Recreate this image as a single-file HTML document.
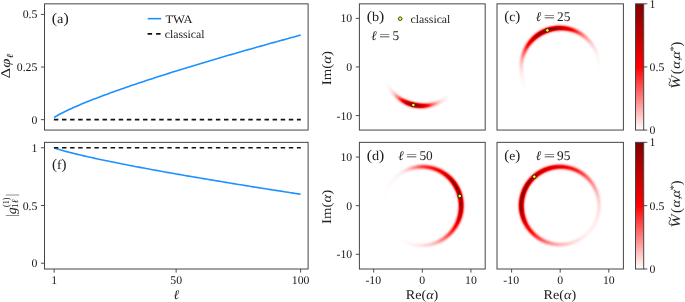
<!DOCTYPE html>
<html lang="en"><head><meta charset="utf-8"><title>TWA phase diffusion figure</title>
<style>html,body{margin:0;padding:0;background:#fff}body{width:685px;height:302px;overflow:hidden}svg{display:block}text{font-family:"Liberation Serif", serif;fill:#202020;text-rendering:geometricPrecision}svg{will-change:transform;transform:translateZ(0)}</style></head><body>
<svg width="685" height="302" viewBox="0 0 685 302">
<rect width="685" height="302" fill="#fff"/>
<defs><linearGradient id="cb" x1="0" y1="1" x2="0" y2="0"><stop offset="0" stop-color="#ffffff"/><stop offset="0.5" stop-color="#ff0000"/><stop offset="1" stop-color="#800000"/></linearGradient>
<clipPath id="cb_"><rect x="359.4" y="3.85" width="125.8" height="126.2"/></clipPath>
<clipPath id="cc_"><rect x="497" y="3.85" width="126.4" height="126.2"/></clipPath>
<clipPath id="cd_"><rect x="359.4" y="142.35" width="125.8" height="126.65"/></clipPath>
<clipPath id="ce_"><rect x="497" y="142.35" width="126.4" height="126.65"/></clipPath>
</defs>
<g id="panel-a">
<path d="M54.15 117.54L56.64 115.95L59.13 114.53L61.62 113.19L64.11 111.93L66.6 110.72L69.09 109.54L71.58 108.4L74.07 107.29L76.56 106.2L79.05 105.14L81.53 104.09L84.02 103.07L86.51 102.05L89 101.06L91.49 100.07L93.98 99.1L96.47 98.14L98.96 97.19L101.45 96.25L103.94 95.32L106.43 94.4L108.92 93.49L111.41 92.59L113.9 91.69L116.39 90.8L118.88 89.92L121.37 89.04L123.86 88.17L126.35 87.31L128.84 86.45L131.32 85.6L133.81 84.75L136.3 83.91L138.79 83.08L141.28 82.24L143.77 81.42L146.26 80.6L148.75 79.78L151.24 78.96L153.73 78.15L156.22 77.35L158.71 76.55L161.2 75.75L163.69 74.95L166.18 74.16L168.67 73.38L171.16 72.59L173.65 71.81L176.14 71.03L178.62 70.26L181.11 69.49L183.6 68.72L186.09 67.95L188.58 67.19L191.07 66.43L193.56 65.68L196.05 64.92L198.54 64.17L201.03 63.42L203.52 62.67L206.01 61.93L208.5 61.19L210.99 60.45L213.48 59.71L215.97 58.98L218.46 58.25L220.95 57.52L223.44 56.79L225.93 56.06L228.42 55.34L230.9 54.62L233.39 53.9L235.88 53.18L238.37 52.46L240.86 51.75L243.35 51.04L245.84 50.33L248.33 49.62L250.82 48.92L253.31 48.21L255.8 47.51L258.29 46.81L260.78 46.11L263.27 45.41L265.76 44.71L268.25 44.02L270.74 43.33L273.23 42.64L275.72 41.95L278.2 41.26L280.69 40.57L283.18 39.89L285.67 39.2L288.16 38.52L290.65 37.84L293.14 37.16L295.63 36.49L298.12 35.81L300.61 35.13" fill="none" stroke="#1e90ff" stroke-width="1.6" stroke-linecap="butt" stroke-linejoin="round"/>
<line x1="53.9" y1="119.65" x2="300.8" y2="119.65" stroke="#111" stroke-width="1.7" stroke-dasharray="4.45 3.65"/>
<rect x="44.5" y="3.85" width="263.6" height="126.2" fill="none" stroke="#454545" stroke-width="1"/>
<line x1="40.9" y1="14.45" x2="44.5" y2="14.45" stroke="#454545" stroke-width="0.95" />
<text x="37.4" y="18.45" font-size="11.8" text-anchor="end">0.5</text>
<line x1="40.9" y1="67.05" x2="44.5" y2="67.05" stroke="#454545" stroke-width="0.95" />
<text x="37.4" y="71.05" font-size="11.8" text-anchor="end">0.25</text>
<line x1="40.9" y1="119.65" x2="44.5" y2="119.65" stroke="#454545" stroke-width="0.95" />
<text x="37.4" y="123.65" font-size="11.8" text-anchor="end">0</text>
<text x="51.8" y="22.8" font-size="13.3" textLength="17" lengthAdjust="spacingAndGlyphs"><tspan font-size="14.7" dy="0.3">(</tspan><tspan dy="-0.3">a</tspan><tspan font-size="14.7" dy="0.3">)</tspan></text>
<line x1="147.7" y1="18.65" x2="161.1" y2="18.65" stroke="#1e90ff" stroke-width="1.6" />
<text x="165.4" y="22.5" font-size="11.3" textLength="27.2" lengthAdjust="spacingAndGlyphs">TWA</text>
<line x1="147.6" y1="33.85" x2="160.8" y2="33.85" stroke="#111" stroke-width="1.7" stroke-dasharray="4.5 4.0"/>
<text x="164.8" y="37.8" font-size="11.5" textLength="39.7" lengthAdjust="spacingAndGlyphs">classical</text>
<text transform="translate(10.3 78.4) rotate(-90)" font-size="13.3" textLength="24.8" lengthAdjust="spacingAndGlyphs"><tspan>&#916;</tspan><tspan font-style="italic">&#966;</tspan><tspan font-style="italic" font-size="9.3" dy="2.2">&#8467;</tspan></text>
</g>
<g id="panel-f">
<path d="M54.15 147.81L56.64 148.69L59.13 149.48L61.62 150.22L64.11 150.93L66.6 151.61L69.09 152.27L71.58 152.9L74.07 153.53L76.56 154.14L79.05 154.73L81.53 155.32L84.02 155.89L86.51 156.46L89 157.02L91.49 157.57L93.98 158.12L96.47 158.66L98.96 159.19L101.45 159.72L103.94 160.24L106.43 160.76L108.92 161.27L111.41 161.78L113.9 162.29L116.39 162.79L118.88 163.29L121.37 163.78L123.86 164.27L126.35 164.75L128.84 165.24L131.32 165.72L133.81 166.19L136.3 166.67L138.79 167.14L141.28 167.61L143.77 168.08L146.26 168.54L148.75 169L151.24 169.46L153.73 169.92L156.22 170.37L158.71 170.82L161.2 171.27L163.69 171.72L166.18 172.17L168.67 172.61L171.16 173.06L173.65 173.5L176.14 173.93L178.62 174.37L181.11 174.81L183.6 175.24L186.09 175.67L188.58 176.1L191.07 176.53L193.56 176.96L196.05 177.39L198.54 177.81L201.03 178.23L203.52 178.66L206.01 179.08L208.5 179.5L210.99 179.91L213.48 180.33L215.97 180.75L218.46 181.16L220.95 181.57L223.44 181.98L225.93 182.39L228.42 182.8L230.9 183.21L233.39 183.62L235.88 184.02L238.37 184.43L240.86 184.83L243.35 185.23L245.84 185.64L248.33 186.04L250.82 186.44L253.31 186.84L255.8 187.23L258.29 187.63L260.78 188.03L263.27 188.42L265.76 188.81L268.25 189.21L270.74 189.6L273.23 189.99L275.72 190.38L278.2 190.77L280.69 191.16L283.18 191.55L285.67 191.93L288.16 192.32L290.65 192.7L293.14 193.09L295.63 193.47L298.12 193.86L300.61 194.24" fill="none" stroke="#1e90ff" stroke-width="1.6" stroke-linecap="butt" stroke-linejoin="round"/>
<line x1="53.9" y1="147.75" x2="300.8" y2="147.75" stroke="#111" stroke-width="1.7" stroke-dasharray="4.45 3.65"/>
<rect x="44.5" y="142.35" width="263.6" height="126.65" fill="none" stroke="#454545" stroke-width="1"/>
<line x1="40.9" y1="147.75" x2="44.5" y2="147.75" stroke="#454545" stroke-width="0.95" />
<text x="37.4" y="151.75" font-size="11.8" text-anchor="end">1</text>
<line x1="40.9" y1="205.5" x2="44.5" y2="205.5" stroke="#454545" stroke-width="0.95" />
<text x="37.4" y="209.5" font-size="11.8" text-anchor="end">0.5</text>
<line x1="40.9" y1="263.2" x2="44.5" y2="263.2" stroke="#454545" stroke-width="0.95" />
<text x="37.4" y="267.2" font-size="11.8" text-anchor="end">0</text>
<line x1="54.15" y1="269" x2="54.15" y2="272.6" stroke="#454545" stroke-width="0.95" />
<text x="54.15" y="284" font-size="11.8" text-anchor="middle">1</text>
<line x1="176.14" y1="269" x2="176.14" y2="272.6" stroke="#454545" stroke-width="0.95" />
<text x="176.14" y="284" font-size="11.8" text-anchor="middle">50</text>
<line x1="300.61" y1="269" x2="300.61" y2="272.6" stroke="#454545" stroke-width="0.95" />
<text x="300.61" y="284" font-size="11.8" text-anchor="middle">100</text>
<text x="176.2" y="298.8" font-size="13.3" text-anchor="middle" font-style="italic">&#8467;</text>
<text x="52" y="169" font-size="13.3" textLength="14.5" lengthAdjust="spacingAndGlyphs"><tspan font-size="14.7" dy="0.3">(</tspan><tspan dy="-0.3">f</tspan><tspan font-size="14.7" dy="0.3">)</tspan></text>
<g transform="translate(0 216.5) rotate(-90)" font-size="13.3"><text x="-0.35" y="15.5" font-size="14.6" textLength="2" lengthAdjust="spacingAndGlyphs">|</text><text x="2.2" y="15.5" font-style="italic" textLength="7" lengthAdjust="spacingAndGlyphs">g</text><text x="9.6" y="9.4" font-size="9.3" textLength="9.4" lengthAdjust="spacingAndGlyphs">(1)</text><text x="8.6" y="18.0" font-size="9.3">1<tspan font-style="italic">&#8467;</tspan></text><text x="20.45" y="15.5" font-size="14.6" textLength="2" lengthAdjust="spacingAndGlyphs">|</text></g>
</g>
<g id="panel-b">
<g clip-path="url(#cb_)"><path d="M386.4 81.9L385.9 82.8L385.8 84.3L386.1 85.8L386.4 87.2L386.9 88.6L387.5 90.0L388.1 91.3L388.8 92.6L389.6 93.9L390.4 95.2L391.3 96.4L392.3 97.5L393.2 98.7L394.3 99.7L395.4 100.8L396.5 101.8L397.7 102.8L398.9 103.7L400.2 104.6L401.4 105.4L402.8 106.1L404.1 106.9L405.5 107.5L406.9 108.1L408.3 108.7L409.8 109.1L411.3 109.6L412.8 109.9L414.3 110.2L415.8 110.5L417.3 110.7L418.9 110.8L420.4 110.8L421.9 110.8L423.4 110.8L425.0 110.6L426.5 110.4L428.0 110.2L429.5 109.9L431.0 109.5L432.4 109.1L433.9 108.6L435.3 108.1L436.7 107.5L438.0 106.9L439.4 106.2L440.7 105.4L441.9 104.7L443.2 103.8L444.3 102.9L445.5 102.0L446.6 101.0L447.6 99.9L448.6 98.8L449.4 97.6L450.2 96.4L450.9 95.0L450.9 93.3L449.2 93.4L447.9 93.9L446.7 94.5L445.5 95.1L444.4 95.7L443.2 96.2L442.0 96.8L440.9 97.3L439.7 97.8L438.6 98.2L437.4 98.6L436.2 99.0L435.1 99.4L433.9 99.7L432.7 100.0L431.5 100.2L430.3 100.4L429.1 100.6L427.9 100.7L426.8 100.8L425.6 100.9L424.4 100.9L423.2 100.9L422.0 100.8L420.8 100.8L419.6 100.6L418.5 100.5L417.3 100.3L416.2 100.1L415.0 99.9L413.9 99.6L412.7 99.3L411.6 99.0L410.5 98.6L409.3 98.2L408.2 97.8L407.1 97.4L406.1 96.9L405.0 96.4L403.9 95.8L402.9 95.2L401.8 94.6L400.8 94.0L399.8 93.3L398.8 92.6L397.8 91.8L396.9 91.1L395.9 90.3L395.0 89.4L394.1 88.6L393.2 87.7L392.3 86.8L391.4 85.9L390.5 84.9L389.6 84.0L388.6 83.0L387.4 82.1Z" fill="#fffcfc"/><path d="M387.5 84.3L387.0 85.3L387.1 86.8L387.5 88.3L388.0 89.7L388.6 91.0L389.2 92.3L390.0 93.6L390.8 94.8L391.6 96.0L392.6 97.2L393.5 98.3L394.6 99.4L395.6 100.5L396.7 101.5L397.9 102.4L399.1 103.4L400.3 104.2L401.6 105.0L402.9 105.8L404.3 106.5L405.6 107.2L407.0 107.8L408.5 108.3L409.9 108.8L411.4 109.2L412.8 109.6L414.3 109.9L415.8 110.1L417.4 110.3L418.9 110.4L420.4 110.5L421.9 110.5L423.4 110.4L424.9 110.3L426.5 110.1L427.9 109.8L429.4 109.5L430.9 109.2L432.3 108.7L433.8 108.3L435.2 107.7L436.5 107.1L437.9 106.5L439.2 105.8L440.5 105.0L441.7 104.2L442.9 103.4L444.1 102.5L445.2 101.5L446.2 100.5L447.2 99.4L448.0 98.2L448.8 96.9L448.9 95.3L447.4 95.3L446.0 95.7L444.8 96.2L443.6 96.8L442.4 97.3L441.2 97.7L440.0 98.2L438.8 98.6L437.6 99.0L436.4 99.4L435.2 99.8L434.0 100.1L432.8 100.3L431.6 100.6L430.4 100.8L429.2 100.9L428.0 101.1L426.8 101.2L425.6 101.2L424.4 101.3L423.2 101.2L422.0 101.2L420.8 101.1L419.6 101.0L418.4 100.9L417.3 100.7L416.1 100.5L414.9 100.2L413.8 100.0L412.6 99.7L411.5 99.3L410.3 99.0L409.2 98.6L408.1 98.1L407.0 97.7L405.9 97.2L404.8 96.7L403.7 96.1L402.7 95.5L401.6 94.9L400.6 94.3L399.5 93.6L398.5 92.9L397.5 92.1L396.6 91.4L395.6 90.6L394.6 89.8L393.7 88.9L392.7 88.0L391.8 87.2L390.8 86.3L389.8 85.4L388.6 84.5Z" fill="#fff8f8"/><path d="M388.8 86.7L388.5 87.7L388.7 89.2L389.1 90.6L389.7 91.9L390.4 93.2L391.2 94.5L392.0 95.7L392.9 96.9L393.8 98.0L394.8 99.1L395.9 100.1L397.0 101.1L398.1 102.1L399.3 103.0L400.5 103.9L401.8 104.7L403.1 105.5L404.4 106.2L405.8 106.8L407.2 107.4L408.6 108.0L410.0 108.4L411.5 108.9L412.9 109.2L414.4 109.5L415.9 109.7L417.4 109.9L418.9 110.0L420.4 110.1L421.9 110.1L423.4 110.0L424.9 109.9L426.4 109.7L427.9 109.4L429.4 109.1L430.8 108.7L432.2 108.3L433.6 107.8L435.0 107.3L436.4 106.7L437.7 106.0L439.0 105.3L440.2 104.6L441.5 103.7L442.6 102.9L443.7 101.9L444.8 100.9L445.7 99.8L446.5 98.5L446.6 97.3L445.4 97.1L444.0 97.4L442.8 97.9L441.5 98.3L440.3 98.7L439.1 99.1L437.8 99.5L436.6 99.9L435.4 100.2L434.2 100.5L433.0 100.8L431.7 101.0L430.5 101.2L429.3 101.4L428.1 101.5L426.9 101.6L425.6 101.6L424.4 101.6L423.2 101.6L422.0 101.6L420.8 101.5L419.6 101.4L418.4 101.2L417.2 101.1L416.0 100.9L414.8 100.6L413.7 100.3L412.5 100.0L411.3 99.7L410.2 99.3L409.1 98.9L407.9 98.5L406.8 98.0L405.7 97.5L404.6 97.0L403.5 96.5L402.4 95.9L401.3 95.3L400.3 94.6L399.3 93.9L398.2 93.2L397.2 92.5L396.2 91.7L395.2 90.9L394.2 90.1L393.2 89.3L392.2 88.5L391.1 87.6L389.8 86.8Z" fill="#fff3f3"/><path d="M390.0 88.6L389.8 90.1L390.2 91.6L390.8 92.9L391.5 94.2L392.3 95.4L393.2 96.6L394.1 97.7L395.1 98.8L396.1 99.9L397.2 100.9L398.3 101.8L399.5 102.7L400.7 103.6L402.0 104.4L403.2 105.2L404.6 105.9L405.9 106.5L407.3 107.1L408.7 107.7L410.1 108.1L411.5 108.6L413.0 108.9L414.5 109.2L415.9 109.4L417.4 109.6L418.9 109.7L420.4 109.8L421.9 109.8L423.4 109.7L424.9 109.6L426.4 109.4L427.9 109.1L429.3 108.8L430.7 108.4L432.2 108.0L433.5 107.5L434.9 107.0L436.2 106.3L437.6 105.7L438.8 105.0L440.1 104.2L441.2 103.3L442.3 102.4L443.4 101.4L444.3 100.2L444.7 98.7L443.2 98.5L441.8 98.8L440.5 99.2L439.3 99.6L438.0 99.9L436.8 100.3L435.5 100.6L434.3 100.9L433.1 101.1L431.8 101.3L430.6 101.5L429.4 101.7L428.1 101.8L426.9 101.9L425.7 101.9L424.4 102.0L423.2 101.9L422.0 101.9L420.8 101.8L419.6 101.7L418.4 101.5L417.2 101.4L416.0 101.1L414.8 100.9L413.6 100.6L412.4 100.3L411.2 100.0L410.1 99.6L408.9 99.2L407.8 98.8L406.7 98.3L405.5 97.8L404.4 97.3L403.3 96.7L402.2 96.2L401.1 95.5L400.1 94.9L399.0 94.2L398.0 93.5L396.9 92.8L395.9 92.0L394.8 91.3L393.8 90.5L392.7 89.7L391.5 88.9Z" fill="#ffecec"/><path d="M391.0 90.0L390.8 91.1L391.2 92.6L391.9 93.9L392.6 95.1L393.4 96.3L394.3 97.5L395.3 98.6L396.3 99.6L397.4 100.6L398.5 101.6L399.6 102.5L400.8 103.4L402.1 104.2L403.4 104.9L404.7 105.6L406.0 106.3L407.4 106.9L408.8 107.4L410.2 107.9L411.6 108.3L413.1 108.7L414.5 109.0L416.0 109.2L417.5 109.4L419.0 109.5L420.4 109.5L421.9 109.5L423.4 109.4L424.9 109.3L426.4 109.1L427.8 108.8L429.3 108.5L430.7 108.1L432.1 107.7L433.5 107.2L434.8 106.7L436.1 106.0L437.4 105.4L438.7 104.6L439.9 103.8L441.0 102.9L442.1 101.9L443.0 100.7L443.1 99.8L442.3 99.5L440.8 99.7L439.5 100.0L438.2 100.3L436.9 100.6L435.7 100.9L434.4 101.2L433.2 101.4L431.9 101.6L430.7 101.8L429.4 102.0L428.2 102.1L426.9 102.2L425.7 102.2L424.5 102.2L423.2 102.2L422.0 102.1L420.8 102.1L419.5 101.9L418.3 101.8L417.1 101.6L415.9 101.4L414.7 101.1L413.5 100.9L412.3 100.6L411.2 100.2L410.0 99.8L408.8 99.4L407.7 99.0L406.5 98.5L405.4 98.1L404.3 97.5L403.2 97.0L402.1 96.4L401.0 95.8L399.9 95.1L398.8 94.5L397.7 93.8L396.7 93.0L395.6 92.3L394.5 91.5L393.4 90.8L392.1 90.1Z" fill="#ffe3e3"/><path d="M391.9 91.2L391.8 92.1L392.2 93.6L392.9 94.9L393.7 96.1L394.5 97.2L395.5 98.4L396.5 99.4L397.5 100.4L398.6 101.4L399.8 102.3L401.0 103.2L402.2 104.0L403.5 104.7L404.8 105.4L406.1 106.1L407.4 106.7L408.8 107.2L410.2 107.7L411.7 108.1L413.1 108.5L414.6 108.8L416.0 109.0L417.5 109.2L419.0 109.3L420.5 109.3L421.9 109.3L423.4 109.2L424.9 109.1L426.3 108.9L427.8 108.6L429.2 108.3L430.6 107.9L432.0 107.5L433.4 107.0L434.7 106.4L436.0 105.8L437.3 105.1L438.5 104.3L439.7 103.4L440.8 102.4L441.7 101.2L441.7 100.7L441.2 100.4L439.7 100.4L438.4 100.7L437.1 100.9L435.8 101.2L434.5 101.4L433.2 101.7L432.0 101.9L430.7 102.1L429.5 102.2L428.2 102.3L427.0 102.4L425.7 102.4L424.5 102.4L423.2 102.4L422.0 102.4L420.8 102.3L419.5 102.2L418.3 102.0L417.1 101.8L415.9 101.6L414.7 101.3L413.5 101.1L412.3 100.8L411.1 100.4L409.9 100.0L408.8 99.6L407.6 99.2L406.4 98.7L405.3 98.3L404.2 97.7L403.0 97.2L401.9 96.6L400.8 96.0L399.7 95.3L398.6 94.7L397.5 94.0L396.4 93.3L395.3 92.6L394.1 91.9L392.8 91.2Z" fill="#ffdada"/><path d="M392.8 92.3L392.7 93.2L393.2 94.6L393.9 95.8L394.7 97.0L395.6 98.2L396.6 99.2L397.7 100.2L398.8 101.2L399.9 102.1L401.1 103.0L402.3 103.8L403.5 104.6L404.8 105.3L406.2 105.9L407.5 106.5L408.9 107.0L410.3 107.5L411.7 107.9L413.1 108.3L414.6 108.6L416.0 108.8L417.5 109.0L419.0 109.1L420.5 109.1L421.9 109.1L423.4 109.0L424.9 108.9L426.3 108.7L427.8 108.4L429.2 108.1L430.6 107.7L432.0 107.2L433.3 106.7L434.7 106.1L435.9 105.5L437.2 104.8L438.4 103.9L439.5 103.0L440.4 101.7L440.4 101.4L440.1 101.2L438.6 101.1L437.2 101.3L435.9 101.5L434.6 101.7L433.3 101.9L432.1 102.1L430.8 102.3L429.5 102.4L428.3 102.5L427.0 102.6L425.7 102.6L424.5 102.6L423.2 102.6L422.0 102.6L420.7 102.5L419.5 102.3L418.3 102.2L417.1 102.0L415.8 101.8L414.6 101.5L413.4 101.2L412.2 100.9L411.0 100.6L409.9 100.2L408.7 99.8L407.5 99.4L406.4 98.9L405.2 98.4L404.1 97.9L402.9 97.4L401.8 96.8L400.7 96.2L399.6 95.5L398.4 94.9L397.3 94.2L396.2 93.5L395.0 92.8L393.7 92.3Z" fill="#ffcfcf"/><path d="M393.6 93.2L393.5 94.2L394.2 95.6L394.9 96.8L395.8 98.0L396.8 99.0L397.8 100.1L398.9 101.0L400.0 102.0L401.2 102.8L402.4 103.6L403.6 104.4L404.9 105.1L406.2 105.8L407.6 106.4L408.9 106.9L410.3 107.4L411.7 107.8L413.2 108.1L414.6 108.4L416.1 108.6L417.5 108.8L419.0 108.9L420.5 108.9L421.9 108.9L423.4 108.8L424.9 108.7L426.3 108.5L427.7 108.2L429.1 107.9L430.5 107.5L431.9 107.0L433.3 106.5L434.6 105.9L435.9 105.2L437.1 104.5L438.2 103.6L439.2 102.3L439.2 102.0L438.9 101.7L437.4 101.6L436.0 101.8L434.7 102.0L433.4 102.2L432.1 102.3L430.8 102.5L429.6 102.6L428.3 102.7L427.0 102.8L425.8 102.8L424.5 102.8L423.2 102.8L422.0 102.7L420.7 102.6L419.5 102.5L418.3 102.4L417.0 102.2L415.8 101.9L414.6 101.7L413.4 101.4L412.2 101.1L411.0 100.8L409.8 100.4L408.6 100.0L407.4 99.5L406.3 99.1L405.1 98.6L404.0 98.1L402.8 97.5L401.7 96.9L400.6 96.3L399.4 95.7L398.3 95.1L397.1 94.4L395.9 93.8L394.6 93.2Z" fill="#ffc3c3"/><path d="M394.4 94.0L394.4 95.3L395.1 96.6L396.0 97.8L396.9 98.9L397.9 99.9L399.0 100.9L400.1 101.8L401.3 102.7L402.5 103.5L403.7 104.3L405.0 105.0L406.3 105.6L407.6 106.2L409.0 106.7L410.4 107.2L411.8 107.6L413.2 108.0L414.6 108.3L416.1 108.5L417.5 108.6L419.0 108.7L420.5 108.8L421.9 108.8L423.4 108.7L424.8 108.5L426.3 108.3L427.7 108.0L429.1 107.7L430.5 107.3L431.9 106.8L433.2 106.3L434.5 105.7L435.8 105.0L436.9 104.1L438.0 103.0L438.1 102.5L437.6 102.2L436.2 102.1L434.8 102.2L433.5 102.4L432.2 102.6L430.9 102.7L429.6 102.8L428.3 102.9L427.0 103.0L425.8 103.0L424.5 103.0L423.2 103.0L422.0 102.9L420.7 102.8L419.5 102.7L418.2 102.5L417.0 102.3L415.8 102.1L414.6 101.8L413.3 101.6L412.1 101.2L410.9 100.9L409.7 100.5L408.6 100.1L407.4 99.7L406.2 99.2L405.0 98.7L403.9 98.2L402.7 97.7L401.6 97.1L400.4 96.5L399.3 95.9L398.1 95.3L396.9 94.6L395.6 94.1Z" fill="#ffb7b7"/><path d="M395.1 94.7L395.4 96.3L396.2 97.6L397.1 98.7L398.0 99.7L399.1 100.7L400.2 101.7L401.3 102.5L402.5 103.4L403.8 104.1L405.0 104.8L406.3 105.5L407.7 106.1L409.0 106.6L410.4 107.1L411.8 107.5L413.2 107.8L414.7 108.1L416.1 108.3L417.6 108.5L419.0 108.6L420.5 108.6L421.9 108.6L423.4 108.5L424.8 108.4L426.3 108.2L427.7 107.9L429.1 107.5L430.5 107.1L431.8 106.6L433.1 106.1L434.4 105.4L435.7 104.7L436.8 103.7L437.1 102.9L436.3 102.6L434.9 102.5L433.6 102.6L432.2 102.8L430.9 102.9L429.6 103.0L428.3 103.1L427.1 103.1L425.8 103.2L424.5 103.1L423.2 103.1L422.0 103.0L420.7 102.9L419.5 102.8L418.2 102.7L417.0 102.5L415.8 102.2L414.5 102.0L413.3 101.7L412.1 101.4L410.9 101.0L409.7 100.7L408.5 100.3L407.3 99.8L406.1 99.4L405.0 98.9L403.8 98.4L402.6 97.8L401.5 97.3L400.3 96.7L399.1 96.1L397.9 95.5L396.7 94.9Z" fill="#ffa9a9"/><path d="M395.8 95.4L395.7 96.0L396.4 97.3L397.2 98.5L398.2 99.6L399.2 100.6L400.3 101.5L401.4 102.4L402.6 103.2L403.8 104.0L405.1 104.7L406.4 105.3L407.7 105.9L409.1 106.5L410.5 106.9L411.9 107.4L413.3 107.7L414.7 108.0L416.1 108.2L417.6 108.4L419.0 108.5L420.5 108.5L421.9 108.5L423.4 108.4L424.8 108.2L426.3 108.0L427.7 107.7L429.1 107.4L430.4 106.9L431.8 106.4L433.1 105.8L434.3 105.2L435.5 104.3L436.1 103.3L435.0 102.9L433.6 102.9L432.3 103.0L431.0 103.1L429.7 103.2L428.4 103.2L427.1 103.3L425.8 103.3L424.5 103.3L423.3 103.3L422.0 103.2L420.7 103.1L419.5 103.0L418.2 102.8L417.0 102.6L415.7 102.4L414.5 102.1L413.3 101.8L412.1 101.5L410.8 101.2L409.6 100.8L408.4 100.4L407.3 100.0L406.1 99.5L404.9 99.0L403.7 98.5L402.5 98.0L401.4 97.4L400.2 96.8L399.0 96.3L397.7 95.7L396.3 95.3Z" fill="#ff9a9a"/><path d="M396.5 96.0L396.6 97.0L397.4 98.3L398.3 99.4L399.3 100.4L400.4 101.4L401.5 102.3L402.7 103.1L403.9 103.9L405.2 104.6L406.4 105.2L407.8 105.8L409.1 106.3L410.5 106.8L411.9 107.2L413.3 107.6L414.7 107.9L416.2 108.1L417.6 108.2L419.0 108.3L420.5 108.4L421.9 108.3L423.4 108.2L424.8 108.1L426.2 107.8L427.6 107.6L429.0 107.2L430.4 106.7L431.7 106.2L433.0 105.6L434.2 104.8L435.1 103.7L433.7 103.2L432.4 103.2L431.0 103.3L429.7 103.4L428.4 103.4L427.1 103.4L425.8 103.5L424.5 103.4L423.3 103.4L422.0 103.3L420.7 103.2L419.5 103.1L418.2 102.9L417.0 102.7L415.7 102.5L414.5 102.2L413.2 102.0L412.0 101.6L410.8 101.3L409.6 100.9L408.4 100.5L407.2 100.1L406.0 99.6L404.8 99.2L403.6 98.6L402.4 98.1L401.3 97.6L400.1 97.0L398.8 96.5L397.5 96.0Z" fill="#ff8b8b"/><path d="M397.2 96.6L397.6 98.1L398.4 99.2L399.4 100.3L400.5 101.2L401.6 102.1L402.8 103.0L404.0 103.7L405.2 104.4L406.5 105.1L407.8 105.7L409.2 106.2L410.5 106.7L411.9 107.1L413.3 107.5L414.7 107.7L416.2 108.0L417.6 108.1L419.1 108.2L420.5 108.2L421.9 108.2L423.4 108.1L424.8 107.9L426.2 107.7L427.6 107.4L429.0 107.0L430.4 106.6L431.7 106.0L432.9 105.3L434.1 104.4L434.2 104.0L433.9 103.7L432.4 103.5L431.1 103.5L429.7 103.5L428.4 103.6L427.1 103.6L425.8 103.6L424.5 103.6L423.3 103.5L422.0 103.5L420.7 103.4L419.4 103.2L418.2 103.0L416.9 102.9L415.7 102.6L414.4 102.4L413.2 102.1L412.0 101.8L410.8 101.4L409.6 101.0L408.3 100.6L407.1 100.2L405.9 99.8L404.7 99.3L403.6 98.8L402.4 98.3L401.2 97.7L399.9 97.2L398.6 96.7Z" fill="#ff7b7b"/><path d="M397.8 97.2L397.8 97.7L398.6 99.0L399.5 100.1L400.6 101.1L401.7 102.0L402.8 102.8L404.0 103.6L405.3 104.3L406.5 105.0L407.9 105.6L409.2 106.1L410.6 106.6L411.9 107.0L413.3 107.3L414.8 107.6L416.2 107.8L417.6 108.0L419.1 108.1L420.5 108.1L421.9 108.1L423.4 108.0L424.8 107.8L426.2 107.6L427.6 107.2L429.0 106.8L430.3 106.4L431.6 105.8L432.8 105.0L433.3 104.2L432.5 103.8L431.1 103.7L429.8 103.7L428.5 103.7L427.1 103.8L425.8 103.8L424.5 103.7L423.3 103.7L422.0 103.6L420.7 103.5L419.4 103.3L418.2 103.2L416.9 103.0L415.7 102.7L414.4 102.5L413.2 102.2L412.0 101.9L410.7 101.5L409.5 101.2L408.3 100.8L407.1 100.3L405.9 99.9L404.7 99.4L403.5 98.9L402.3 98.4L401.0 97.9L399.8 97.4L398.4 97.0Z" fill="#ff6a6a"/><path d="M398.5 97.7L398.7 98.8L399.6 99.9L400.7 100.9L401.7 101.9L402.9 102.7L404.1 103.5L405.3 104.2L406.6 104.9L407.9 105.5L409.2 106.0L410.6 106.5L412.0 106.9L413.4 107.2L414.8 107.5L416.2 107.7L417.6 107.9L419.1 108.0L420.5 108.0L421.9 107.9L423.4 107.8L424.8 107.7L426.2 107.4L427.6 107.1L428.9 106.7L430.3 106.2L431.6 105.5L432.4 104.5L431.2 104.0L429.8 103.9L428.5 103.9L427.2 103.9L425.9 103.9L424.6 103.9L423.3 103.8L422.0 103.7L420.7 103.6L419.4 103.5L418.2 103.3L416.9 103.1L415.6 102.9L414.4 102.6L413.2 102.3L411.9 102.0L410.7 101.6L409.5 101.3L408.2 100.9L407.0 100.5L405.8 100.0L404.6 99.5L403.4 99.0L402.2 98.6L400.9 98.1L399.6 97.6Z" fill="#ff5858"/><path d="M399.1 98.2L399.1 98.3L399.8 99.7L400.8 100.8L401.8 101.7L403.0 102.6L404.1 103.4L405.4 104.1L406.6 104.8L407.9 105.4L409.3 105.9L410.6 106.4L412.0 106.8L413.4 107.1L414.8 107.4L416.2 107.6L417.7 107.8L419.1 107.8L420.5 107.9L421.9 107.8L423.4 107.7L424.8 107.5L426.2 107.3L427.6 106.9L428.9 106.5L430.2 105.9L431.4 105.0L431.5 104.7L431.3 104.5L429.9 104.2L428.5 104.1L427.2 104.1L425.9 104.0L424.6 104.0L423.3 103.9L422.0 103.8L420.7 103.7L419.4 103.6L418.1 103.4L416.9 103.2L415.6 103.0L414.4 102.7L413.1 102.4L411.9 102.1L410.7 101.8L409.4 101.4L408.2 101.0L407.0 100.6L405.8 100.1L404.5 99.7L403.3 99.2L402.1 98.7L400.8 98.3L399.3 98.1Z" fill="#ff4545"/><path d="M399.8 98.6L400.0 99.5L400.9 100.6L401.9 101.6L403.0 102.4L404.2 103.2L405.4 104.0L406.7 104.6L408.0 105.2L409.3 105.8L410.7 106.3L412.0 106.7L413.4 107.0L414.8 107.3L416.2 107.5L417.7 107.6L419.1 107.7L420.5 107.7L421.9 107.7L423.4 107.6L424.8 107.4L426.2 107.1L427.5 106.7L428.9 106.3L430.2 105.6L430.7 104.9L429.9 104.5L428.6 104.3L427.2 104.3L425.9 104.2L424.6 104.1L423.3 104.1L422.0 104.0L420.7 103.8L419.4 103.7L418.1 103.5L416.9 103.3L415.6 103.1L414.3 102.8L413.1 102.5L411.9 102.2L410.6 101.9L409.4 101.5L408.2 101.1L406.9 100.7L405.7 100.2L404.5 99.8L403.2 99.3L402.0 98.9L400.6 98.5Z" fill="#ff3232"/><path d="M400.4 99.1L401.0 100.4L402.0 101.4L403.1 102.3L404.3 103.1L405.5 103.9L406.7 104.5L408.0 105.1L409.3 105.7L410.7 106.1L412.1 106.6L413.4 106.9L414.8 107.2L416.3 107.4L417.7 107.5L419.1 107.6L420.5 107.6L421.9 107.6L423.4 107.4L424.8 107.2L426.2 106.9L427.5 106.6L428.8 106.0L429.8 105.1L428.6 104.6L427.2 104.4L425.9 104.4L424.6 104.3L423.3 104.2L422.0 104.1L420.7 104.0L419.4 103.8L418.1 103.6L416.8 103.4L415.6 103.2L414.3 102.9L413.1 102.6L411.8 102.3L410.6 102.0L409.3 101.6L408.1 101.2L406.9 100.8L405.6 100.4L404.4 99.9L403.1 99.5L401.8 99.1Z" fill="#ff1e1e"/><path d="M401.1 99.5L401.2 100.1L402.1 101.2L403.2 102.2L404.3 103.0L405.5 103.7L406.8 104.4L408.1 105.0L409.4 105.6L410.7 106.0L412.1 106.4L413.5 106.8L414.9 107.1L416.3 107.3L417.7 107.4L419.1 107.5L420.5 107.5L421.9 107.4L423.4 107.3L424.8 107.1L426.1 106.8L427.5 106.3L428.8 105.6L429.0 105.3L428.7 105.0L427.3 104.7L425.9 104.5L424.6 104.4L423.3 104.3L422.0 104.2L420.7 104.1L419.4 103.9L418.1 103.7L416.8 103.5L415.6 103.3L414.3 103.0L413.0 102.7L411.8 102.4L410.5 102.1L409.3 101.7L408.1 101.3L406.8 100.9L405.6 100.5L404.3 100.1L403.0 99.7L401.6 99.4Z" fill="#ff0909"/><path d="M401.8 100.0L402.2 101.0L403.3 102.0L404.4 102.9L405.6 103.6L406.8 104.3L408.1 104.9L409.4 105.5L410.8 105.9L412.1 106.3L413.5 106.7L414.9 107.0L416.3 107.2L417.7 107.3L419.1 107.4L420.5 107.4L421.9 107.3L423.4 107.2L424.7 106.9L426.1 106.6L427.4 106.1L428.1 105.4L427.3 104.9L425.9 104.7L424.6 104.6L423.3 104.5L422.0 104.3L420.7 104.2L419.4 104.0L418.1 103.9L416.8 103.6L415.5 103.4L414.3 103.1L413.0 102.8L411.8 102.5L410.5 102.2L409.3 101.8L408.0 101.4L406.8 101.0L405.5 100.6L404.2 100.2L402.9 99.9Z" fill="#f90000"/><path d="M402.5 100.4L402.5 100.6L403.4 101.8L404.5 102.7L405.7 103.5L406.9 104.2L408.1 104.8L409.5 105.3L410.8 105.8L412.1 106.2L413.5 106.6L414.9 106.8L416.3 107.1L417.7 107.2L419.1 107.3L420.5 107.3L421.9 107.2L423.3 107.0L424.7 106.7L426.1 106.3L427.3 105.5L426.0 105.0L424.6 104.8L423.3 104.6L422.0 104.5L420.7 104.3L419.4 104.2L418.1 104.0L416.8 103.8L415.5 103.5L414.3 103.2L413.0 102.9L411.7 102.6L410.5 102.3L409.2 101.9L408.0 101.6L406.7 101.2L405.4 100.8L404.1 100.4L402.7 100.3Z" fill="#ee0000"/><path d="M403.2 100.8L403.5 101.6L404.6 102.5L405.7 103.3L406.9 104.1L408.2 104.7L409.5 105.2L410.8 105.7L412.2 106.1L413.5 106.5L414.9 106.7L416.3 106.9L417.7 107.1L419.1 107.1L420.5 107.1L422.0 107.0L423.3 106.8L424.7 106.5L426.1 106.0L426.4 105.6L426.0 105.3L424.6 105.0L423.3 104.8L422.0 104.6L420.7 104.5L419.4 104.3L418.1 104.1L416.8 103.9L415.5 103.6L414.2 103.4L413.0 103.1L411.7 102.7L410.4 102.4L409.2 102.1L407.9 101.7L406.6 101.3L405.3 101.0L404.0 100.7Z" fill="#e20000"/><path d="M403.9 101.2L404.7 102.3L405.8 103.2L407.0 103.9L408.2 104.6L409.5 105.1L410.9 105.6L412.2 106.0L413.6 106.4L414.9 106.6L416.3 106.8L417.7 107.0L419.1 107.0L420.6 107.0L422.0 106.9L423.3 106.7L424.7 106.3L425.5 105.7L424.6 105.2L423.3 105.0L422.0 104.8L420.7 104.6L419.4 104.4L418.1 104.2L416.8 104.0L415.5 103.7L414.2 103.5L412.9 103.2L411.7 102.9L410.4 102.5L409.1 102.2L407.9 101.8L406.6 101.5L405.2 101.1Z" fill="#d70000"/><path d="M404.7 101.6L404.8 102.0L405.9 103.0L407.0 103.8L408.3 104.4L409.6 105.0L410.9 105.5L412.2 105.9L413.6 106.2L415.0 106.5L416.4 106.7L417.8 106.8L419.2 106.9L420.6 106.8L422.0 106.7L423.3 106.4L424.5 105.8L423.3 105.2L422.0 105.0L420.6 104.8L419.3 104.5L418.0 104.3L416.7 104.1L415.5 103.9L414.2 103.6L412.9 103.3L411.6 103.0L410.4 102.7L409.1 102.3L407.8 102.0L406.5 101.6L405.1 101.4Z" fill="#cb0000"/><path d="M405.5 102.0L406.0 102.8L407.1 103.6L408.3 104.3L409.6 104.9L410.9 105.4L412.3 105.8L413.6 106.1L415.0 106.4L416.4 106.6L417.8 106.7L419.2 106.7L420.6 106.7L422.0 106.5L423.3 106.1L423.5 105.8L423.3 105.6L422.0 105.2L420.6 104.9L419.3 104.7L418.0 104.5L416.7 104.2L415.4 104.0L414.2 103.7L412.9 103.4L411.6 103.1L410.3 102.8L409.0 102.5L407.7 102.1L406.4 101.9Z" fill="#be0000"/><path d="M406.4 102.4L407.2 103.4L408.4 104.1L409.7 104.7L411.0 105.2L412.3 105.6L413.6 106.0L415.0 106.2L416.4 106.4L417.8 106.5L419.2 106.6L420.6 106.5L422.0 106.2L422.5 105.8L422.0 105.5L420.6 105.1L419.3 104.9L418.0 104.6L416.7 104.4L415.4 104.1L414.1 103.8L412.8 103.5L411.6 103.2L410.3 102.9L409.0 102.6L407.6 102.3Z" fill="#b20000"/><path d="M407.3 102.8L407.4 103.0L408.5 103.9L409.7 104.5L411.0 105.1L412.3 105.5L413.7 105.8L415.0 106.1L416.4 106.3L417.8 106.4L419.2 106.4L420.6 106.2L421.3 105.8L420.6 105.4L419.3 105.1L418.0 104.8L416.7 104.5L415.4 104.3L414.1 104.0L412.8 103.7L411.5 103.4L410.2 103.1L408.9 102.8L407.5 102.7Z" fill="#a50000"/><path d="M408.5 103.3L408.6 103.6L409.8 104.3L411.1 104.9L412.4 105.3L413.7 105.7L415.1 105.9L416.4 106.1L417.8 106.2L419.2 106.1L420.0 105.8L419.3 105.3L418.0 105.0L416.7 104.7L415.4 104.4L414.1 104.1L412.8 103.9L411.5 103.6L410.1 103.3L408.8 103.1Z" fill="#980000"/><path d="M409.8 103.8L409.9 104.0L411.1 104.7L412.4 105.1L413.8 105.5L415.1 105.7L416.5 105.9L417.9 105.9L418.4 105.6L417.9 105.3L416.6 104.9L415.3 104.6L414.0 104.3L412.7 104.1L411.4 103.8L410.0 103.7Z" fill="#8a0000"/><path d="M412.1 104.5L412.5 104.8L413.8 105.2L415.2 105.4L415.9 105.3L415.3 105.0L413.9 104.6L412.6 104.4Z" fill="#810000"/></g>
<circle cx="413.4" cy="104.98" r="1.8" fill="#ffff00" stroke="#111" stroke-width="0.8"/>
<rect x="359.4" y="3.85" width="125.8" height="126.2" fill="none" stroke="#454545" stroke-width="1"/>
<line x1="355.8" y1="18.35" x2="359.4" y2="18.35" stroke="#454545" stroke-width="0.95" />
<text x="352.2" y="22.35" font-size="11.8" text-anchor="end">10</text>
<line x1="355.8" y1="66.95" x2="359.4" y2="66.95" stroke="#454545" stroke-width="0.95" />
<text x="352.2" y="70.95" font-size="11.8" text-anchor="end">0</text>
<line x1="355.8" y1="115.55" x2="359.4" y2="115.55" stroke="#454545" stroke-width="0.95" />
<text x="352.2" y="119.55" font-size="11.8" text-anchor="end">-10</text>
<text transform="translate(330.5 68.15) rotate(-90)" font-size="13.3" text-anchor="middle" textLength="34" lengthAdjust="spacingAndGlyphs">Im(<tspan font-style="italic">&#945;</tspan>)</text>
<text x="366.7" y="21.15" font-size="13.3" textLength="17.6" lengthAdjust="spacingAndGlyphs"><tspan font-size="14.7" dy="0.3">(</tspan><tspan dy="-0.3">b</tspan><tspan font-size="14.7" dy="0.3">)</tspan></text>
<text x="371.2" y="40.2" font-size="13.3" font-style="italic" textLength="5.4" lengthAdjust="spacingAndGlyphs">&#8467;</text>
<text x="379.1" y="40.2" font-size="13.3" textLength="11.3" lengthAdjust="spacingAndGlyphs">=</text>
<text x="392.4" y="40.2" font-size="13.3" textLength="6.65" lengthAdjust="spacingAndGlyphs">5</text>
<circle cx="400.2" cy="18.7" r="1.8" fill="#ffff00" stroke="#111" stroke-width="0.8"/>
<text x="410.6" y="22.5" font-size="11.5" textLength="39.7" lengthAdjust="spacingAndGlyphs">classical</text>
</g>
<g id="panel-c">
<g clip-path="url(#cc_)"><path d="M599.0 69.8L599.5 69.4L600.1 68.0L600.4 66.6L600.7 65.2L600.8 63.8L600.9 62.3L600.8 60.9L600.8 59.4L600.6 58.0L600.4 56.6L600.1 55.1L599.8 53.7L599.4 52.3L599.0 50.9L598.5 49.5L598.0 48.1L597.4 46.8L596.7 45.4L596.0 44.1L595.3 42.9L594.5 41.6L593.6 40.4L592.7 39.2L591.8 38.0L590.8 36.9L589.8 35.8L588.7 34.7L587.6 33.7L586.5 32.7L585.3 31.8L584.1 30.9L582.8 30.0L581.6 29.2L580.2 28.4L578.9 27.7L577.5 27.1L576.2 26.4L574.8 25.9L573.3 25.3L571.9 24.9L570.4 24.5L568.9 24.1L567.4 23.8L565.9 23.5L564.4 23.3L562.9 23.2L561.3 23.1L559.8 23.0L558.3 23.1L556.8 23.1L555.2 23.3L553.7 23.4L552.2 23.7L550.7 24.0L549.2 24.3L547.7 24.7L546.2 25.2L544.8 25.7L543.4 26.3L541.9 26.9L540.6 27.6L539.2 28.3L537.9 29.0L536.6 29.9L535.3 30.7L534.1 31.6L532.9 32.6L531.7 33.6L530.6 34.6L529.5 35.7L528.4 36.8L527.4 37.9L526.5 39.1L525.5 40.4L524.7 41.6L523.8 42.9L523.1 44.2L522.3 45.5L521.7 46.9L521.0 48.3L520.4 49.7L519.9 51.1L519.4 52.5L519.0 54.0L518.7 55.4L518.3 56.9L518.1 58.4L517.9 59.9L517.7 61.4L517.6 62.9L517.6 64.3L517.6 65.8L517.7 67.3L517.8 68.8L518.0 70.3L518.2 71.7L518.3 73.2L518.6 74.7L518.9 76.1L519.2 77.6L519.6 79.0L520.1 80.4L520.6 81.8L521.2 83.1L521.8 84.4L522.5 85.7L523.3 87.0L524.2 88.2L525.1 89.3L526.2 90.3L527.0 90.4L527.2 89.7L526.9 88.1L526.6 86.7L526.3 85.4L526.0 84.0L525.7 82.7L525.4 81.3L525.2 80.0L525.0 78.7L524.9 77.4L524.8 76.1L524.7 74.8L524.7 73.5L524.7 72.2L524.8 71.0L524.9 69.7L524.9 68.5L524.9 67.3L525.0 66.0L525.2 64.8L525.4 63.6L525.6 62.4L525.8 61.2L526.1 60.0L526.4 58.8L526.8 57.7L527.2 56.5L527.7 55.4L528.1 54.3L528.6 53.2L529.2 52.2L529.8 51.1L530.4 50.1L531.0 49.1L531.7 48.1L532.4 47.1L533.2 46.2L533.9 45.3L534.7 44.4L535.6 43.6L536.4 42.8L537.3 42.0L538.2 41.2L539.1 40.5L540.1 39.8L541.1 39.1L542.1 38.5L543.1 37.9L544.1 37.3L545.1 36.8L546.2 36.3L547.3 35.8L548.4 35.4L549.5 35.0L550.6 34.6L551.8 34.3L552.9 34.0L554.0 33.8L555.2 33.5L556.4 33.4L557.5 33.3L558.7 33.2L559.9 33.1L561.1 33.1L562.3 33.1L563.5 33.2L564.6 33.3L565.8 33.4L567.0 33.6L568.1 33.8L569.3 34.1L570.5 34.4L571.6 34.7L572.7 35.1L573.9 35.5L575.0 36.0L576.1 36.5L577.1 37.0L578.2 37.6L579.2 38.2L580.3 38.8L581.3 39.5L582.3 40.2L583.2 40.9L584.2 41.7L585.1 42.5L586.0 43.4L586.8 44.2L587.6 45.1L588.5 46.0L589.2 47.0L590.0 48.0L590.7 49.0L591.4 50.0L592.0 51.1L592.7 52.2L593.2 53.3L593.8 54.4L594.3 55.5L594.8 56.7L595.3 57.9L595.7 59.1L596.1 60.3L596.5 61.5L596.8 62.8L597.1 64.0L597.4 65.3L597.7 66.6L598.0 67.9L598.5 69.3Z" fill="#fffcfc"/><path d="M599.0 64.3L599.4 63.9L599.8 62.4L599.9 61.0L600.0 59.6L599.9 58.2L599.7 56.7L599.5 55.3L599.2 53.9L598.9 52.5L598.5 51.1L598.0 49.7L597.5 48.4L596.9 47.0L596.3 45.7L595.6 44.4L594.9 43.1L594.1 41.9L593.3 40.7L592.4 39.5L591.5 38.3L590.5 37.2L589.5 36.1L588.4 35.0L587.3 34.0L586.2 33.0L585.1 32.1L583.9 31.2L582.6 30.4L581.4 29.6L580.1 28.8L578.7 28.1L577.4 27.4L576.0 26.8L574.6 26.2L573.2 25.7L571.8 25.2L570.3 24.8L568.8 24.5L567.4 24.1L565.9 23.9L564.4 23.7L562.9 23.5L561.3 23.4L559.8 23.4L558.3 23.4L556.8 23.5L555.3 23.6L553.8 23.8L552.2 24.0L550.8 24.3L549.3 24.7L547.8 25.1L546.3 25.5L544.9 26.0L543.5 26.6L542.1 27.2L540.7 27.9L539.4 28.6L538.1 29.4L536.8 30.2L535.5 31.0L534.3 31.9L533.1 32.9L531.9 33.9L530.8 34.9L529.7 35.9L528.7 37.1L527.7 38.2L526.7 39.4L525.8 40.6L525.0 41.8L524.2 43.1L523.4 44.4L522.7 45.7L522.0 47.1L521.4 48.4L520.8 49.8L520.3 51.2L519.8 52.7L519.4 54.1L519.1 55.5L518.8 57.0L518.5 58.5L518.3 59.9L518.2 61.4L518.1 62.9L518.1 64.4L518.1 65.8L518.2 67.3L518.3 68.8L518.5 70.2L518.7 71.7L518.9 73.1L519.1 74.6L519.4 76.0L519.8 77.4L520.2 78.8L520.7 80.2L521.3 81.5L522.0 82.8L522.7 84.0L523.6 85.2L524.7 85.7L524.9 84.5L524.8 83.1L524.7 81.7L524.5 80.3L524.4 78.9L524.3 77.6L524.2 76.3L524.2 74.9L524.2 73.6L524.2 72.3L524.3 71.0L524.4 69.8L524.4 68.5L524.5 67.3L524.6 66.0L524.7 64.8L524.9 63.6L525.1 62.3L525.4 61.1L525.7 59.9L526.0 58.7L526.4 57.6L526.8 56.4L527.3 55.3L527.8 54.2L528.3 53.1L528.8 52.0L529.4 50.9L530.1 49.9L530.7 48.9L531.4 47.9L532.1 46.9L532.9 46.0L533.7 45.1L534.5 44.2L535.3 43.3L536.2 42.5L537.1 41.7L538.0 40.9L538.9 40.2L539.9 39.5L540.8 38.8L541.9 38.2L542.9 37.5L543.9 37.0L545.0 36.4L546.1 35.9L547.2 35.5L548.3 35.0L549.4 34.6L550.5 34.3L551.7 33.9L552.8 33.6L554.0 33.4L555.2 33.2L556.3 33.0L557.5 32.9L558.7 32.8L559.9 32.7L561.1 32.7L562.3 32.8L563.5 32.8L564.7 32.9L565.9 33.1L567.1 33.2L568.2 33.5L569.4 33.7L570.6 34.0L571.7 34.4L572.9 34.8L574.0 35.2L575.1 35.6L576.2 36.1L577.3 36.7L578.4 37.2L579.5 37.8L580.5 38.5L581.5 39.2L582.5 39.9L583.5 40.6L584.4 41.4L585.4 42.2L586.3 43.1L587.2 43.9L588.0 44.8L588.8 45.8L589.6 46.7L590.4 47.7L591.1 48.7L591.8 49.8L592.5 50.8L593.2 51.9L593.8 53.0L594.4 54.2L594.9 55.3L595.4 56.5L596.0 57.7L596.4 58.9L596.9 60.1L597.4 61.4L597.9 62.7L598.5 63.9Z" fill="#fff8f8"/><path d="M598.2 58.6L598.3 58.5L598.7 57.0L598.6 55.6L598.4 54.2L598.2 52.8L597.8 51.4L597.4 50.0L596.9 48.6L596.4 47.3L595.8 46.0L595.1 44.7L594.4 43.4L593.7 42.2L592.9 41.0L592.0 39.8L591.1 38.6L590.1 37.5L589.2 36.4L588.1 35.4L587.1 34.4L585.9 33.4L584.8 32.5L583.6 31.6L582.4 30.7L581.1 29.9L579.9 29.2L578.6 28.5L577.2 27.8L575.9 27.2L574.5 26.6L573.1 26.1L571.7 25.6L570.2 25.2L568.8 24.8L567.3 24.5L565.8 24.3L564.3 24.1L562.8 23.9L561.3 23.8L559.8 23.8L558.3 23.8L556.8 23.9L555.3 24.0L553.8 24.2L552.3 24.4L550.8 24.7L549.4 25.1L547.9 25.5L546.5 25.9L545.0 26.4L543.6 27.0L542.3 27.6L540.9 28.2L539.6 28.9L538.2 29.7L537.0 30.5L535.7 31.3L534.5 32.2L533.3 33.2L532.2 34.1L531.1 35.2L530.0 36.2L529.0 37.3L528.0 38.5L527.1 39.6L526.2 40.8L525.3 42.1L524.5 43.3L523.7 44.6L523.0 45.9L522.4 47.3L521.8 48.6L521.2 50.0L520.7 51.4L520.2 52.8L519.8 54.2L519.5 55.7L519.2 57.1L519.0 58.6L518.8 60.0L518.7 61.5L518.6 62.9L518.6 64.4L518.6 65.9L518.7 67.3L518.9 68.8L519.1 70.2L519.3 71.6L519.5 73.0L519.8 74.4L520.2 75.8L520.6 77.2L521.2 78.5L521.8 79.8L522.9 80.6L523.3 79.3L523.4 77.9L523.4 76.5L523.4 75.1L523.5 73.8L523.6 72.4L523.7 71.1L523.8 69.8L523.8 68.5L523.9 67.3L524.1 66.0L524.2 64.7L524.4 63.5L524.7 62.3L524.9 61.0L525.2 59.8L525.6 58.6L526.0 57.5L526.4 56.3L526.9 55.1L527.4 54.0L527.9 52.9L528.5 51.8L529.1 50.7L529.7 49.7L530.4 48.7L531.1 47.7L531.8 46.7L532.6 45.7L533.3 44.8L534.2 43.9L535.0 43.0L535.9 42.2L536.8 41.4L537.7 40.6L538.7 39.9L539.6 39.2L540.6 38.5L541.6 37.8L542.7 37.2L543.7 36.6L544.8 36.1L545.9 35.6L547.0 35.1L548.1 34.7L549.3 34.3L550.4 33.9L551.6 33.6L552.7 33.3L553.9 33.0L555.1 32.8L556.3 32.6L557.5 32.5L558.7 32.4L559.9 32.4L561.1 32.3L562.3 32.4L563.5 32.4L564.7 32.5L565.9 32.7L567.1 32.9L568.3 33.1L569.5 33.4L570.7 33.7L571.9 34.0L573.0 34.4L574.2 34.8L575.3 35.3L576.4 35.8L577.5 36.3L578.6 36.9L579.7 37.5L580.8 38.1L581.8 38.8L582.8 39.5L583.8 40.3L584.8 41.1L585.7 41.9L586.6 42.7L587.5 43.6L588.4 44.5L589.2 45.5L590.1 46.4L590.9 47.4L591.6 48.4L592.4 49.5L593.1 50.6L593.8 51.7L594.4 52.8L595.1 53.9L595.7 55.1L596.3 56.2L597.0 57.4L598.0 58.6Z" fill="#fff3f3"/><path d="M596.9 54.2L597.2 53.1L597.1 51.7L596.8 50.3L596.4 48.9L595.9 47.6L595.3 46.3L594.7 45.0L594.0 43.7L593.3 42.5L592.5 41.3L591.7 40.1L590.8 38.9L589.9 37.8L588.9 36.7L587.9 35.7L586.8 34.7L585.7 33.7L584.6 32.8L583.4 31.9L582.2 31.0L581.0 30.2L579.7 29.5L578.4 28.8L577.1 28.1L575.8 27.5L574.4 26.9L573.0 26.4L571.6 25.9L570.1 25.5L568.7 25.1L567.2 24.8L565.8 24.6L564.3 24.4L562.8 24.2L561.3 24.1L559.8 24.1L558.3 24.1L556.8 24.2L555.3 24.3L553.9 24.5L552.4 24.7L550.9 25.0L549.4 25.3L548.0 25.7L546.6 26.2L545.1 26.7L543.8 27.2L542.4 27.8L541.0 28.5L539.7 29.2L538.4 29.9L537.1 30.7L535.9 31.6L534.7 32.5L533.5 33.4L532.4 34.4L531.3 35.4L530.2 36.4L529.2 37.5L528.2 38.7L527.3 39.8L526.4 41.0L525.6 42.2L524.8 43.5L524.0 44.8L523.3 46.1L522.7 47.4L522.1 48.8L521.5 50.1L521.0 51.5L520.6 52.9L520.2 54.3L519.8 55.8L519.6 57.2L519.3 58.6L519.2 60.1L519.1 61.5L519.0 63.0L519.0 64.4L519.1 65.9L519.2 67.3L519.4 68.7L519.7 70.1L519.9 71.5L520.2 72.9L520.6 74.3L521.1 75.6L522.0 76.4L522.5 75.3L522.7 73.9L522.9 72.5L523.1 71.2L523.2 69.9L523.3 68.6L523.4 67.3L523.6 66.0L523.8 64.7L524.0 63.5L524.2 62.2L524.5 61.0L524.9 59.8L525.2 58.6L525.6 57.4L526.1 56.2L526.5 55.0L527.0 53.9L527.6 52.8L528.2 51.7L528.8 50.6L529.4 49.5L530.1 48.5L530.8 47.5L531.5 46.5L532.3 45.5L533.1 44.6L533.9 43.7L534.8 42.8L535.7 42.0L536.6 41.2L537.5 40.4L538.5 39.6L539.5 38.9L540.5 38.2L541.5 37.6L542.5 37.0L543.6 36.4L544.7 35.8L545.8 35.3L546.9 34.8L548.0 34.4L549.2 34.0L550.3 33.6L551.5 33.3L552.7 33.0L553.9 32.7L555.1 32.5L556.3 32.3L557.5 32.2L558.7 32.1L559.9 32.0L561.1 32.0L562.3 32.1L563.6 32.1L564.8 32.2L566.0 32.4L567.2 32.6L568.4 32.8L569.6 33.0L570.8 33.3L572.0 33.7L573.1 34.1L574.3 34.5L575.5 35.0L576.6 35.5L577.7 36.0L578.8 36.6L579.9 37.2L581.0 37.8L582.0 38.5L583.0 39.2L584.1 40.0L585.0 40.8L586.0 41.6L586.9 42.4L587.9 43.3L588.8 44.2L589.6 45.2L590.5 46.2L591.3 47.1L592.1 48.2L592.9 49.2L593.6 50.3L594.4 51.4L595.2 52.5L596.0 53.6Z" fill="#ffecec"/><path d="M595.5 50.7L595.7 49.3L595.3 47.9L594.8 46.5L594.3 45.2L593.6 44.0L592.9 42.7L592.2 41.5L591.4 40.3L590.5 39.2L589.6 38.1L588.7 37.0L587.7 35.9L586.6 34.9L585.5 33.9L584.4 33.0L583.3 32.1L582.1 31.3L580.8 30.5L579.6 29.7L578.3 29.0L577.0 28.3L575.7 27.7L574.3 27.2L572.9 26.6L571.5 26.2L570.1 25.8L568.7 25.4L567.2 25.1L565.7 24.8L564.3 24.6L562.8 24.5L561.3 24.4L559.8 24.3L558.3 24.4L556.9 24.4L555.4 24.6L553.9 24.7L552.4 25.0L551.0 25.2L549.5 25.6L548.1 26.0L546.6 26.4L545.2 26.9L543.8 27.5L542.5 28.1L541.1 28.7L539.8 29.4L538.5 30.2L537.3 31.0L536.0 31.8L534.8 32.7L533.7 33.6L532.5 34.6L531.5 35.6L530.4 36.6L529.4 37.7L528.4 38.8L527.5 40.0L526.6 41.2L525.8 42.4L525.0 43.6L524.2 44.9L523.6 46.2L522.9 47.5L522.3 48.9L521.8 50.2L521.3 51.6L520.9 53.0L520.5 54.4L520.2 55.8L519.9 57.3L519.7 58.7L519.5 60.1L519.4 61.6L519.4 63.0L519.4 64.5L519.5 65.9L519.7 67.3L519.9 68.7L520.2 70.1L520.6 71.5L521.2 72.8L521.6 73.0L521.9 72.7L522.4 71.3L522.6 69.9L522.8 68.6L523.0 67.3L523.2 66.0L523.4 64.7L523.6 63.4L523.9 62.2L524.2 60.9L524.5 59.7L524.9 58.5L525.3 57.3L525.8 56.1L526.2 54.9L526.8 53.8L527.3 52.6L527.9 51.5L528.5 50.5L529.2 49.4L529.9 48.4L530.6 47.3L531.3 46.3L532.1 45.4L532.9 44.4L533.7 43.5L534.6 42.7L535.5 41.8L536.4 41.0L537.4 40.2L538.3 39.4L539.3 38.7L540.3 38.0L541.4 37.4L542.4 36.7L543.5 36.1L544.6 35.6L545.7 35.1L546.8 34.6L547.9 34.1L549.1 33.7L550.3 33.4L551.4 33.0L552.6 32.7L553.8 32.5L555.0 32.3L556.2 32.1L557.4 32.0L558.7 31.9L559.9 31.8L561.1 31.8L562.3 31.8L563.6 31.9L564.8 32.0L566.0 32.1L567.2 32.3L568.5 32.5L569.7 32.8L570.9 33.1L572.1 33.4L573.2 33.8L574.4 34.2L575.6 34.7L576.7 35.2L577.9 35.7L579.0 36.3L580.1 36.9L581.1 37.6L582.2 38.3L583.2 39.0L584.3 39.7L585.3 40.5L586.3 41.3L587.2 42.2L588.2 43.1L589.1 44.0L590.0 44.9L590.8 45.9L591.7 46.9L592.6 47.9L593.4 48.9L594.3 49.9Z" fill="#ffe3e3"/><path d="M594.1 47.9L594.2 46.9L593.8 45.5L593.2 44.2L592.6 43.0L591.9 41.8L591.1 40.6L590.3 39.4L589.4 38.3L588.4 37.2L587.5 36.1L586.4 35.1L585.4 34.2L584.3 33.2L583.1 32.3L581.9 31.5L580.7 30.7L579.5 29.9L578.2 29.2L576.9 28.6L575.6 27.9L574.2 27.4L572.8 26.9L571.4 26.4L570.0 26.0L568.6 25.6L567.2 25.3L565.7 25.1L564.3 24.9L562.8 24.7L561.3 24.6L559.8 24.6L558.3 24.6L556.9 24.6L555.4 24.8L553.9 24.9L552.5 25.2L551.0 25.5L549.6 25.8L548.1 26.2L546.7 26.6L545.3 27.1L543.9 27.7L542.6 28.3L541.2 28.9L539.9 29.6L538.6 30.3L537.4 31.1L536.2 32.0L535.0 32.9L533.8 33.8L532.7 34.7L531.6 35.7L530.6 36.8L529.6 37.9L528.6 39.0L527.7 40.1L526.8 41.3L526.0 42.5L525.2 43.8L524.4 45.0L523.8 46.3L523.1 47.7L522.5 49.0L522.0 50.3L521.5 51.7L521.1 53.1L520.7 54.5L520.4 55.9L520.2 57.3L520.0 58.8L519.8 60.2L519.8 61.6L519.8 63.1L519.8 64.5L520.0 65.9L520.2 67.3L520.5 68.7L521.3 70.0L521.4 70.1L521.6 70.0L522.2 68.6L522.5 67.3L522.7 66.0L523.0 64.7L523.2 63.4L523.5 62.1L523.9 60.9L524.2 59.6L524.6 58.4L525.0 57.2L525.5 56.0L526.0 54.8L526.5 53.7L527.1 52.5L527.7 51.4L528.3 50.3L529.0 49.3L529.6 48.2L530.4 47.2L531.1 46.2L531.9 45.2L532.7 44.3L533.6 43.4L534.4 42.5L535.3 41.6L536.3 40.8L537.2 40.0L538.2 39.3L539.2 38.5L540.2 37.8L541.2 37.2L542.3 36.6L543.4 36.0L544.5 35.4L545.6 34.9L546.7 34.4L547.9 33.9L549.0 33.5L550.2 33.2L551.4 32.8L552.6 32.5L553.8 32.3L555.0 32.1L556.2 31.9L557.4 31.7L558.7 31.6L559.9 31.6L561.1 31.6L562.4 31.6L563.6 31.6L564.8 31.8L566.1 31.9L567.3 32.1L568.5 32.3L569.7 32.6L570.9 32.9L572.1 33.2L573.3 33.6L574.5 34.0L575.7 34.5L576.8 35.0L578.0 35.5L579.1 36.1L580.2 36.7L581.3 37.4L582.4 38.0L583.4 38.8L584.5 39.5L585.5 40.3L586.5 41.1L587.5 42.0L588.4 42.8L589.4 43.7L590.3 44.7L591.2 45.6L592.2 46.6L593.2 47.5Z" fill="#ffdada"/><path d="M592.6 45.5L592.7 44.6L592.2 43.3L591.5 42.0L590.8 40.8L590.0 39.6L589.1 38.5L588.2 37.4L587.3 36.4L586.3 35.3L585.2 34.4L584.1 33.4L583.0 32.5L581.8 31.7L580.6 30.9L579.4 30.1L578.1 29.4L576.8 28.8L575.5 28.1L574.1 27.6L572.8 27.1L571.4 26.6L570.0 26.2L568.6 25.8L567.1 25.5L565.7 25.3L564.2 25.0L562.8 24.9L561.3 24.8L559.8 24.8L558.4 24.8L556.9 24.8L555.4 25.0L553.9 25.1L552.5 25.4L551.0 25.6L549.6 26.0L548.2 26.4L546.8 26.8L545.4 27.3L544.0 27.8L542.6 28.4L541.3 29.1L540.0 29.8L538.7 30.5L537.5 31.3L536.3 32.1L535.1 33.0L533.9 33.9L532.8 34.9L531.7 35.9L530.7 36.9L529.7 38.0L528.7 39.1L527.8 40.3L527.0 41.4L526.1 42.7L525.4 43.9L524.6 45.2L524.0 46.4L523.3 47.8L522.7 49.1L522.2 50.4L521.8 51.8L521.3 53.2L521.0 54.6L520.7 56.0L520.4 57.4L520.3 58.8L520.2 60.2L520.1 61.7L520.1 63.1L520.3 64.5L520.5 65.9L521.0 67.3L521.3 67.5L521.6 67.3L522.2 66.0L522.5 64.6L522.9 63.4L523.2 62.1L523.5 60.8L523.9 59.6L524.3 58.3L524.8 57.1L525.3 55.9L525.8 54.8L526.3 53.6L526.9 52.5L527.5 51.3L528.1 50.2L528.8 49.2L529.5 48.1L530.2 47.1L531.0 46.1L531.8 45.1L532.6 44.2L533.4 43.3L534.3 42.4L535.2 41.5L536.1 40.7L537.1 39.9L538.1 39.1L539.1 38.4L540.1 37.7L541.1 37.0L542.2 36.4L543.3 35.8L544.4 35.2L545.5 34.7L546.6 34.2L547.8 33.8L549.0 33.4L550.1 33.0L551.3 32.6L552.5 32.3L553.7 32.1L555.0 31.9L556.2 31.7L557.4 31.5L558.6 31.4L559.9 31.4L561.1 31.4L562.4 31.4L563.6 31.5L564.9 31.6L566.1 31.7L567.3 31.9L568.6 32.1L569.8 32.4L571.0 32.7L572.2 33.0L573.4 33.4L574.6 33.8L575.8 34.3L576.9 34.8L578.1 35.3L579.2 35.9L580.3 36.5L581.5 37.2L582.5 37.8L583.6 38.6L584.7 39.3L585.7 40.1L586.7 40.9L587.7 41.7L588.7 42.6L589.7 43.5L590.7 44.4L591.8 45.2Z" fill="#ffcfcf"/><path d="M591.2 43.4L591.1 42.4L590.5 41.1L589.7 39.9L588.9 38.7L588.0 37.6L587.1 36.6L586.1 35.6L585.0 34.6L584.0 33.6L582.8 32.7L581.7 31.9L580.5 31.1L579.3 30.3L578.0 29.6L576.7 28.9L575.4 28.3L574.1 27.8L572.7 27.2L571.3 26.8L569.9 26.4L568.5 26.0L567.1 25.7L565.7 25.4L564.2 25.2L562.8 25.1L561.3 25.0L559.8 24.9L558.4 24.9L556.9 25.0L555.4 25.1L554.0 25.3L552.5 25.5L551.1 25.8L549.6 26.1L548.2 26.5L546.8 27.0L545.4 27.4L544.1 28.0L542.7 28.6L541.4 29.2L540.1 29.9L538.8 30.7L537.6 31.4L536.4 32.3L535.2 33.1L534.0 34.1L532.9 35.0L531.9 36.0L530.8 37.1L529.8 38.1L528.9 39.2L528.0 40.4L527.1 41.6L526.3 42.8L525.5 44.0L524.8 45.3L524.1 46.5L523.5 47.8L522.9 49.2L522.4 50.5L522.0 51.9L521.6 53.3L521.2 54.7L520.9 56.1L520.7 57.5L520.6 58.9L520.5 60.3L520.5 61.7L520.6 63.1L520.9 64.5L521.4 65.2L521.9 64.6L522.4 63.3L522.8 62.0L523.2 60.8L523.6 59.5L524.1 58.3L524.5 57.1L525.0 55.9L525.5 54.7L526.1 53.5L526.7 52.4L527.3 51.2L527.9 50.1L528.6 49.1L529.3 48.0L530.0 47.0L530.8 46.0L531.6 45.0L532.4 44.1L533.3 43.1L534.2 42.2L535.1 41.4L536.0 40.6L537.0 39.8L538.0 39.0L539.0 38.3L540.0 37.5L541.0 36.9L542.1 36.2L543.2 35.6L544.3 35.1L545.4 34.6L546.6 34.1L547.7 33.6L548.9 33.2L550.1 32.8L551.3 32.5L552.5 32.2L553.7 31.9L554.9 31.7L556.2 31.5L557.4 31.4L558.6 31.3L559.9 31.2L561.1 31.2L562.4 31.2L563.6 31.3L564.9 31.4L566.1 31.5L567.4 31.7L568.6 31.9L569.8 32.2L571.1 32.5L572.3 32.8L573.5 33.2L574.7 33.6L575.9 34.1L577.0 34.6L578.2 35.1L579.3 35.7L580.5 36.3L581.6 37.0L582.7 37.6L583.8 38.3L584.9 39.1L585.9 39.9L587.0 40.7L588.0 41.5L589.1 42.3L590.2 43.1Z" fill="#ffc3c3"/><path d="M589.7 41.6L589.4 40.2L588.6 39.0L587.8 37.9L586.9 36.8L585.9 35.8L584.9 34.8L583.8 33.8L582.7 32.9L581.6 32.1L580.4 31.3L579.2 30.5L577.9 29.8L576.6 29.1L575.3 28.5L574.0 27.9L572.7 27.4L571.3 26.9L569.9 26.5L568.5 26.2L567.1 25.9L565.6 25.6L564.2 25.4L562.8 25.2L561.3 25.1L559.8 25.1L558.4 25.1L556.9 25.2L555.5 25.3L554.0 25.4L552.5 25.7L551.1 26.0L549.7 26.3L548.3 26.7L546.9 27.1L545.5 27.6L544.1 28.1L542.8 28.7L541.5 29.4L540.2 30.1L538.9 30.8L537.7 31.6L536.5 32.4L535.3 33.3L534.1 34.2L533.0 35.1L532.0 36.1L530.9 37.2L529.9 38.2L529.0 39.3L528.1 40.5L527.2 41.7L526.4 42.9L525.7 44.1L525.0 45.4L524.3 46.6L523.7 47.9L523.1 49.3L522.6 50.6L522.2 52.0L521.8 53.3L521.5 54.7L521.2 56.1L521.0 57.5L520.9 59.0L520.9 60.4L521.0 61.8L521.5 63.1L522.3 62.0L522.9 60.7L523.3 59.4L523.8 58.2L524.3 57.0L524.8 55.8L525.3 54.6L525.9 53.4L526.5 52.3L527.1 51.2L527.7 50.1L528.4 49.0L529.1 47.9L529.9 46.9L530.7 45.9L531.5 44.9L532.3 43.9L533.2 43.0L534.0 42.1L535.0 41.3L535.9 40.4L536.9 39.6L537.9 38.9L538.9 38.1L539.9 37.4L541.0 36.7L542.0 36.1L543.1 35.5L544.2 34.9L545.4 34.4L546.5 33.9L547.7 33.5L548.9 33.1L550.0 32.7L551.2 32.3L552.5 32.0L553.7 31.8L554.9 31.5L556.1 31.4L557.4 31.2L558.6 31.1L559.9 31.1L561.1 31.0L562.4 31.1L563.7 31.1L564.9 31.2L566.2 31.4L567.4 31.5L568.6 31.8L569.9 32.0L571.1 32.3L572.3 32.7L573.6 33.0L574.8 33.5L576.0 33.9L577.1 34.4L578.3 35.0L579.5 35.5L580.6 36.1L581.7 36.8L582.8 37.4L584.0 38.1L585.0 38.9L586.1 39.6L587.2 40.4L588.4 41.1Z" fill="#ffb7b7"/><path d="M588.2 40.0L588.2 39.4L587.5 38.2L586.7 37.0L585.7 36.0L584.7 35.0L583.7 34.0L582.6 33.1L581.5 32.3L580.3 31.4L579.1 30.7L577.8 30.0L576.6 29.3L575.3 28.7L574.0 28.1L572.6 27.6L571.2 27.1L569.9 26.7L568.5 26.3L567.1 26.0L565.6 25.7L564.2 25.5L562.7 25.4L561.3 25.3L559.8 25.2L558.4 25.2L556.9 25.3L555.5 25.4L554.0 25.6L552.6 25.8L551.1 26.1L549.7 26.4L548.3 26.8L546.9 27.2L545.5 27.7L544.2 28.3L542.8 28.9L541.5 29.5L540.2 30.2L539.0 30.9L537.7 31.7L536.5 32.5L535.4 33.4L534.2 34.3L533.1 35.3L532.1 36.2L531.0 37.3L530.1 38.3L529.1 39.5L528.2 40.6L527.4 41.8L526.6 43.0L525.8 44.2L525.1 45.4L524.5 46.7L523.8 48.0L523.3 49.4L522.8 50.7L522.4 52.1L522.0 53.4L521.7 54.8L521.5 56.2L521.3 57.6L521.3 59.0L521.4 60.5L521.8 61.1L522.3 60.6L522.9 59.4L523.5 58.1L524.0 56.9L524.5 55.7L525.1 54.5L525.7 53.4L526.3 52.2L526.9 51.1L527.6 50.0L528.3 48.9L529.0 47.8L529.7 46.8L530.5 45.8L531.3 44.8L532.2 43.8L533.0 42.9L533.9 42.0L534.9 41.2L535.8 40.3L536.8 39.5L537.8 38.7L538.8 38.0L539.8 37.3L540.9 36.6L542.0 36.0L543.1 35.4L544.2 34.8L545.3 34.3L546.5 33.8L547.6 33.3L548.8 32.9L550.0 32.5L551.2 32.2L552.4 31.9L553.7 31.6L554.9 31.4L556.1 31.2L557.4 31.1L558.6 31.0L559.9 30.9L561.1 30.9L562.4 30.9L563.7 31.0L564.9 31.1L566.2 31.2L567.4 31.4L568.7 31.6L569.9 31.9L571.2 32.2L572.4 32.5L573.6 32.9L574.8 33.3L576.0 33.8L577.2 34.2L578.4 34.8L579.6 35.3L580.7 35.9L581.9 36.6L583.0 37.2L584.1 37.9L585.3 38.6L586.4 39.3L587.7 40.0Z" fill="#ffa9a9"/><path d="M586.8 38.6L586.4 37.4L585.5 36.2L584.6 35.2L583.5 34.2L582.5 33.3L581.3 32.4L580.2 31.6L579.0 30.9L577.8 30.1L576.5 29.5L575.2 28.8L573.9 28.3L572.6 27.7L571.2 27.3L569.8 26.8L568.4 26.5L567.0 26.2L565.6 25.9L564.2 25.7L562.7 25.5L561.3 25.4L559.8 25.4L558.4 25.4L556.9 25.4L555.5 25.6L554.0 25.7L552.6 26.0L551.2 26.2L549.8 26.6L548.3 26.9L547.0 27.4L545.6 27.9L544.2 28.4L542.9 29.0L541.6 29.6L540.3 30.3L539.0 31.0L537.8 31.8L536.6 32.6L535.4 33.5L534.3 34.4L533.2 35.4L532.2 36.4L531.1 37.4L530.2 38.5L529.2 39.6L528.3 40.7L527.5 41.9L526.7 43.1L526.0 44.3L525.3 45.5L524.6 46.8L524.0 48.1L523.5 49.4L523.0 50.8L522.6 52.1L522.2 53.5L522.0 54.9L521.8 56.3L521.7 57.7L521.9 59.2L522.1 59.3L522.3 59.2L523.1 58.0L523.7 56.8L524.3 55.6L524.9 54.4L525.5 53.3L526.1 52.1L526.7 51.0L527.4 49.9L528.1 48.8L528.8 47.7L529.6 46.7L530.4 45.7L531.2 44.7L532.1 43.7L532.9 42.8L533.8 41.9L534.8 41.1L535.7 40.2L536.7 39.4L537.7 38.6L538.7 37.9L539.7 37.2L540.8 36.5L541.9 35.9L543.0 35.3L544.1 34.7L545.3 34.2L546.4 33.7L547.6 33.2L548.8 32.8L550.0 32.4L551.2 32.1L552.4 31.8L553.6 31.5L554.9 31.3L556.1 31.1L557.4 30.9L558.6 30.8L559.9 30.8L561.1 30.7L562.4 30.8L563.7 30.8L564.9 30.9L566.2 31.1L567.5 31.2L568.7 31.4L570.0 31.7L571.2 32.0L572.5 32.3L573.7 32.7L574.9 33.1L576.1 33.6L577.3 34.1L578.5 34.6L579.7 35.2L580.9 35.7L582.0 36.4L583.2 37.0L584.4 37.7L585.6 38.3Z" fill="#ff9a9a"/><path d="M585.3 37.3L585.2 36.6L584.3 35.5L583.4 34.5L582.3 33.5L581.2 32.6L580.1 31.8L578.9 31.0L577.7 30.3L576.4 29.6L575.2 29.0L573.8 28.4L572.5 27.9L571.2 27.4L569.8 27.0L568.4 26.6L567.0 26.3L565.6 26.0L564.2 25.8L562.7 25.7L561.3 25.6L559.8 25.5L558.4 25.5L556.9 25.6L555.5 25.7L554.1 25.9L552.6 26.1L551.2 26.4L549.8 26.7L548.4 27.1L547.0 27.5L545.6 28.0L544.3 28.5L542.9 29.1L541.6 29.7L540.4 30.4L539.1 31.1L537.9 31.9L536.7 32.7L535.5 33.6L534.4 34.5L533.3 35.5L532.3 36.5L531.2 37.5L530.3 38.5L529.3 39.6L528.5 40.8L527.6 42.0L526.8 43.1L526.1 44.4L525.4 45.6L524.8 46.9L524.2 48.2L523.7 49.5L523.2 50.9L522.8 52.2L522.5 53.6L522.2 55.0L522.2 56.4L522.5 57.5L523.3 56.7L524.0 55.5L524.6 54.4L525.3 53.2L525.9 52.0L526.6 50.9L527.2 49.8L528.0 48.7L528.7 47.6L529.5 46.6L530.3 45.6L531.1 44.6L531.9 43.7L532.8 42.7L533.7 41.8L534.7 41.0L535.6 40.1L536.6 39.3L537.6 38.5L538.6 37.8L539.7 37.1L540.7 36.4L541.8 35.8L542.9 35.2L544.1 34.6L545.2 34.0L546.4 33.5L547.5 33.1L548.7 32.7L549.9 32.3L551.1 31.9L552.4 31.6L553.6 31.4L554.8 31.1L556.1 30.9L557.4 30.8L558.6 30.7L559.9 30.6L561.2 30.6L562.4 30.6L563.7 30.7L565.0 30.8L566.2 30.9L567.5 31.1L568.8 31.3L570.0 31.6L571.3 31.9L572.5 32.2L573.7 32.6L575.0 33.0L576.2 33.4L577.4 33.9L578.6 34.4L579.8 35.0L581.0 35.5L582.2 36.1L583.4 36.7L584.7 37.3Z" fill="#ff8b8b"/><path d="M583.9 36.1L583.9 36.0L583.2 34.8L582.2 33.8L581.1 32.8L580.0 32.0L578.8 31.2L577.6 30.5L576.4 29.8L575.1 29.1L573.8 28.6L572.5 28.0L571.1 27.6L569.8 27.1L568.4 26.8L567.0 26.4L565.6 26.2L564.1 26.0L562.7 25.8L561.3 25.7L559.8 25.6L558.4 25.6L557.0 25.7L555.5 25.8L554.1 26.0L552.6 26.2L551.2 26.5L549.8 26.8L548.4 27.2L547.0 27.6L545.7 28.1L544.3 28.6L543.0 29.2L541.7 29.8L540.4 30.5L539.2 31.2L537.9 32.0L536.8 32.8L535.6 33.7L534.5 34.6L533.4 35.6L532.3 36.6L531.3 37.6L530.4 38.6L529.4 39.7L528.6 40.9L527.7 42.0L527.0 43.2L526.2 44.5L525.5 45.7L524.9 47.0L524.3 48.3L523.8 49.6L523.4 50.9L523.0 52.3L522.8 53.7L522.7 55.1L522.9 55.9L523.6 55.4L524.3 54.2L525.0 53.1L525.7 51.9L526.4 50.8L527.1 49.7L527.8 48.6L528.6 47.6L529.3 46.5L530.1 45.5L531.0 44.5L531.8 43.6L532.7 42.6L533.6 41.7L534.6 40.9L535.5 40.0L536.5 39.2L537.5 38.4L538.5 37.7L539.6 37.0L540.7 36.3L541.8 35.7L542.9 35.0L544.0 34.5L545.2 33.9L546.3 33.4L547.5 33.0L548.7 32.5L549.9 32.2L551.1 31.8L552.3 31.5L553.6 31.2L554.8 31.0L556.1 30.8L557.3 30.7L558.6 30.6L559.9 30.5L561.2 30.5L562.4 30.5L563.7 30.5L565.0 30.6L566.3 30.8L567.5 30.9L568.8 31.2L570.1 31.4L571.3 31.7L572.6 32.0L573.8 32.4L575.0 32.8L576.3 33.2L577.5 33.7L578.7 34.2L579.9 34.8L581.2 35.3L582.4 35.8L583.8 36.2Z" fill="#ff7b7b"/><path d="M582.4 35.1L582.0 34.1L580.9 33.1L579.9 32.2L578.7 31.4L577.5 30.6L576.3 29.9L575.0 29.3L573.7 28.7L572.4 28.2L571.1 27.7L569.7 27.3L568.3 26.9L567.0 26.6L565.6 26.3L564.1 26.1L562.7 25.9L561.3 25.8L559.8 25.8L558.4 25.8L557.0 25.8L555.5 25.9L554.1 26.1L552.7 26.3L551.3 26.6L549.8 26.9L548.5 27.3L547.1 27.7L545.7 28.2L544.4 28.7L543.0 29.3L541.8 29.9L540.5 30.6L539.2 31.4L538.0 32.1L536.8 32.9L535.7 33.8L534.6 34.7L533.5 35.7L532.4 36.6L531.4 37.7L530.5 38.7L529.6 39.8L528.7 41.0L527.9 42.1L527.1 43.3L526.4 44.5L525.7 45.8L525.1 47.1L524.5 48.4L524.0 49.7L523.6 51.0L523.3 52.4L523.2 53.9L523.4 54.3L523.9 54.1L524.7 53.0L525.5 51.8L526.2 50.7L526.9 49.6L527.6 48.5L528.4 47.5L529.2 46.4L530.0 45.4L530.9 44.4L531.7 43.5L532.6 42.5L533.5 41.6L534.5 40.8L535.4 39.9L536.4 39.1L537.4 38.3L538.5 37.6L539.5 36.9L540.6 36.2L541.7 35.5L542.8 34.9L544.0 34.4L545.1 33.8L546.3 33.3L547.5 32.9L548.7 32.4L549.9 32.0L551.1 31.7L552.3 31.4L553.6 31.1L554.8 30.9L556.1 30.7L557.3 30.6L558.6 30.4L559.9 30.4L561.2 30.3L562.4 30.4L563.7 30.4L565.0 30.5L566.3 30.6L567.6 30.8L568.8 31.0L570.1 31.3L571.4 31.6L572.6 31.9L573.9 32.2L575.1 32.6L576.4 33.1L577.6 33.5L578.8 34.0L580.1 34.5L581.4 35.0Z" fill="#ff6a6a"/><path d="M581.0 34.1L580.7 33.5L579.7 32.5L578.6 31.6L577.4 30.8L576.2 30.1L575.0 29.5L573.7 28.9L572.4 28.3L571.0 27.8L569.7 27.4L568.3 27.0L566.9 26.7L565.5 26.4L564.1 26.2L562.7 26.1L561.3 25.9L559.8 25.9L558.4 25.9L557.0 25.9L555.5 26.1L554.1 26.2L552.7 26.4L551.3 26.7L549.9 27.0L548.5 27.4L547.1 27.8L545.8 28.3L544.4 28.8L543.1 29.4L541.8 30.0L540.5 30.7L539.3 31.5L538.1 32.2L536.9 33.0L535.7 33.9L534.6 34.8L533.6 35.8L532.5 36.7L531.5 37.8L530.6 38.8L529.7 39.9L528.8 41.1L528.0 42.2L527.2 43.4L526.5 44.6L525.8 45.9L525.2 47.2L524.7 48.5L524.3 49.8L523.9 51.2L523.8 52.6L524.0 52.8L524.2 52.8L525.2 51.7L526.0 50.6L526.7 49.5L527.5 48.4L528.3 47.4L529.1 46.3L529.9 45.3L530.7 44.3L531.6 43.4L532.5 42.4L533.4 41.5L534.4 40.7L535.3 39.8L536.3 39.0L537.4 38.2L538.4 37.5L539.5 36.8L540.5 36.1L541.6 35.4L542.8 34.8L543.9 34.3L545.1 33.7L546.2 33.2L547.4 32.8L548.6 32.3L549.8 31.9L551.1 31.6L552.3 31.3L553.5 31.0L554.8 30.8L556.1 30.6L557.3 30.4L558.6 30.3L559.9 30.3L561.2 30.2L562.4 30.2L563.7 30.3L565.0 30.4L566.3 30.5L567.6 30.7L568.9 30.9L570.1 31.1L571.4 31.4L572.7 31.7L573.9 32.1L575.2 32.5L576.5 32.9L577.7 33.3L579.0 33.8L580.3 34.1Z" fill="#ff5858"/><path d="M579.5 33.2L579.5 32.9L578.5 31.9L577.3 31.1L576.1 30.3L574.9 29.6L573.6 29.0L572.3 28.5L571.0 28.0L569.7 27.6L568.3 27.2L566.9 26.8L565.5 26.6L564.1 26.3L562.7 26.2L561.3 26.1L559.8 26.0L558.4 26.0L557.0 26.1L555.6 26.2L554.1 26.3L552.7 26.5L551.3 26.8L549.9 27.1L548.5 27.5L547.1 27.9L545.8 28.4L544.5 28.9L543.1 29.5L541.9 30.2L540.6 30.8L539.4 31.6L538.1 32.3L537.0 33.1L535.8 34.0L534.7 34.9L533.6 35.9L532.6 36.8L531.6 37.9L530.7 38.9L529.8 40.0L528.9 41.2L528.1 42.3L527.3 43.5L526.6 44.7L526.0 46.0L525.4 47.3L524.9 48.6L524.5 49.9L524.6 51.4L525.7 50.5L526.5 49.4L527.3 48.3L528.1 47.3L528.9 46.2L529.8 45.2L530.6 44.2L531.5 43.3L532.4 42.4L533.3 41.5L534.3 40.6L535.3 39.7L536.3 38.9L537.3 38.1L538.3 37.4L539.4 36.7L540.5 36.0L541.6 35.3L542.7 34.7L543.9 34.2L545.0 33.6L546.2 33.1L547.4 32.6L548.6 32.2L549.8 31.8L551.0 31.5L552.3 31.2L553.5 30.9L554.8 30.7L556.0 30.5L557.3 30.3L558.6 30.2L559.9 30.1L561.2 30.1L562.5 30.1L563.7 30.2L565.0 30.2L566.3 30.4L567.6 30.5L568.9 30.7L570.2 31.0L571.5 31.2L572.7 31.6L574.0 31.9L575.3 32.3L576.6 32.7L577.9 33.0L579.2 33.3Z" fill="#ff4545"/><path d="M578.0 32.4L577.2 31.3L576.0 30.5L574.8 29.8L573.6 29.2L572.3 28.7L571.0 28.1L569.6 27.7L568.3 27.3L566.9 27.0L565.5 26.7L564.1 26.5L562.7 26.3L561.3 26.2L559.8 26.1L558.4 26.1L557.0 26.2L555.6 26.3L554.1 26.4L552.7 26.7L551.3 26.9L549.9 27.2L548.5 27.6L547.2 28.0L545.8 28.5L544.5 29.0L543.2 29.6L541.9 30.3L540.6 30.9L539.4 31.7L538.2 32.4L537.0 33.2L535.9 34.1L534.8 35.0L533.7 35.9L532.7 36.9L531.7 38.0L530.8 39.0L529.9 40.1L529.0 41.2L528.2 42.4L527.5 43.6L526.8 44.8L526.2 46.1L525.6 47.4L525.2 48.7L525.2 50.0L526.2 49.3L527.1 48.2L527.9 47.2L528.8 46.1L529.6 45.1L530.5 44.2L531.4 43.2L532.3 42.3L533.2 41.4L534.2 40.5L535.2 39.6L536.2 38.8L537.2 38.0L538.3 37.3L539.3 36.6L540.4 35.9L541.5 35.2L542.7 34.6L543.8 34.1L545.0 33.5L546.1 33.0L547.3 32.5L548.5 32.1L549.8 31.7L551.0 31.4L552.2 31.1L553.5 30.8L554.8 30.5L556.0 30.4L557.3 30.2L558.6 30.1L559.9 30.0L561.2 30.0L562.5 30.0L563.8 30.0L565.1 30.1L566.3 30.2L567.6 30.4L568.9 30.6L570.2 30.8L571.5 31.1L572.8 31.4L574.1 31.7L575.4 32.0L576.7 32.4Z" fill="#ff3232"/><path d="M576.5 31.7L575.9 30.9L574.7 30.1L573.5 29.4L572.2 28.8L570.9 28.3L569.6 27.9L568.2 27.5L566.9 27.1L565.5 26.8L564.1 26.6L562.7 26.4L561.3 26.3L559.8 26.3L558.4 26.2L557.0 26.3L555.6 26.4L554.2 26.6L552.8 26.8L551.4 27.0L550.0 27.4L548.6 27.7L547.2 28.1L545.9 28.6L544.5 29.1L543.2 29.7L542.0 30.4L540.7 31.0L539.5 31.7L538.3 32.5L537.1 33.3L536.0 34.2L534.9 35.1L533.8 36.0L532.8 37.0L531.8 38.0L530.9 39.1L530.0 40.2L529.1 41.3L528.3 42.5L527.6 43.7L527.0 44.9L526.4 46.2L525.9 47.6L525.9 48.6L526.8 48.1L527.7 47.0L528.6 46.0L529.5 45.0L530.4 44.1L531.3 43.1L532.2 42.2L533.1 41.3L534.1 40.4L535.1 39.5L536.1 38.7L537.1 37.9L538.2 37.2L539.3 36.5L540.4 35.8L541.5 35.1L542.6 34.5L543.8 34.0L544.9 33.4L546.1 32.9L547.3 32.4L548.5 32.0L549.7 31.6L551.0 31.3L552.2 30.9L553.5 30.7L554.7 30.4L556.0 30.2L557.3 30.1L558.6 30.0L559.9 29.9L561.2 29.8L562.5 29.9L563.8 29.9L565.1 30.0L566.4 30.1L567.7 30.2L569.0 30.4L570.3 30.7L571.6 30.9L572.9 31.2L574.2 31.5L575.5 31.7Z" fill="#ff1e1e"/><path d="M575.0 31.0L574.6 30.4L573.4 29.7L572.2 29.0L570.9 28.5L569.5 28.0L568.2 27.6L566.8 27.3L565.5 27.0L564.1 26.7L562.7 26.6L561.3 26.4L559.8 26.4L558.4 26.4L557.0 26.4L555.6 26.5L554.2 26.7L552.8 26.9L551.4 27.1L550.0 27.5L548.6 27.8L547.3 28.3L545.9 28.7L544.6 29.3L543.3 29.8L542.0 30.5L540.7 31.1L539.5 31.8L538.3 32.6L537.2 33.4L536.0 34.3L534.9 35.2L533.9 36.1L532.9 37.1L531.9 38.1L531.0 39.2L530.1 40.3L529.3 41.4L528.5 42.6L527.8 43.8L527.2 45.1L526.7 46.4L526.6 47.3L527.4 46.9L528.4 45.9L529.3 44.9L530.2 43.9L531.1 43.0L532.1 42.1L533.0 41.2L534.0 40.3L535.0 39.4L536.0 38.6L537.1 37.9L538.1 37.1L539.2 36.4L540.3 35.7L541.4 35.1L542.5 34.4L543.7 33.9L544.9 33.3L546.1 32.8L547.3 32.3L548.5 31.9L549.7 31.5L550.9 31.2L552.2 30.8L553.5 30.6L554.7 30.3L556.0 30.1L557.3 30.0L558.6 29.8L559.9 29.8L561.2 29.7L562.5 29.7L563.8 29.8L565.1 29.8L566.4 29.9L567.7 30.1L569.0 30.3L570.3 30.5L571.6 30.7L573.0 30.9L574.3 31.1Z" fill="#ff0909"/><path d="M573.5 30.4L573.3 30.0L572.1 29.3L570.8 28.7L569.5 28.2L568.2 27.8L566.8 27.4L565.4 27.1L564.1 26.9L562.7 26.7L561.3 26.6L559.8 26.5L558.4 26.5L557.0 26.5L555.6 26.6L554.2 26.8L552.8 27.0L551.4 27.3L550.0 27.6L548.6 27.9L547.3 28.4L545.9 28.8L544.6 29.4L543.3 29.9L542.1 30.6L540.8 31.2L539.6 31.9L538.4 32.7L537.2 33.5L536.1 34.4L535.0 35.3L534.0 36.2L533.0 37.2L532.0 38.2L531.1 39.3L530.2 40.4L529.4 41.6L528.6 42.7L528.0 44.0L527.4 45.3L527.4 46.0L528.1 45.7L529.1 44.8L530.1 43.8L531.0 42.9L532.0 42.0L532.9 41.1L533.9 40.2L534.9 39.4L535.9 38.5L537.0 37.8L538.0 37.0L539.1 36.3L540.2 35.6L541.4 35.0L542.5 34.3L543.7 33.8L544.8 33.2L546.0 32.7L547.2 32.2L548.4 31.8L549.7 31.4L550.9 31.0L552.2 30.7L553.4 30.4L554.7 30.2L556.0 30.0L557.3 29.8L558.6 29.7L559.9 29.6L561.2 29.6L562.5 29.6L563.8 29.6L565.1 29.7L566.4 29.8L567.7 29.9L569.1 30.1L570.4 30.3L571.7 30.5L573.1 30.6Z" fill="#f90000"/><path d="M571.9 29.9L570.7 29.0L569.5 28.4L568.1 28.0L566.8 27.6L565.4 27.3L564.0 27.0L562.7 26.8L561.3 26.7L559.8 26.6L558.4 26.6L557.0 26.7L555.6 26.7L554.2 26.9L552.8 27.1L551.4 27.4L550.0 27.7L548.7 28.0L547.3 28.5L546.0 28.9L544.7 29.5L543.4 30.0L542.1 30.7L540.9 31.3L539.6 32.0L538.5 32.8L537.3 33.6L536.2 34.5L535.1 35.4L534.1 36.3L533.1 37.3L532.1 38.4L531.2 39.4L530.3 40.5L529.5 41.7L528.8 42.9L528.3 44.2L528.3 44.8L528.8 44.6L529.9 43.7L530.8 42.8L531.8 41.8L532.8 41.0L533.8 40.1L534.8 39.2L535.8 38.4L536.9 37.7L538.0 36.9L539.1 36.2L540.2 35.5L541.3 34.9L542.4 34.2L543.6 33.7L544.8 33.1L546.0 32.6L547.2 32.1L548.4 31.7L549.6 31.3L550.9 30.9L552.1 30.6L553.4 30.3L554.7 30.1L556.0 29.9L557.3 29.7L558.6 29.6L559.9 29.5L561.2 29.5L562.5 29.4L563.8 29.5L565.1 29.5L566.4 29.6L567.8 29.7L569.1 29.9L570.4 30.0Z" fill="#ee0000"/><path d="M570.3 29.4L569.4 28.7L568.1 28.2L566.8 27.8L565.4 27.4L564.0 27.2L562.6 27.0L561.3 26.8L559.8 26.8L558.4 26.7L557.0 26.8L555.6 26.9L554.2 27.0L552.8 27.2L551.4 27.5L550.1 27.8L548.7 28.2L547.4 28.6L546.0 29.0L544.7 29.6L543.4 30.1L542.2 30.8L540.9 31.4L539.7 32.1L538.5 32.9L537.4 33.7L536.3 34.6L535.2 35.5L534.1 36.4L533.2 37.4L532.2 38.5L531.3 39.5L530.5 40.7L529.7 41.8L529.2 43.1L529.2 43.5L529.5 43.4L530.7 42.6L531.7 41.7L532.7 40.8L533.7 40.0L534.7 39.1L535.8 38.3L536.8 37.6L537.9 36.8L539.0 36.1L540.1 35.4L541.2 34.8L542.4 34.1L543.6 33.6L544.7 33.0L545.9 32.5L547.1 32.0L548.4 31.6L549.6 31.2L550.9 30.8L552.1 30.5L553.4 30.2L554.7 30.0L556.0 29.8L557.3 29.6L558.6 29.5L559.9 29.4L561.2 29.3L562.5 29.3L563.8 29.3L565.1 29.4L566.5 29.4L567.8 29.5L569.2 29.6Z" fill="#e20000"/><path d="M568.6 29.0L568.0 28.5L566.7 28.0L565.4 27.6L564.0 27.4L562.6 27.1L561.2 27.0L559.9 26.9L558.5 26.9L557.0 26.9L555.6 27.0L554.3 27.1L552.9 27.3L551.5 27.6L550.1 27.9L548.7 28.3L547.4 28.7L546.1 29.1L544.8 29.7L543.5 30.2L542.2 30.9L541.0 31.5L539.8 32.3L538.6 33.0L537.4 33.8L536.3 34.7L535.3 35.6L534.2 36.6L533.3 37.5L532.3 38.6L531.5 39.7L530.7 40.8L530.1 42.2L530.2 42.2L530.3 42.3L531.5 41.5L532.5 40.7L533.6 39.8L534.6 39.0L535.7 38.2L536.7 37.4L537.8 36.7L538.9 36.0L540.0 35.3L541.2 34.6L542.3 34.0L543.5 33.5L544.7 32.9L545.9 32.4L547.1 31.9L548.3 31.5L549.6 31.1L550.8 30.7L552.1 30.4L553.4 30.1L554.7 29.9L555.9 29.6L557.3 29.5L558.6 29.3L559.9 29.2L561.2 29.2L562.5 29.1L563.8 29.1L565.2 29.2L566.5 29.2L567.9 29.2Z" fill="#d70000"/><path d="M566.8 28.6L566.6 28.4L565.3 27.9L564.0 27.6L562.6 27.3L561.2 27.2L559.9 27.1L558.5 27.0L557.1 27.0L555.7 27.1L554.3 27.3L552.9 27.5L551.5 27.7L550.1 28.0L548.8 28.4L547.4 28.8L546.1 29.3L544.8 29.8L543.5 30.3L542.3 31.0L541.0 31.6L539.8 32.4L538.7 33.1L537.5 33.9L536.4 34.8L535.4 35.7L534.3 36.7L533.4 37.7L532.5 38.7L531.7 39.9L531.3 41.0L532.3 40.5L533.4 39.7L534.5 38.9L535.6 38.1L536.6 37.3L537.7 36.6L538.8 35.9L540.0 35.2L541.1 34.5L542.3 33.9L543.4 33.3L544.6 32.8L545.8 32.3L547.1 31.8L548.3 31.4L549.5 31.0L550.8 30.6L552.1 30.3L553.3 30.0L554.6 29.7L555.9 29.5L557.2 29.3L558.6 29.2L559.9 29.1L561.2 29.0L562.5 29.0L563.9 28.9L565.2 28.9L566.6 28.8Z" fill="#cb0000"/><path d="M564.9 28.4L564.0 27.9L562.6 27.6L561.2 27.4L559.9 27.2L558.5 27.2L557.1 27.2L555.7 27.3L554.3 27.4L552.9 27.6L551.5 27.8L550.2 28.1L548.8 28.5L547.5 28.9L546.2 29.4L544.9 29.9L543.6 30.5L542.3 31.1L541.1 31.8L539.9 32.5L538.7 33.2L537.6 34.1L536.5 34.9L535.5 35.9L534.5 36.8L533.5 37.9L532.7 39.0L532.4 39.7L533.2 39.5L534.3 38.7L535.4 37.9L536.5 37.2L537.6 36.5L538.8 35.7L539.9 35.1L541.0 34.4L542.2 33.8L543.4 33.2L544.6 32.7L545.8 32.2L547.0 31.7L548.3 31.2L549.5 30.8L550.8 30.5L552.0 30.1L553.3 29.8L554.6 29.6L555.9 29.4L557.2 29.2L558.5 29.0L559.9 28.9L561.2 28.8L562.5 28.7L563.9 28.6Z" fill="#be0000"/><path d="M562.9 28.2L562.6 27.9L561.2 27.6L559.9 27.4L558.5 27.4L557.1 27.4L555.7 27.4L554.3 27.6L552.9 27.7L551.6 28.0L550.2 28.3L548.8 28.6L547.5 29.0L546.2 29.5L544.9 30.0L543.6 30.6L542.4 31.2L541.2 31.9L540.0 32.6L538.8 33.4L537.7 34.2L536.6 35.1L535.6 36.0L534.6 37.0L533.8 38.1L533.8 38.4L534.1 38.4L535.3 37.8L536.4 37.0L537.5 36.3L538.7 35.6L539.8 34.9L541.0 34.3L542.1 33.7L543.3 33.1L544.5 32.6L545.7 32.0L547.0 31.6L548.2 31.1L549.5 30.7L550.7 30.3L552.0 30.0L553.3 29.7L554.6 29.4L555.9 29.2L557.2 29.0L558.5 28.8L559.9 28.7L561.2 28.6L562.6 28.4Z" fill="#b20000"/><path d="M560.7 28.1L559.9 27.8L558.5 27.6L557.1 27.6L555.7 27.6L554.3 27.7L553.0 27.9L551.6 28.1L550.2 28.4L548.9 28.8L547.6 29.2L546.3 29.6L545.0 30.2L543.7 30.7L542.4 31.3L541.2 32.0L540.1 32.7L538.9 33.5L537.8 34.4L536.8 35.3L535.8 36.2L535.3 37.1L536.2 36.8L537.4 36.1L538.5 35.4L539.7 34.8L540.9 34.2L542.1 33.5L543.3 33.0L544.5 32.4L545.7 31.9L546.9 31.4L548.2 31.0L549.4 30.6L550.7 30.2L552.0 29.9L553.3 29.5L554.6 29.3L555.9 29.0L557.2 28.8L558.5 28.6L559.9 28.4Z" fill="#a50000"/><path d="M558.2 28.1L557.1 27.9L555.7 27.9L554.4 27.9L553.0 28.1L551.6 28.3L550.3 28.6L548.9 28.9L547.6 29.3L546.3 29.8L545.0 30.3L543.8 30.9L542.5 31.5L541.3 32.2L540.2 32.9L539.0 33.7L538.0 34.6L537.1 35.7L538.4 35.2L539.6 34.6L540.8 34.0L542.0 33.4L543.2 32.8L544.4 32.3L545.6 31.8L546.9 31.3L548.1 30.8L549.4 30.4L550.7 30.0L551.9 29.7L553.2 29.4L554.5 29.1L555.9 28.8L557.2 28.5Z" fill="#980000"/><path d="M555.1 28.4L554.4 28.3L553.0 28.4L551.7 28.5L550.3 28.8L549.0 29.1L547.7 29.5L546.4 30.0L545.1 30.5L543.8 31.1L542.6 31.7L541.4 32.4L540.3 33.2L539.4 34.1L540.6 33.7L541.9 33.2L543.1 32.6L544.3 32.1L545.5 31.6L546.8 31.1L548.0 30.6L549.3 30.2L550.6 29.8L551.9 29.4L553.2 29.1L554.5 28.7Z" fill="#8a0000"/><path d="M550.5 29.3L549.1 29.5L547.8 29.8L546.5 30.3L545.2 30.8L544.0 31.4L543.2 32.0L544.2 31.7L545.4 31.3L546.7 30.8L547.9 30.3L549.2 29.9Z" fill="#810000"/></g>
<circle cx="547.39" cy="30.34" r="1.8" fill="#ffff00" stroke="#111" stroke-width="0.8"/>
<rect x="497" y="3.85" width="126.4" height="126.2" fill="none" stroke="#454545" stroke-width="1"/>
<text x="504.3" y="21.15" font-size="13.3" textLength="16.1" lengthAdjust="spacingAndGlyphs"><tspan font-size="14.7" dy="0.3">(</tspan><tspan dy="-0.3">c</tspan><tspan font-size="14.7" dy="0.3">)</tspan></text>
<text x="535.8" y="21.05" font-size="13.3" font-style="italic" textLength="5.4" lengthAdjust="spacingAndGlyphs">&#8467;</text>
<text x="543.7" y="21.05" font-size="13.3" textLength="11.3" lengthAdjust="spacingAndGlyphs">=</text>
<text x="557" y="21.05" font-size="13.3" textLength="13.3" lengthAdjust="spacingAndGlyphs">25</text>
</g>
<g id="panel-d">
<g clip-path="url(#cd_)"><path d="M394.6 234.3L394.6 234.4L395.2 235.8L396.1 236.9L397.0 238.0L398.1 239.0L399.1 240.0L400.2 241.0L401.4 241.9L402.6 242.7L403.9 243.5L405.1 244.2L406.4 244.9L407.8 245.6L409.1 246.2L410.5 246.7L412.0 247.2L413.4 247.6L414.8 247.9L416.3 248.2L417.8 248.5L419.3 248.7L420.8 248.8L422.3 248.9L423.8 248.9L425.3 248.8L426.8 248.7L428.3 248.6L429.8 248.4L431.3 248.1L432.8 247.8L434.3 247.4L435.7 247.0L437.2 246.6L438.6 246.0L440.0 245.5L441.4 244.9L442.8 244.2L444.1 243.5L445.4 242.7L446.7 241.9L448.0 241.0L449.2 240.1L450.4 239.2L451.6 238.2L452.7 237.2L453.8 236.1L454.9 235.0L455.9 233.8L456.8 232.7L457.8 231.4L458.6 230.2L459.5 228.9L460.3 227.6L461.0 226.3L461.7 224.9L462.4 223.5L463.0 222.1L463.6 220.7L464.1 219.3L464.5 217.8L465.0 216.3L465.3 214.8L465.6 213.3L465.8 211.8L466.0 210.3L466.2 208.7L466.2 207.2L466.3 205.7L466.3 204.1L466.2 202.6L466.1 201.1L465.9 199.6L465.6 198.0L465.3 196.5L465.0 195.0L464.6 193.5L464.2 192.1L463.7 190.6L463.1 189.2L462.5 187.8L461.9 186.4L461.2 185.0L460.4 183.7L459.6 182.4L458.8 181.1L457.9 179.8L456.9 178.6L455.9 177.4L454.9 176.3L453.9 175.2L452.8 174.1L451.6 173.1L450.5 172.1L449.3 171.2L448.0 170.3L446.8 169.4L445.5 168.6L444.1 167.8L442.8 167.1L441.4 166.4L440.0 165.8L438.6 165.2L437.2 164.7L435.8 164.2L434.3 163.8L432.8 163.4L431.3 163.1L429.9 162.8L428.4 162.6L426.8 162.4L425.3 162.3L423.8 162.3L422.3 162.3L420.8 162.3L419.3 162.5L417.8 162.6L416.3 162.9L414.8 163.2L413.3 163.5L411.9 163.9L410.5 164.4L409.1 164.9L407.7 165.5L406.3 166.1L405.0 166.8L403.7 167.5L402.5 168.3L401.2 169.2L400.0 170.0L398.9 170.9L397.7 171.8L396.6 172.8L395.5 173.7L394.5 174.8L393.4 175.8L392.5 176.9L391.6 178.0L390.7 179.1L389.8 180.3L389.0 181.5L388.3 182.7L387.6 184.0L386.9 185.3L386.3 186.5L385.8 187.9L385.3 189.2L384.8 190.5L384.4 191.9L384.1 193.3L383.8 194.6L383.6 196.0L383.4 197.4L383.3 198.8L383.4 200.2L383.7 201.1L384.2 200.3L384.7 199.0L385.1 197.8L385.6 196.5L386.1 195.3L386.6 194.1L387.1 192.9L387.7 191.7L388.3 190.5L388.9 189.4L389.6 188.3L390.3 187.2L391.1 186.2L391.8 185.1L392.7 184.1L393.5 183.2L394.4 182.2L395.3 181.3L396.2 180.5L397.1 179.6L398.1 178.8L399.1 178.0L400.1 177.3L401.2 176.6L402.3 176.0L403.4 175.4L404.5 174.8L405.6 174.3L406.8 173.9L408.0 173.5L409.2 173.1L410.3 172.8L411.5 172.5L412.7 172.2L413.9 172.0L415.1 171.8L416.3 171.6L417.5 171.5L418.7 171.4L419.9 171.3L421.1 171.3L422.3 171.3L423.5 171.4L424.7 171.5L425.9 171.6L427.1 171.7L428.2 171.9L429.4 172.2L430.6 172.5L431.7 172.8L432.9 173.2L434.0 173.6L435.1 174.0L436.2 174.5L437.3 175.0L438.3 175.6L439.3 176.2L440.3 176.8L441.3 177.5L442.3 178.2L443.2 178.9L444.1 179.7L445.0 180.5L445.9 181.3L446.7 182.1L447.5 183.0L448.2 183.9L448.9 184.9L449.6 185.8L450.3 186.8L450.9 187.8L451.5 188.8L452.1 189.8L452.6 190.9L453.1 192.0L453.6 193.0L454.0 194.1L454.4 195.2L454.7 196.4L455.0 197.5L455.3 198.7L455.5 199.8L455.7 201.0L455.9 202.1L456.0 203.3L456.1 204.5L456.1 205.7L456.1 206.9L456.1 208.0L456.0 209.2L455.9 210.4L455.7 211.6L455.5 212.7L455.3 213.9L455.0 215.1L454.7 216.2L454.3 217.3L454.0 218.5L453.5 219.6L453.1 220.7L452.6 221.8L452.0 222.8L451.4 223.9L450.8 224.9L450.2 225.9L449.5 226.9L448.8 227.9L448.0 228.8L447.2 229.7L446.4 230.6L445.6 231.5L444.7 232.3L443.8 233.1L442.8 233.9L441.9 234.7L440.9 235.4L439.9 236.1L438.8 236.7L437.8 237.4L436.7 238.0L435.6 238.5L434.4 239.1L433.3 239.5L432.1 240.0L431.0 240.4L429.8 240.8L428.5 241.1L427.3 241.4L426.1 241.6L424.8 241.8L423.6 241.9L422.3 242.0L421.0 242.1L419.8 242.1L418.5 242.1L417.2 242.1L415.9 242.0L414.6 241.8L413.3 241.7L412.0 241.4L410.8 241.2L409.5 240.9L408.2 240.6L406.9 240.3L405.6 239.9L404.4 239.4L403.1 238.9L401.9 238.3L400.7 237.6L399.6 237.0L398.4 236.3L397.2 235.5L396.1 234.8L394.7 234.2Z" fill="#fffcfc"/><path d="M402.9 240.7L403.3 241.5L404.3 242.5L405.5 243.4L406.8 244.1L408.0 244.9L409.4 245.5L410.7 246.1L412.1 246.6L413.5 247.0L415.0 247.4L416.4 247.7L417.9 247.9L419.3 248.1L420.8 248.3L422.3 248.4L423.8 248.4L425.3 248.3L426.8 248.2L428.3 248.1L429.7 247.9L431.2 247.7L432.7 247.4L434.1 247.0L435.6 246.6L437.0 246.1L438.5 245.7L439.9 245.1L441.2 244.5L442.6 243.8L443.9 243.1L445.2 242.4L446.5 241.6L447.8 240.7L449.0 239.8L450.2 238.9L451.3 237.9L452.4 236.9L453.5 235.8L454.6 234.7L455.6 233.6L456.5 232.4L457.4 231.2L458.3 230.0L459.2 228.7L459.9 227.4L460.7 226.1L461.4 224.7L462.1 223.4L462.7 222.0L463.2 220.6L463.7 219.1L464.2 217.7L464.6 216.2L464.9 214.7L465.2 213.2L465.5 211.7L465.7 210.2L465.8 208.7L465.9 207.2L465.9 205.7L465.9 204.2L465.8 202.6L465.7 201.1L465.5 199.6L465.3 198.1L465.0 196.6L464.7 195.1L464.3 193.6L463.8 192.2L463.3 190.7L462.8 189.3L462.2 187.9L461.5 186.5L460.8 185.2L460.1 183.9L459.3 182.6L458.5 181.3L457.6 180.0L456.6 178.8L455.7 177.7L454.6 176.5L453.6 175.5L452.5 174.4L451.4 173.4L450.2 172.4L449.0 171.5L447.8 170.6L446.5 169.7L445.3 168.9L444.0 168.2L442.6 167.4L441.3 166.8L439.9 166.2L438.5 165.6L437.1 165.1L435.6 164.6L434.2 164.2L432.7 163.8L431.3 163.5L429.8 163.2L428.3 163.0L426.8 162.8L425.3 162.7L423.8 162.7L422.3 162.7L420.8 162.7L419.3 162.8L417.8 163.0L416.3 163.3L414.9 163.6L413.4 163.9L412.0 164.3L410.6 164.8L409.2 165.3L407.8 165.9L406.5 166.5L405.2 167.2L403.9 168.0L402.7 168.8L401.5 169.7L400.3 170.5L399.2 171.4L398.1 172.3L397.0 173.3L395.9 174.2L394.9 175.2L393.9 176.3L393.0 177.4L392.1 178.5L391.3 179.6L390.5 180.8L389.8 182.0L389.1 183.3L388.5 184.5L387.9 185.8L387.5 187.2L387.4 188.5L388.5 187.7L389.4 186.7L390.2 185.6L391.1 184.6L391.9 183.6L392.8 182.7L393.8 181.7L394.7 180.8L395.7 180.0L396.7 179.1L397.7 178.3L398.7 177.5L399.8 176.8L400.8 176.1L401.9 175.5L403.1 174.9L404.2 174.4L405.4 173.9L406.6 173.5L407.8 173.1L409.0 172.7L410.2 172.4L411.4 172.1L412.6 171.8L413.8 171.6L415.0 171.4L416.2 171.2L417.4 171.1L418.7 171.0L419.9 170.9L421.1 170.9L422.3 170.9L423.5 171.0L424.7 171.1L425.9 171.2L427.1 171.4L428.3 171.6L429.5 171.8L430.7 172.1L431.8 172.4L433.0 172.8L434.1 173.2L435.2 173.7L436.3 174.2L437.4 174.7L438.5 175.2L439.5 175.8L440.5 176.5L441.5 177.2L442.5 177.9L443.4 178.6L444.4 179.4L445.3 180.2L446.1 181.0L446.9 181.9L447.7 182.8L448.5 183.7L449.2 184.6L449.9 185.6L450.6 186.6L451.2 187.6L451.8 188.6L452.4 189.7L452.9 190.7L453.4 191.8L453.9 192.9L454.3 194.0L454.7 195.1L455.1 196.3L455.4 197.4L455.7 198.6L455.9 199.8L456.1 200.9L456.2 202.1L456.4 203.3L456.4 204.5L456.5 205.7L456.5 206.9L456.4 208.1L456.3 209.3L456.2 210.4L456.1 211.6L455.9 212.8L455.6 214.0L455.4 215.2L455.0 216.3L454.7 217.5L454.3 218.6L453.9 219.7L453.4 220.8L452.9 221.9L452.3 223.0L451.8 224.1L451.1 225.1L450.5 226.1L449.8 227.2L449.1 228.1L448.3 229.1L447.5 230.0L446.7 230.9L445.8 231.8L444.9 232.6L444.0 233.5L443.1 234.2L442.1 235.0L441.1 235.7L440.1 236.4L439.0 237.1L437.9 237.7L436.8 238.3L435.7 238.9L434.6 239.5L433.4 240.0L432.3 240.4L431.1 240.8L429.9 241.2L428.6 241.5L427.4 241.8L426.1 242.1L424.9 242.3L423.6 242.4L422.3 242.6L421.0 242.6L419.7 242.7L418.4 242.7L417.1 242.6L415.8 242.5L414.5 242.4L413.2 242.3L411.9 242.1L410.5 241.9L409.2 241.6L407.9 241.4L406.5 241.1L405.1 240.8L403.7 240.6Z" fill="#fff8f8"/><path d="M408.9 243.3L409.7 244.4L411.0 245.1L412.3 245.7L413.7 246.2L415.1 246.6L416.5 247.0L417.9 247.2L419.4 247.5L420.8 247.6L422.3 247.7L423.8 247.8L425.2 247.8L426.7 247.7L428.2 247.6L429.7 247.4L431.1 247.1L432.6 246.9L434.0 246.5L435.4 246.1L436.9 245.7L438.3 245.2L439.7 244.7L441.0 244.1L442.4 243.4L443.7 242.7L445.0 242.0L446.3 241.2L447.5 240.4L448.7 239.5L449.9 238.6L451.0 237.6L452.2 236.6L453.2 235.5L454.3 234.5L455.3 233.3L456.2 232.2L457.1 231.0L458.0 229.7L458.8 228.5L459.6 227.2L460.3 225.9L461.0 224.6L461.7 223.2L462.3 221.8L462.9 220.4L463.4 219.0L463.8 217.6L464.2 216.1L464.6 214.7L464.9 213.2L465.1 211.7L465.3 210.2L465.4 208.7L465.5 207.2L465.5 205.7L465.5 204.2L465.4 202.7L465.3 201.2L465.1 199.7L464.9 198.2L464.6 196.7L464.3 195.2L463.9 193.7L463.5 192.3L463.0 190.9L462.4 189.5L461.8 188.1L461.2 186.7L460.5 185.4L459.8 184.0L459.0 182.8L458.1 181.5L457.3 180.3L456.3 179.1L455.4 177.9L454.4 176.8L453.3 175.7L452.2 174.7L451.1 173.7L450.0 172.7L448.8 171.8L447.6 170.9L446.3 170.1L445.1 169.3L443.8 168.5L442.4 167.8L441.1 167.1L439.7 166.5L438.3 166.0L436.9 165.4L435.5 165.0L434.1 164.6L432.6 164.2L431.2 163.9L429.7 163.6L428.2 163.4L426.8 163.2L425.3 163.1L423.8 163.1L422.3 163.1L420.8 163.1L419.3 163.3L417.9 163.5L416.4 163.7L415.0 164.0L413.5 164.4L412.1 164.8L410.7 165.3L409.3 165.8L408.0 166.4L406.7 167.0L405.4 167.7L404.2 168.5L403.0 169.3L401.8 170.2L400.7 171.1L399.6 172.0L398.5 173.0L397.5 173.9L396.5 174.9L395.6 176.0L394.7 177.1L393.9 178.3L393.6 179.5L394.7 179.1L395.9 178.3L397.0 177.6L398.1 176.8L399.2 176.1L400.4 175.5L401.5 174.9L402.7 174.3L403.9 173.8L405.1 173.4L406.3 173.0L407.6 172.6L408.8 172.2L410.0 171.9L411.2 171.6L412.5 171.3L413.7 171.1L414.9 170.9L416.1 170.8L417.4 170.6L418.6 170.6L419.8 170.5L421.1 170.5L422.3 170.5L423.5 170.6L424.7 170.7L426.0 170.8L427.2 171.0L428.4 171.2L429.6 171.4L430.8 171.7L431.9 172.0L433.1 172.4L434.3 172.8L435.4 173.3L436.5 173.8L437.6 174.3L438.7 174.9L439.7 175.5L440.8 176.1L441.8 176.8L442.7 177.5L443.7 178.3L444.6 179.1L445.5 179.9L446.4 180.7L447.2 181.6L448.0 182.5L448.8 183.4L449.5 184.4L450.2 185.4L450.9 186.4L451.6 187.4L452.2 188.4L452.7 189.5L453.3 190.6L453.8 191.7L454.3 192.8L454.7 193.9L455.1 195.0L455.5 196.2L455.8 197.3L456.0 198.5L456.3 199.7L456.5 200.9L456.6 202.1L456.7 203.3L456.8 204.5L456.8 205.7L456.8 206.9L456.8 208.1L456.7 209.3L456.6 210.5L456.5 211.7L456.3 212.9L456.0 214.1L455.7 215.3L455.4 216.4L455.1 217.6L454.7 218.8L454.2 219.9L453.8 221.0L453.2 222.1L452.7 223.2L452.1 224.3L451.5 225.4L450.8 226.4L450.1 227.4L449.4 228.4L448.6 229.4L447.8 230.3L447.0 231.2L446.1 232.1L445.2 233.0L444.3 233.8L443.3 234.6L442.3 235.4L441.3 236.1L440.3 236.8L439.2 237.5L438.1 238.1L437.0 238.8L435.9 239.4L434.8 239.9L433.6 240.4L432.4 240.9L431.2 241.3L430.0 241.7L428.7 242.1L427.5 242.4L426.2 242.6L424.9 242.8L423.6 243.0L422.3 243.2L421.0 243.3L419.7 243.3L418.3 243.3L417.0 243.3L415.7 243.3L414.3 243.2L413.0 243.1L411.6 243.0L410.2 243.0Z" fill="#fff3f3"/><path d="M413.9 244.7L414.0 244.9L415.2 245.7L416.6 246.2L418.0 246.5L419.4 246.8L420.9 247.0L422.3 247.2L423.8 247.2L425.2 247.3L426.7 247.2L428.1 247.1L429.6 246.9L431.0 246.7L432.5 246.4L433.9 246.1L435.3 245.7L436.7 245.3L438.1 244.8L439.5 244.3L440.9 243.7L442.2 243.1L443.5 242.4L444.8 241.7L446.1 240.9L447.3 240.1L448.5 239.2L449.7 238.3L450.8 237.3L451.9 236.3L453.0 235.3L454.0 234.2L455.0 233.1L456.0 232.0L456.9 230.8L457.7 229.6L458.5 228.3L459.3 227.0L460.1 225.8L460.8 224.4L461.4 223.1L462.0 221.7L462.6 220.3L463.1 218.9L463.5 217.5L463.9 216.1L464.3 214.6L464.6 213.1L464.8 211.6L465.0 210.2L465.1 208.7L465.2 207.2L465.2 205.7L465.2 204.2L465.1 202.7L465.0 201.2L464.8 199.7L464.6 198.2L464.3 196.7L464.0 195.3L463.6 193.8L463.2 192.4L462.7 191.0L462.2 189.6L461.6 188.2L460.9 186.8L460.2 185.5L459.5 184.2L458.7 182.9L457.9 181.7L457.0 180.5L456.1 179.3L455.1 178.1L454.1 177.0L453.1 175.9L452.0 174.9L450.9 173.9L449.8 172.9L448.6 172.0L447.4 171.1L446.1 170.3L444.9 169.5L443.6 168.8L442.3 168.1L441.0 167.4L439.6 166.8L438.2 166.3L436.8 165.7L435.4 165.3L434.0 164.9L432.6 164.5L431.1 164.2L429.7 163.9L428.2 163.7L426.7 163.6L425.3 163.5L423.8 163.4L422.3 163.4L420.8 163.5L419.4 163.6L417.9 163.8L416.5 164.1L415.0 164.4L413.6 164.7L412.2 165.2L410.8 165.6L409.5 166.2L408.1 166.8L406.9 167.4L405.6 168.2L404.4 169.0L403.2 169.8L402.2 170.8L401.1 171.8L400.1 172.8L399.2 173.9L399.1 174.5L399.7 174.5L401.0 174.1L402.3 173.6L403.6 173.2L404.8 172.8L406.1 172.5L407.4 172.2L408.6 171.8L409.9 171.5L411.1 171.2L412.3 171.0L413.6 170.7L414.8 170.6L416.1 170.4L417.3 170.3L418.6 170.2L419.8 170.2L421.1 170.2L422.3 170.2L423.5 170.2L424.8 170.3L426.0 170.5L427.2 170.6L428.4 170.8L429.7 171.1L430.8 171.4L432.0 171.7L433.2 172.1L434.4 172.5L435.5 173.0L436.6 173.5L437.7 174.0L438.8 174.6L439.9 175.2L440.9 175.9L441.9 176.6L442.9 177.3L443.9 178.0L444.8 178.8L445.7 179.7L446.6 180.5L447.4 181.4L448.3 182.3L449.0 183.2L449.8 184.2L450.5 185.2L451.2 186.2L451.8 187.2L452.4 188.3L453.0 189.3L453.6 190.4L454.1 191.5L454.5 192.6L455.0 193.8L455.4 194.9L455.7 196.1L456.1 197.3L456.3 198.4L456.6 199.6L456.8 200.8L456.9 202.0L457.0 203.2L457.1 204.5L457.1 205.7L457.1 206.9L457.1 208.1L457.0 209.3L456.9 210.5L456.8 211.8L456.6 213.0L456.3 214.2L456.0 215.3L455.7 216.5L455.4 217.7L455.0 218.9L454.5 220.0L454.0 221.2L453.5 222.3L453.0 223.4L452.4 224.5L451.7 225.5L451.1 226.6L450.4 227.6L449.6 228.6L448.8 229.6L448.0 230.5L447.2 231.5L446.3 232.4L445.4 233.2L444.5 234.1L443.5 234.9L442.5 235.7L441.5 236.4L440.5 237.1L439.4 237.8L438.3 238.5L437.2 239.1L436.1 239.7L434.9 240.3L433.7 240.8L432.5 241.3L431.3 241.8L430.1 242.2L428.8 242.5L427.5 242.8L426.2 243.1L424.9 243.4L423.6 243.6L422.3 243.7L421.0 243.9L419.6 244.0L418.3 244.0L416.9 244.1L415.5 244.2L414.0 244.5Z" fill="#ffecec"/><path d="M418.6 245.3L419.5 245.9L420.9 246.3L422.3 246.6L423.7 246.7L425.2 246.7L426.6 246.7L428.1 246.6L429.5 246.5L430.9 246.3L432.4 246.0L433.8 245.7L435.2 245.4L436.6 245.0L438.0 244.5L439.4 244.0L440.7 243.5L442.1 242.8L443.4 242.2L444.6 241.4L445.9 240.7L447.1 239.9L448.3 239.0L449.5 238.1L450.6 237.1L451.7 236.1L452.8 235.1L453.8 234.0L454.8 232.9L455.7 231.8L456.6 230.6L457.5 229.4L458.3 228.2L459.1 226.9L459.8 225.6L460.5 224.3L461.2 223.0L461.8 221.6L462.3 220.2L462.8 218.8L463.3 217.4L463.7 216.0L464.0 214.5L464.3 213.1L464.5 211.6L464.7 210.1L464.9 208.7L464.9 207.2L465.0 205.7L465.0 204.2L464.9 202.7L464.8 201.2L464.6 199.7L464.4 198.3L464.1 196.8L463.8 195.3L463.4 193.9L462.9 192.5L462.5 191.1L461.9 189.7L461.3 188.3L460.7 186.9L460.0 185.6L459.3 184.3L458.5 183.0L457.7 181.8L456.8 180.6L455.9 179.4L454.9 178.3L453.9 177.2L452.9 176.1L451.8 175.1L450.7 174.1L449.6 173.1L448.4 172.2L447.2 171.4L446.0 170.5L444.7 169.7L443.5 169.0L442.2 168.3L440.8 167.7L439.5 167.1L438.1 166.5L436.7 166.0L435.3 165.5L433.9 165.1L432.5 164.8L431.1 164.5L429.6 164.2L428.2 164.0L426.7 163.8L425.2 163.7L423.8 163.7L422.3 163.7L420.8 163.8L419.4 163.9L417.9 164.1L416.5 164.4L415.1 164.7L413.7 165.0L412.3 165.5L410.9 166.0L409.6 166.5L408.3 167.1L407.0 167.8L405.8 168.6L404.6 169.4L403.5 170.4L402.6 171.6L402.5 172.2L403.1 172.4L404.5 172.3L405.9 172.0L407.2 171.7L408.5 171.4L409.7 171.1L411.0 170.9L412.3 170.6L413.5 170.4L414.8 170.2L416.0 170.1L417.3 170.0L418.5 169.9L419.8 169.9L421.0 169.9L422.3 169.9L423.5 169.9L424.8 170.0L426.0 170.2L427.3 170.3L428.5 170.6L429.7 170.8L430.9 171.1L432.1 171.5L433.3 171.9L434.5 172.3L435.6 172.7L436.7 173.2L437.8 173.8L438.9 174.4L440.0 175.0L441.1 175.7L442.1 176.4L443.1 177.1L444.0 177.8L445.0 178.6L445.9 179.5L446.8 180.3L447.6 181.2L448.4 182.1L449.2 183.1L450.0 184.1L450.7 185.0L451.4 186.1L452.0 187.1L452.6 188.2L453.2 189.2L453.8 190.3L454.3 191.4L454.8 192.6L455.2 193.7L455.6 194.8L456.0 196.0L456.3 197.2L456.6 198.4L456.8 199.6L457.0 200.8L457.2 202.0L457.3 203.2L457.4 204.5L457.4 205.7L457.4 206.9L457.4 208.1L457.3 209.4L457.2 210.6L457.0 211.8L456.8 213.0L456.6 214.2L456.3 215.4L456.0 216.6L455.6 217.8L455.2 219.0L454.8 220.1L454.3 221.3L453.8 222.4L453.2 223.5L452.6 224.6L452.0 225.7L451.3 226.7L450.6 227.8L449.8 228.8L449.1 229.8L448.2 230.7L447.4 231.7L446.5 232.6L445.6 233.4L444.7 234.3L443.7 235.1L442.7 235.9L441.7 236.7L440.6 237.4L439.5 238.1L438.4 238.8L437.3 239.4L436.2 240.0L435.0 240.6L433.8 241.2L432.6 241.7L431.4 242.1L430.1 242.6L428.9 242.9L427.6 243.3L426.3 243.6L425.0 243.9L423.6 244.1L422.3 244.4L420.9 244.6L419.6 244.9Z" fill="#ffe3e3"/><path d="M422.9 245.4L423.7 245.9L425.1 246.1L426.6 246.2L428.0 246.1L429.4 246.0L430.8 245.9L432.3 245.7L433.7 245.4L435.1 245.0L436.5 244.7L437.9 244.2L439.2 243.7L440.6 243.2L441.9 242.6L443.2 241.9L444.5 241.2L445.8 240.4L447.0 239.6L448.2 238.8L449.3 237.9L450.5 236.9L451.6 236.0L452.6 234.9L453.6 233.9L454.6 232.8L455.5 231.6L456.4 230.5L457.3 229.3L458.1 228.1L458.9 226.8L459.6 225.5L460.3 224.2L461.0 222.9L461.6 221.5L462.1 220.2L462.6 218.8L463.1 217.4L463.5 215.9L463.8 214.5L464.1 213.0L464.3 211.6L464.5 210.1L464.7 208.6L464.7 207.2L464.8 205.7L464.7 204.2L464.7 202.7L464.6 201.2L464.4 199.8L464.2 198.3L463.9 196.8L463.5 195.4L463.2 194.0L462.7 192.5L462.3 191.1L461.7 189.7L461.1 188.4L460.5 187.0L459.8 185.7L459.1 184.4L458.3 183.2L457.5 181.9L456.6 180.7L455.7 179.6L454.8 178.4L453.8 177.3L452.8 176.3L451.7 175.2L450.6 174.3L449.5 173.3L448.3 172.4L447.1 171.5L445.9 170.7L444.6 169.9L443.4 169.2L442.1 168.5L440.7 167.9L439.4 167.3L438.0 166.7L436.7 166.2L435.3 165.8L433.9 165.4L432.4 165.0L431.0 164.7L429.6 164.4L428.1 164.2L426.7 164.1L425.2 164.0L423.8 163.9L422.3 163.9L420.8 164.0L419.4 164.2L418.0 164.4L416.5 164.6L415.1 165.0L413.7 165.3L412.4 165.8L411.0 166.3L409.7 166.9L408.4 167.5L407.2 168.2L406.0 169.0L404.9 170.0L404.4 171.2L405.6 171.5L407.0 171.3L408.3 171.1L409.6 170.8L410.9 170.5L412.2 170.3L413.4 170.1L414.7 170.0L416.0 169.8L417.2 169.7L418.5 169.6L419.8 169.6L421.0 169.6L422.3 169.6L423.6 169.7L424.8 169.8L426.1 169.9L427.3 170.1L428.5 170.3L429.8 170.6L431.0 170.9L432.2 171.2L433.4 171.6L434.5 172.1L435.7 172.5L436.8 173.0L438.0 173.6L439.0 174.2L440.1 174.8L441.2 175.5L442.2 176.2L443.2 176.9L444.2 177.7L445.1 178.5L446.0 179.3L446.9 180.2L447.8 181.1L448.6 182.0L449.4 182.9L450.1 183.9L450.9 184.9L451.6 185.9L452.2 187.0L452.8 188.0L453.4 189.1L454.0 190.2L454.5 191.3L455.0 192.5L455.4 193.6L455.8 194.8L456.2 196.0L456.5 197.1L456.8 198.3L457.0 199.6L457.2 200.8L457.4 202.0L457.5 203.2L457.6 204.4L457.6 205.7L457.6 206.9L457.6 208.1L457.5 209.4L457.4 210.6L457.2 211.8L457.0 213.1L456.8 214.3L456.5 215.5L456.2 216.7L455.8 217.9L455.4 219.1L455.0 220.2L454.5 221.4L454.0 222.5L453.4 223.6L452.8 224.7L452.2 225.8L451.5 226.9L450.8 227.9L450.0 228.9L449.2 229.9L448.4 230.9L447.6 231.8L446.7 232.8L445.8 233.6L444.8 234.5L443.8 235.3L442.8 236.1L441.8 236.9L440.8 237.6L439.7 238.4L438.6 239.0L437.5 239.7L436.3 240.3L435.1 240.9L433.9 241.5L432.7 242.0L431.5 242.5L430.2 243.0L429.0 243.4L427.7 243.8L426.3 244.1L425.0 244.5L423.7 244.9Z" fill="#ffdada"/><path d="M427.0 245.1L427.9 245.4L429.3 245.5L430.7 245.4L432.2 245.2L433.6 245.0L435.0 244.7L436.4 244.4L437.8 243.9L439.1 243.5L440.5 242.9L441.8 242.3L443.1 241.7L444.4 241.0L445.6 240.2L446.8 239.4L448.0 238.6L449.2 237.7L450.3 236.8L451.4 235.8L452.4 234.8L453.5 233.7L454.4 232.6L455.4 231.5L456.3 230.4L457.1 229.2L457.9 227.9L458.7 226.7L459.4 225.4L460.1 224.1L460.8 222.8L461.4 221.5L461.9 220.1L462.4 218.7L462.9 217.3L463.3 215.9L463.6 214.5L463.9 213.0L464.1 211.6L464.3 210.1L464.5 208.6L464.5 207.2L464.6 205.7L464.6 204.2L464.5 202.7L464.4 201.3L464.2 199.8L464.0 198.3L463.7 196.9L463.4 195.4L463.0 194.0L462.6 192.6L462.1 191.2L461.6 189.8L461.0 188.5L460.4 187.1L459.7 185.8L458.9 184.5L458.2 183.3L457.4 182.0L456.5 180.8L455.6 179.7L454.6 178.5L453.6 177.5L452.6 176.4L451.6 175.4L450.5 174.4L449.3 173.5L448.2 172.6L447.0 171.7L445.8 170.9L444.5 170.1L443.3 169.4L442.0 168.7L440.6 168.1L439.3 167.5L438.0 166.9L436.6 166.4L435.2 166.0L433.8 165.6L432.4 165.2L431.0 164.9L429.5 164.7L428.1 164.5L426.6 164.3L425.2 164.2L423.7 164.2L422.3 164.2L420.9 164.3L419.4 164.4L418.0 164.6L416.6 164.9L415.2 165.2L413.8 165.6L412.4 166.1L411.1 166.6L409.8 167.2L408.5 167.8L407.3 168.6L406.2 169.6L405.9 170.4L406.7 170.7L408.1 170.6L409.5 170.4L410.8 170.2L412.1 170.0L413.4 169.8L414.7 169.7L415.9 169.6L417.2 169.5L418.5 169.4L419.8 169.4L421.0 169.4L422.3 169.4L423.6 169.5L424.8 169.6L426.1 169.7L427.3 169.9L428.6 170.1L429.8 170.4L431.0 170.7L432.2 171.0L433.4 171.4L434.6 171.9L435.8 172.3L436.9 172.8L438.0 173.4L439.1 174.0L440.2 174.6L441.3 175.3L442.3 176.0L443.3 176.7L444.3 177.5L445.3 178.3L446.2 179.2L447.1 180.0L447.9 180.9L448.7 181.9L449.5 182.8L450.3 183.8L451.0 184.8L451.7 185.8L452.4 186.9L453.0 188.0L453.6 189.0L454.1 190.1L454.7 191.3L455.1 192.4L455.6 193.6L456.0 194.7L456.4 195.9L456.7 197.1L457.0 198.3L457.2 199.5L457.4 200.7L457.6 202.0L457.7 203.2L457.8 204.4L457.8 205.7L457.8 206.9L457.8 208.2L457.7 209.4L457.6 210.6L457.4 211.9L457.2 213.1L457.0 214.3L456.7 215.5L456.4 216.7L456.0 217.9L455.6 219.1L455.1 220.3L454.7 221.5L454.1 222.6L453.6 223.7L453.0 224.8L452.3 225.9L451.7 227.0L450.9 228.1L450.2 229.1L449.4 230.1L448.6 231.1L447.7 232.0L446.8 232.9L445.9 233.8L445.0 234.7L444.0 235.5L443.0 236.3L441.9 237.1L440.9 237.9L439.8 238.6L438.7 239.3L437.6 240.0L436.4 240.6L435.2 241.3L434.1 241.8L432.8 242.4L431.6 242.9L430.3 243.4L429.0 243.9L427.8 244.5Z" fill="#ffcfcf"/><path d="M430.6 244.4L432.0 244.7L433.5 244.6L434.9 244.3L436.3 244.0L437.6 243.6L439.0 243.2L440.4 242.7L441.7 242.1L443.0 241.5L444.2 240.8L445.5 240.0L446.7 239.3L447.9 238.4L449.0 237.5L450.2 236.6L451.2 235.7L452.3 234.6L453.3 233.6L454.3 232.5L455.2 231.4L456.1 230.2L457.0 229.1L457.8 227.8L458.5 226.6L459.3 225.3L460.0 224.0L460.6 222.7L461.2 221.4L461.8 220.0L462.3 218.7L462.7 217.3L463.1 215.8L463.4 214.4L463.7 213.0L464.0 211.5L464.2 210.1L464.3 208.6L464.4 207.1L464.4 205.7L464.4 204.2L464.3 202.7L464.2 201.3L464.0 199.8L463.8 198.4L463.5 196.9L463.2 195.5L462.8 194.1L462.4 192.6L461.9 191.3L461.4 189.9L460.8 188.5L460.2 187.2L459.5 185.9L458.8 184.6L458.0 183.4L457.2 182.1L456.3 180.9L455.4 179.8L454.5 178.7L453.5 177.6L452.5 176.5L451.4 175.5L450.3 174.5L449.2 173.6L448.1 172.7L446.9 171.8L445.7 171.0L444.4 170.3L443.2 169.5L441.9 168.9L440.6 168.2L439.2 167.6L437.9 167.1L436.5 166.6L435.1 166.2L433.7 165.8L432.3 165.4L430.9 165.1L429.5 164.9L428.1 164.7L426.6 164.5L425.2 164.4L423.7 164.4L422.3 164.4L420.9 164.5L419.4 164.6L418.0 164.8L416.6 165.1L415.2 165.5L413.8 165.9L412.5 166.3L411.2 166.9L409.9 167.5L408.7 168.3L407.6 169.3L407.5 169.7L407.9 170.0L409.3 170.0L410.7 169.9L412.0 169.7L413.3 169.6L414.6 169.4L415.9 169.3L417.2 169.2L418.5 169.2L419.7 169.2L421.0 169.2L422.3 169.2L423.6 169.3L424.8 169.4L426.1 169.5L427.4 169.7L428.6 169.9L429.8 170.2L431.1 170.5L432.3 170.8L433.5 171.2L434.7 171.7L435.8 172.2L437.0 172.7L438.1 173.2L439.2 173.8L440.3 174.5L441.4 175.1L442.4 175.8L443.4 176.6L444.4 177.4L445.4 178.2L446.3 179.0L447.2 179.9L448.0 180.8L448.9 181.7L449.7 182.7L450.4 183.7L451.2 184.7L451.9 185.7L452.5 186.8L453.1 187.9L453.7 189.0L454.3 190.1L454.8 191.2L455.3 192.3L455.7 193.5L456.2 194.7L456.5 195.9L456.9 197.1L457.1 198.3L457.4 199.5L457.6 200.7L457.7 202.0L457.9 203.2L457.9 204.4L458.0 205.7L458.0 206.9L457.9 208.2L457.9 209.4L457.7 210.7L457.6 211.9L457.4 213.1L457.1 214.4L456.8 215.6L456.5 216.8L456.2 218.0L455.8 219.2L455.3 220.4L454.8 221.5L454.3 222.7L453.7 223.8L453.1 224.9L452.5 226.0L451.8 227.1L451.1 228.2L450.3 229.2L449.6 230.2L448.7 231.2L447.9 232.2L447.0 233.1L446.1 234.0L445.1 234.9L444.1 235.7L443.1 236.5L442.1 237.3L441.0 238.1L439.9 238.8L438.8 239.5L437.7 240.2L436.5 240.9L435.4 241.6L434.2 242.2L433.0 242.9L431.7 243.5Z" fill="#ffc3c3"/><path d="M433.5 243.6L434.7 243.8L436.1 243.6L437.5 243.3L438.9 242.9L440.2 242.4L441.6 241.9L442.8 241.3L444.1 240.6L445.4 239.9L446.6 239.1L447.8 238.3L448.9 237.4L450.0 236.5L451.1 235.5L452.2 234.5L453.2 233.5L454.1 232.4L455.1 231.3L456.0 230.1L456.8 229.0L457.6 227.8L458.4 226.5L459.1 225.3L459.8 224.0L460.5 222.7L461.1 221.3L461.6 220.0L462.1 218.6L462.5 217.2L462.9 215.8L463.3 214.4L463.6 213.0L463.8 211.5L464.0 210.1L464.1 208.6L464.2 207.1L464.2 205.7L464.2 204.2L464.2 202.7L464.0 201.3L463.9 199.8L463.6 198.4L463.4 196.9L463.0 195.5L462.7 194.1L462.3 192.7L461.8 191.3L461.3 189.9L460.7 188.6L460.1 187.3L459.4 186.0L458.7 184.7L457.9 183.4L457.1 182.2L456.2 181.0L455.3 179.9L454.4 178.8L453.4 177.7L452.4 176.6L451.3 175.6L450.2 174.7L449.1 173.7L448.0 172.8L446.8 172.0L445.6 171.2L444.3 170.4L443.1 169.7L441.8 169.0L440.5 168.4L439.2 167.8L437.8 167.3L436.5 166.8L435.1 166.3L433.7 165.9L432.3 165.6L430.9 165.3L429.5 165.0L428.0 164.8L426.6 164.7L425.2 164.6L423.7 164.6L422.3 164.6L420.9 164.7L419.4 164.8L418.0 165.1L416.6 165.3L415.3 165.7L413.9 166.1L412.6 166.6L411.3 167.2L410.0 167.9L409.1 169.1L410.5 169.5L411.9 169.4L413.2 169.3L414.5 169.2L415.8 169.1L417.1 169.0L418.4 169.0L419.7 168.9L421.0 169.0L422.3 169.0L423.6 169.1L424.9 169.2L426.1 169.3L427.4 169.5L428.6 169.7L429.9 170.0L431.1 170.3L432.3 170.7L433.5 171.1L434.7 171.5L435.9 172.0L437.1 172.5L438.2 173.1L439.3 173.7L440.4 174.3L441.5 175.0L442.5 175.7L443.5 176.5L444.5 177.2L445.5 178.1L446.4 178.9L447.3 179.8L448.2 180.7L449.0 181.6L449.8 182.6L450.6 183.6L451.3 184.6L452.0 185.7L452.6 186.7L453.3 187.8L453.9 188.9L454.4 190.0L455.0 191.1L455.4 192.3L455.9 193.4L456.3 194.6L456.7 195.8L457.0 197.0L457.3 198.2L457.5 199.5L457.7 200.7L457.9 201.9L458.0 203.2L458.1 204.4L458.1 205.7L458.1 206.9L458.1 208.2L458.0 209.4L457.9 210.7L457.7 211.9L457.5 213.2L457.3 214.4L457.0 215.6L456.7 216.8L456.3 218.1L455.9 219.3L455.5 220.4L455.0 221.6L454.5 222.8L453.9 223.9L453.3 225.0L452.6 226.1L452.0 227.2L451.2 228.3L450.5 229.3L449.7 230.3L448.9 231.3L448.0 232.3L447.1 233.2L446.2 234.1L445.2 235.0L444.3 235.9L443.2 236.7L442.2 237.5L441.1 238.3L440.0 239.1L438.9 239.8L437.8 240.5L436.7 241.2L435.5 242.0L434.3 242.7Z" fill="#ffb7b7"/><path d="M435.8 242.8L437.3 242.9L438.7 242.6L440.1 242.2L441.4 241.6L442.7 241.0L444.0 240.4L445.2 239.7L446.4 238.9L447.6 238.1L448.8 237.2L449.9 236.3L451.0 235.4L452.0 234.4L453.0 233.3L454.0 232.3L454.9 231.2L455.8 230.0L456.7 228.9L457.5 227.7L458.3 226.4L459.0 225.2L459.7 223.9L460.3 222.6L460.9 221.3L461.5 219.9L462.0 218.6L462.4 217.2L462.8 215.8L463.1 214.4L463.4 212.9L463.7 211.5L463.9 210.0L464.0 208.6L464.1 207.1L464.1 205.7L464.1 204.2L464.0 202.8L463.9 201.3L463.7 199.9L463.5 198.4L463.2 197.0L462.9 195.5L462.5 194.1L462.1 192.7L461.6 191.4L461.1 190.0L460.6 188.6L459.9 187.3L459.3 186.0L458.5 184.8L457.8 183.5L457.0 182.3L456.1 181.1L455.2 180.0L454.3 178.9L453.3 177.8L452.3 176.7L451.2 175.7L450.1 174.8L449.0 173.8L447.9 173.0L446.7 172.1L445.5 171.3L444.2 170.6L443.0 169.8L441.7 169.2L440.4 168.5L439.1 168.0L437.8 167.4L436.4 166.9L435.0 166.5L433.6 166.1L432.3 165.8L430.8 165.5L429.4 165.2L428.0 165.0L426.6 164.9L425.2 164.8L423.7 164.8L422.3 164.8L420.9 164.9L419.5 165.0L418.1 165.3L416.7 165.6L415.3 166.0L414.0 166.4L412.6 166.9L411.4 167.6L410.6 168.6L411.8 169.0L413.1 169.0L414.5 168.9L415.8 168.8L417.1 168.8L418.4 168.7L419.7 168.7L421.0 168.8L422.3 168.8L423.6 168.9L424.9 169.0L426.1 169.1L427.4 169.3L428.7 169.5L429.9 169.8L431.2 170.1L432.4 170.5L433.6 170.9L434.8 171.3L436.0 171.8L437.1 172.4L438.3 172.9L439.4 173.5L440.5 174.2L441.6 174.9L442.6 175.6L443.6 176.3L444.6 177.1L445.6 177.9L446.5 178.8L447.4 179.7L448.3 180.6L449.1 181.5L449.9 182.5L450.7 183.5L451.4 184.5L452.1 185.6L452.8 186.6L453.4 187.7L454.0 188.8L454.6 189.9L455.1 191.1L455.6 192.2L456.0 193.4L456.4 194.6L456.8 195.8L457.1 197.0L457.4 198.2L457.7 199.4L457.9 200.7L458.0 201.9L458.2 203.2L458.2 204.4L458.3 205.7L458.3 206.9L458.2 208.2L458.2 209.4L458.0 210.7L457.9 211.9L457.7 213.2L457.4 214.4L457.2 215.7L456.8 216.9L456.5 218.1L456.1 219.3L455.6 220.5L455.1 221.7L454.6 222.9L454.0 224.0L453.4 225.1L452.8 226.2L452.1 227.3L451.4 228.4L450.6 229.4L449.8 230.5L449.0 231.5L448.1 232.4L447.2 233.4L446.3 234.3L445.4 235.2L444.4 236.1L443.4 236.9L442.3 237.7L441.3 238.5L440.2 239.3L439.1 240.1L438.0 240.9L436.8 241.7Z" fill="#ffa9a9"/><path d="M437.8 242.0L438.5 242.1L439.9 241.8L441.3 241.4L442.6 240.8L443.9 240.2L445.1 239.5L446.3 238.7L447.5 237.9L448.6 237.1L449.8 236.2L450.8 235.2L451.9 234.2L452.9 233.2L453.9 232.2L454.8 231.1L455.7 229.9L456.5 228.8L457.3 227.6L458.1 226.4L458.8 225.1L459.5 223.8L460.2 222.5L460.8 221.2L461.3 219.9L461.8 218.5L462.3 217.1L462.7 215.7L463.0 214.3L463.3 212.9L463.5 211.5L463.7 210.0L463.9 208.6L463.9 207.1L464.0 205.7L463.9 204.2L463.9 202.8L463.8 201.3L463.6 199.9L463.4 198.4L463.1 197.0L462.8 195.6L462.4 194.2L462.0 192.8L461.5 191.4L461.0 190.0L460.4 188.7L459.8 187.4L459.1 186.1L458.4 184.8L457.7 183.6L456.8 182.4L456.0 181.2L455.1 180.1L454.2 178.9L453.2 177.9L452.2 176.8L451.1 175.8L450.0 174.9L448.9 174.0L447.8 173.1L446.6 172.2L445.4 171.4L444.2 170.7L442.9 170.0L441.6 169.3L440.3 168.7L439.0 168.1L437.7 167.6L436.3 167.1L435.0 166.7L433.6 166.3L432.2 165.9L430.8 165.6L429.4 165.4L428.0 165.2L426.6 165.1L425.1 165.0L423.7 164.9L422.3 165.0L420.9 165.1L419.5 165.3L418.1 165.5L416.7 165.8L415.3 166.2L414.0 166.7L412.8 167.4L412.1 168.2L413.0 168.5L414.4 168.6L415.8 168.5L417.1 168.5L418.4 168.5L419.7 168.5L421.0 168.6L422.3 168.6L423.6 168.7L424.9 168.8L426.2 169.0L427.4 169.1L428.7 169.4L430.0 169.7L431.2 170.0L432.4 170.3L433.7 170.7L434.9 171.2L436.0 171.7L437.2 172.2L438.3 172.8L439.5 173.4L440.6 174.0L441.6 174.7L442.7 175.4L443.7 176.2L444.7 177.0L445.7 177.8L446.6 178.7L447.5 179.6L448.4 180.5L449.2 181.4L450.0 182.4L450.8 183.4L451.5 184.4L452.2 185.5L452.9 186.6L453.5 187.7L454.1 188.8L454.7 189.9L455.2 191.0L455.7 192.2L456.2 193.4L456.6 194.5L456.9 195.7L457.3 197.0L457.6 198.2L457.8 199.4L458.0 200.7L458.2 201.9L458.3 203.2L458.4 204.4L458.4 205.7L458.4 206.9L458.4 208.2L458.3 209.5L458.2 210.7L458.0 212.0L457.8 213.2L457.6 214.5L457.3 215.7L457.0 216.9L456.6 218.2L456.2 219.4L455.8 220.6L455.3 221.8L454.7 222.9L454.2 224.1L453.6 225.2L452.9 226.3L452.2 227.4L451.5 228.5L450.8 229.6L450.0 230.6L449.1 231.6L448.3 232.6L447.4 233.5L446.5 234.5L445.5 235.4L444.5 236.2L443.5 237.1L442.5 237.9L441.4 238.8L440.3 239.6L439.2 240.4L438.2 241.3Z" fill="#ff9a9a"/><path d="M439.7 241.0L441.1 241.0L442.4 240.5L443.7 239.9L445.0 239.3L446.2 238.5L447.4 237.7L448.5 236.9L449.6 236.0L450.7 235.1L451.8 234.1L452.8 233.1L453.7 232.1L454.7 231.0L455.6 229.8L456.4 228.7L457.2 227.5L458.0 226.3L458.7 225.0L459.4 223.8L460.0 222.5L460.6 221.2L461.2 219.8L461.7 218.5L462.1 217.1L462.5 215.7L462.9 214.3L463.2 212.9L463.4 211.5L463.6 210.0L463.7 208.6L463.8 207.1L463.8 205.7L463.8 204.2L463.7 202.8L463.6 201.3L463.5 199.9L463.2 198.5L463.0 197.0L462.7 195.6L462.3 194.2L461.9 192.8L461.4 191.4L460.9 190.1L460.3 188.8L459.7 187.4L459.0 186.1L458.3 184.9L457.5 183.7L456.7 182.4L455.9 181.3L455.0 180.1L454.1 179.0L453.1 178.0L452.1 176.9L451.0 175.9L449.9 175.0L448.8 174.1L447.7 173.2L446.5 172.4L445.3 171.6L444.1 170.8L442.8 170.1L441.6 169.4L440.3 168.8L439.0 168.2L437.6 167.7L436.3 167.2L434.9 166.8L433.6 166.4L432.2 166.1L430.8 165.8L429.4 165.6L428.0 165.4L426.5 165.2L425.1 165.2L423.7 165.1L422.3 165.2L420.9 165.3L419.5 165.5L418.1 165.7L416.7 166.1L415.4 166.5L414.1 167.2L413.6 167.8L414.3 168.1L415.7 168.2L417.0 168.3L418.4 168.3L419.7 168.3L421.0 168.4L422.3 168.4L423.6 168.5L424.9 168.6L426.2 168.8L427.5 169.0L428.7 169.2L430.0 169.5L431.2 169.8L432.5 170.2L433.7 170.6L434.9 171.0L436.1 171.5L437.3 172.1L438.4 172.6L439.5 173.3L440.6 173.9L441.7 174.6L442.8 175.3L443.8 176.1L444.8 176.9L445.8 177.7L446.7 178.6L447.6 179.5L448.5 180.4L449.3 181.4L450.1 182.3L450.9 183.3L451.6 184.4L452.3 185.4L453.0 186.5L453.6 187.6L454.2 188.7L454.8 189.8L455.3 191.0L455.8 192.1L456.3 193.3L456.7 194.5L457.1 195.7L457.4 196.9L457.7 198.2L457.9 199.4L458.1 200.6L458.3 201.9L458.4 203.1L458.5 204.4L458.5 205.7L458.5 206.9L458.5 208.2L458.4 209.5L458.3 210.7L458.2 212.0L458.0 213.3L457.7 214.5L457.4 215.7L457.1 217.0L456.7 218.2L456.3 219.4L455.9 220.6L455.4 221.8L454.9 223.0L454.3 224.2L453.7 225.3L453.1 226.4L452.4 227.5L451.7 228.6L450.9 229.7L450.1 230.7L449.3 231.7L448.4 232.7L447.5 233.7L446.6 234.6L445.6 235.5L444.7 236.4L443.6 237.3L442.6 238.2L441.6 239.0L440.5 239.9Z" fill="#ff8b8b"/><path d="M441.6 240.0L442.2 240.1L443.5 239.6L444.8 239.0L446.0 238.3L447.2 237.6L448.4 236.7L449.5 235.9L450.6 235.0L451.6 234.0L452.6 233.0L453.6 231.9L454.5 230.9L455.4 229.7L456.3 228.6L457.1 227.4L457.8 226.2L458.6 225.0L459.3 223.7L459.9 222.4L460.5 221.1L461.1 219.8L461.6 218.4L462.0 217.1L462.4 215.7L462.7 214.3L463.0 212.9L463.3 211.4L463.5 210.0L463.6 208.6L463.7 207.1L463.7 205.7L463.7 204.2L463.6 202.8L463.5 201.3L463.3 199.9L463.1 198.5L462.9 197.1L462.5 195.6L462.2 194.2L461.7 192.9L461.3 191.5L460.8 190.1L460.2 188.8L459.6 187.5L458.9 186.2L458.2 184.9L457.4 183.7L456.6 182.5L455.8 181.3L454.9 180.2L454.0 179.1L453.0 178.1L452.0 177.0L450.9 176.0L449.8 175.1L448.7 174.2L447.6 173.3L446.4 172.5L445.2 171.7L444.0 170.9L442.8 170.2L441.5 169.6L440.2 169.0L438.9 168.4L437.6 167.9L436.2 167.4L434.9 167.0L433.5 166.6L432.1 166.3L430.7 166.0L429.3 165.7L427.9 165.6L426.5 165.4L425.1 165.4L423.7 165.3L422.3 165.4L420.9 165.5L419.5 165.7L418.1 166.0L416.8 166.4L415.5 167.0L415.2 167.5L415.6 167.7L417.0 167.9L418.3 168.0L419.7 168.1L421.0 168.1L422.3 168.2L423.6 168.3L424.9 168.4L426.2 168.6L427.5 168.8L428.8 169.0L430.0 169.3L431.3 169.6L432.5 170.0L433.8 170.4L435.0 170.9L436.2 171.4L437.3 171.9L438.5 172.5L439.6 173.1L440.7 173.8L441.8 174.5L442.9 175.2L443.9 176.0L444.9 176.8L445.8 177.6L446.8 178.5L447.7 179.4L448.6 180.3L449.4 181.3L450.2 182.3L451.0 183.3L451.7 184.3L452.4 185.3L453.1 186.4L453.7 187.5L454.3 188.6L454.9 189.8L455.4 190.9L455.9 192.1L456.4 193.3L456.8 194.5L457.2 195.7L457.5 196.9L457.8 198.1L458.1 199.4L458.3 200.6L458.4 201.9L458.5 203.1L458.6 204.4L458.7 205.7L458.7 206.9L458.6 208.2L458.6 209.5L458.4 210.8L458.3 212.0L458.1 213.3L457.8 214.5L457.6 215.8L457.2 217.0L456.9 218.3L456.5 219.5L456.0 220.7L455.5 221.9L455.0 223.1L454.4 224.2L453.8 225.4L453.2 226.5L452.5 227.6L451.8 228.7L451.0 229.8L450.2 230.8L449.4 231.9L448.5 232.9L447.7 233.8L446.7 234.8L445.8 235.7L444.8 236.7L443.8 237.6L442.8 238.5L441.8 239.5Z" fill="#ff7b7b"/><path d="M443.5 238.8L444.6 238.7L445.8 238.1L447.0 237.3L448.2 236.6L449.3 235.7L450.4 234.8L451.5 233.9L452.5 232.9L453.5 231.8L454.4 230.7L455.3 229.6L456.1 228.5L456.9 227.3L457.7 226.1L458.4 224.9L459.1 223.6L459.8 222.4L460.4 221.1L460.9 219.7L461.4 218.4L461.9 217.0L462.3 215.6L462.6 214.2L462.9 212.8L463.1 211.4L463.3 210.0L463.5 208.6L463.6 207.1L463.6 205.7L463.6 204.2L463.5 202.8L463.4 201.4L463.2 199.9L463.0 198.5L462.7 197.1L462.4 195.7L462.0 194.3L461.6 192.9L461.2 191.5L460.7 190.2L460.1 188.8L459.5 187.5L458.8 186.3L458.1 185.0L457.3 183.8L456.5 182.6L455.7 181.4L454.8 180.3L453.9 179.2L452.9 178.1L451.9 177.1L450.8 176.1L449.8 175.2L448.6 174.3L447.5 173.4L446.3 172.6L445.1 171.8L443.9 171.1L442.7 170.4L441.4 169.7L440.1 169.1L438.8 168.5L437.5 168.0L436.2 167.5L434.8 167.1L433.5 166.8L432.1 166.4L430.7 166.2L429.3 165.9L427.9 165.7L426.5 165.6L425.1 165.5L423.7 165.5L422.3 165.6L420.9 165.7L419.5 166.0L418.2 166.3L416.9 167.0L416.8 167.2L416.9 167.3L418.3 167.7L419.7 167.8L421.0 167.9L422.3 168.0L423.6 168.1L424.9 168.2L426.2 168.4L427.5 168.6L428.8 168.8L430.1 169.1L431.3 169.5L432.6 169.9L433.8 170.3L435.0 170.7L436.2 171.2L437.4 171.8L438.5 172.4L439.7 173.0L440.8 173.6L441.9 174.3L442.9 175.1L444.0 175.9L445.0 176.7L445.9 177.5L446.9 178.4L447.8 179.3L448.7 180.2L449.5 181.2L450.3 182.2L451.1 183.2L451.8 184.2L452.5 185.3L453.2 186.4L453.8 187.5L454.4 188.6L455.0 189.7L455.5 190.9L456.0 192.0L456.5 193.2L456.9 194.4L457.3 195.6L457.6 196.9L457.9 198.1L458.2 199.3L458.4 200.6L458.5 201.9L458.7 203.1L458.7 204.4L458.8 205.7L458.8 206.9L458.8 208.2L458.7 209.5L458.6 210.8L458.4 212.0L458.2 213.3L458.0 214.6L457.7 215.8L457.4 217.1L457.0 218.3L456.6 219.5L456.2 220.7L455.7 222.0L455.1 223.1L454.6 224.3L454.0 225.5L453.3 226.6L452.6 227.7L451.9 228.8L451.2 229.9L450.4 231.0L449.5 232.0L448.7 233.0L447.8 234.0L446.9 235.0L446.0 235.9L445.0 236.9L444.0 237.9Z" fill="#ff6a6a"/><path d="M445.5 237.4L446.8 237.0L448.0 236.3L449.2 235.5L450.3 234.6L451.3 233.7L452.3 232.7L453.3 231.7L454.2 230.6L455.1 229.5L456.0 228.4L456.8 227.2L457.6 226.0L458.3 224.8L459.0 223.6L459.6 222.3L460.2 221.0L460.8 219.7L461.3 218.3L461.7 217.0L462.1 215.6L462.5 214.2L462.8 212.8L463.0 211.4L463.2 210.0L463.3 208.5L463.4 207.1L463.5 205.7L463.4 204.2L463.4 202.8L463.3 201.4L463.1 199.9L462.9 198.5L462.6 197.1L462.3 195.7L461.9 194.3L461.5 192.9L461.1 191.6L460.5 190.2L460.0 188.9L459.4 187.6L458.7 186.3L458.0 185.1L457.2 183.8L456.4 182.7L455.6 181.5L454.7 180.4L453.8 179.3L452.8 178.2L451.8 177.2L450.7 176.2L449.7 175.3L448.6 174.4L447.4 173.5L446.3 172.7L445.1 171.9L443.9 171.2L442.6 170.5L441.4 169.8L440.1 169.2L438.8 168.7L437.5 168.2L436.1 167.7L434.8 167.3L433.4 166.9L432.0 166.6L430.7 166.3L429.3 166.1L427.9 165.9L426.5 165.8L425.1 165.8L423.7 165.8L422.3 165.8L420.9 166.0L419.5 166.3L418.5 167.0L419.6 167.5L421.0 167.6L422.3 167.8L423.6 167.9L424.9 168.0L426.2 168.2L427.5 168.4L428.8 168.7L430.1 169.0L431.4 169.3L432.6 169.7L433.9 170.1L435.1 170.6L436.3 171.1L437.5 171.6L438.6 172.2L439.8 172.9L440.9 173.5L442.0 174.2L443.0 175.0L444.0 175.7L445.0 176.6L446.0 177.4L447.0 178.3L447.9 179.2L448.8 180.1L449.6 181.1L450.4 182.1L451.2 183.1L451.9 184.2L452.6 185.2L453.3 186.3L453.9 187.4L454.5 188.5L455.1 189.7L455.7 190.8L456.2 192.0L456.6 193.2L457.0 194.4L457.4 195.6L457.7 196.8L458.0 198.1L458.3 199.3L458.5 200.6L458.7 201.9L458.8 203.1L458.9 204.4L458.9 205.7L458.9 207.0L458.9 208.2L458.8 209.5L458.7 210.8L458.5 212.1L458.3 213.3L458.1 214.6L457.8 215.9L457.5 217.1L457.1 218.3L456.7 219.6L456.3 220.8L455.8 222.0L455.3 223.2L454.7 224.4L454.1 225.6L453.5 226.7L452.8 227.8L452.1 228.9L451.3 230.0L450.5 231.1L449.7 232.1L448.9 233.2L448.0 234.2L447.1 235.2L446.2 236.2Z" fill="#ff5858"/><path d="M447.4 235.9L447.7 235.9L448.9 235.3L450.1 234.4L451.1 233.5L452.2 232.6L453.2 231.6L454.1 230.5L455.0 229.4L455.8 228.3L456.7 227.1L457.4 226.0L458.2 224.7L458.9 223.5L459.5 222.2L460.1 221.0L460.7 219.6L461.2 218.3L461.6 217.0L462.0 215.6L462.4 214.2L462.7 212.8L462.9 211.4L463.1 210.0L463.2 208.5L463.3 207.1L463.3 205.7L463.3 204.2L463.3 202.8L463.2 201.4L463.0 200.0L462.8 198.5L462.5 197.1L462.2 195.7L461.8 194.3L461.4 193.0L461.0 191.6L460.4 190.3L459.9 188.9L459.3 187.6L458.6 186.4L457.9 185.1L457.1 183.9L456.3 182.7L455.5 181.6L454.6 180.4L453.7 179.4L452.7 178.3L451.7 177.3L450.7 176.3L449.6 175.4L448.5 174.5L447.3 173.6L446.2 172.8L445.0 172.0L443.8 171.3L442.5 170.6L441.3 170.0L440.0 169.4L438.7 168.8L437.4 168.3L436.1 167.9L434.7 167.5L433.4 167.1L432.0 166.8L430.6 166.5L429.2 166.3L427.9 166.2L426.5 166.0L425.1 166.0L423.7 166.0L422.3 166.1L420.9 166.4L420.2 166.8L421.0 167.2L422.3 167.4L423.6 167.6L425.0 167.8L426.3 168.0L427.6 168.2L428.9 168.5L430.1 168.8L431.4 169.1L432.7 169.5L433.9 169.9L435.1 170.4L436.3 170.9L437.5 171.5L438.7 172.1L439.8 172.7L440.9 173.4L442.0 174.1L443.1 174.8L444.1 175.6L445.1 176.5L446.1 177.3L447.1 178.2L448.0 179.1L448.8 180.0L449.7 181.0L450.5 182.0L451.3 183.0L452.0 184.1L452.7 185.1L453.4 186.2L454.0 187.3L454.6 188.5L455.2 189.6L455.8 190.8L456.3 192.0L456.7 193.1L457.1 194.4L457.5 195.6L457.9 196.8L458.2 198.1L458.4 199.3L458.6 200.6L458.8 201.8L458.9 203.1L459.0 204.4L459.0 205.7L459.0 207.0L459.0 208.2L458.9 209.5L458.8 210.8L458.7 212.1L458.5 213.4L458.2 214.6L457.9 215.9L457.6 217.1L457.3 218.4L456.9 219.6L456.4 220.9L455.9 222.1L455.4 223.3L454.9 224.5L454.3 225.6L453.6 226.8L452.9 227.9L452.2 229.1L451.5 230.2L450.7 231.2L449.9 232.3L449.0 233.4L448.2 234.4L447.4 235.6Z" fill="#ff4545"/><path d="M449.2 234.2L449.8 234.1L450.9 233.3L452.0 232.4L453.0 231.4L453.9 230.4L454.8 229.3L455.7 228.2L456.5 227.1L457.3 225.9L458.0 224.7L458.7 223.4L459.4 222.2L460.0 220.9L460.5 219.6L461.0 218.3L461.5 216.9L461.9 215.5L462.2 214.2L462.5 212.8L462.8 211.4L463.0 209.9L463.1 208.5L463.2 207.1L463.2 205.7L463.2 204.2L463.2 202.8L463.0 201.4L462.9 200.0L462.7 198.6L462.4 197.2L462.1 195.8L461.7 194.4L461.3 193.0L460.8 191.6L460.3 190.3L459.8 189.0L459.2 187.7L458.5 186.4L457.8 185.2L457.0 184.0L456.2 182.8L455.4 181.6L454.5 180.5L453.6 179.4L452.6 178.4L451.6 177.4L450.6 176.4L449.5 175.5L448.4 174.6L447.3 173.7L446.1 172.9L444.9 172.2L443.7 171.4L442.5 170.8L441.2 170.1L439.9 169.5L438.6 169.0L437.3 168.5L436.0 168.0L434.7 167.6L433.3 167.3L431.9 167.0L430.6 166.7L429.2 166.6L427.8 166.4L426.4 166.3L425.1 166.3L423.7 166.4L422.5 166.8L423.6 167.2L425.0 167.5L426.3 167.7L427.6 167.9L428.9 168.2L430.2 168.5L431.5 168.9L432.7 169.3L434.0 169.8L435.2 170.2L436.4 170.8L437.6 171.3L438.8 171.9L439.9 172.6L441.0 173.3L442.1 174.0L443.2 174.7L444.2 175.5L445.2 176.3L446.2 177.2L447.1 178.1L448.1 179.0L448.9 180.0L449.8 180.9L450.6 181.9L451.4 183.0L452.1 184.0L452.8 185.1L453.5 186.2L454.1 187.3L454.7 188.4L455.3 189.6L455.9 190.7L456.4 191.9L456.8 193.1L457.2 194.3L457.6 195.5L458.0 196.8L458.3 198.0L458.5 199.3L458.7 200.6L458.9 201.8L459.0 203.1L459.1 204.4L459.1 205.7L459.1 207.0L459.1 208.2L459.0 209.5L458.9 210.8L458.8 212.1L458.6 213.4L458.3 214.7L458.1 215.9L457.7 217.2L457.4 218.4L457.0 219.7L456.5 220.9L456.1 222.1L455.6 223.4L455.0 224.6L454.4 225.7L453.8 226.9L453.1 228.0L452.4 229.2L451.6 230.3L450.9 231.4L450.1 232.5L449.4 233.7Z" fill="#ff3232"/><path d="M451.0 232.4L451.7 232.1L452.7 231.2L453.7 230.2L454.6 229.2L455.5 228.1L456.4 227.0L457.1 225.8L457.9 224.6L458.6 223.4L459.2 222.1L459.9 220.8L460.4 219.5L460.9 218.2L461.4 216.9L461.8 215.5L462.1 214.1L462.4 212.7L462.7 211.3L462.9 209.9L463.0 208.5L463.1 207.1L463.1 205.7L463.1 204.3L463.0 202.8L462.9 201.4L462.8 200.0L462.6 198.6L462.3 197.2L462.0 195.8L461.6 194.4L461.2 193.0L460.7 191.7L460.2 190.3L459.7 189.0L459.1 187.7L458.4 186.5L457.7 185.2L456.9 184.0L456.1 182.8L455.3 181.7L454.4 180.6L453.5 179.5L452.5 178.5L451.5 177.5L450.5 176.5L449.4 175.6L448.3 174.7L447.2 173.8L446.0 173.0L444.8 172.3L443.6 171.6L442.4 170.9L441.1 170.3L439.9 169.7L438.6 169.2L437.3 168.7L435.9 168.2L434.6 167.8L433.2 167.5L431.9 167.2L430.5 167.0L429.1 166.9L427.8 166.8L426.4 166.8L426.0 167.0L426.3 167.2L427.7 167.6L429.0 167.9L430.3 168.3L431.5 168.7L432.8 169.1L434.0 169.5L435.3 170.0L436.5 170.6L437.7 171.2L438.8 171.8L440.0 172.4L441.1 173.1L442.2 173.8L443.3 174.6L444.3 175.4L445.3 176.2L446.3 177.1L447.2 178.0L448.1 178.9L449.0 179.9L449.9 180.8L450.7 181.9L451.5 182.9L452.2 183.9L452.9 185.0L453.6 186.1L454.2 187.2L454.8 188.4L455.4 189.5L456.0 190.7L456.5 191.9L456.9 193.1L457.4 194.3L457.7 195.5L458.1 196.8L458.4 198.0L458.6 199.3L458.8 200.5L459.0 201.8L459.1 203.1L459.2 204.4L459.2 205.7L459.3 207.0L459.2 208.3L459.2 209.5L459.0 210.8L458.9 212.1L458.7 213.4L458.5 214.7L458.2 216.0L457.9 217.2L457.5 218.5L457.1 219.7L456.7 221.0L456.2 222.2L455.7 223.4L455.2 224.6L454.6 225.8L453.9 227.0L453.3 228.2L452.6 229.3L451.9 230.5L451.2 231.7Z" fill="#ff1e1e"/><path d="M452.7 230.3L453.4 230.0L454.4 229.0L455.3 227.9L456.2 226.8L457.0 225.7L457.7 224.5L458.4 223.3L459.1 222.1L459.7 220.8L460.3 219.5L460.8 218.2L461.2 216.8L461.6 215.5L462.0 214.1L462.3 212.7L462.5 211.3L462.7 209.9L462.9 208.5L463.0 207.1L463.0 205.7L463.0 204.3L462.9 202.8L462.8 201.4L462.7 200.0L462.4 198.6L462.2 197.2L461.9 195.8L461.5 194.4L461.1 193.1L460.6 191.7L460.1 190.4L459.6 189.1L459.0 187.8L458.3 186.5L457.6 185.3L456.9 184.1L456.1 182.9L455.2 181.8L454.3 180.7L453.4 179.6L452.4 178.6L451.4 177.6L450.4 176.6L449.3 175.7L448.2 174.8L447.1 174.0L445.9 173.2L444.7 172.4L443.5 171.7L442.3 171.0L441.0 170.4L439.8 169.9L438.5 169.3L437.2 168.9L435.8 168.5L434.5 168.1L433.2 167.8L431.8 167.6L430.5 167.7L431.6 168.3L432.9 168.8L434.1 169.3L435.4 169.8L436.6 170.4L437.8 171.0L438.9 171.6L440.1 172.3L441.2 173.0L442.3 173.7L443.3 174.5L444.4 175.3L445.4 176.1L446.4 177.0L447.3 177.9L448.2 178.8L449.1 179.8L450.0 180.8L450.8 181.8L451.6 182.8L452.3 183.9L453.0 185.0L453.7 186.1L454.3 187.2L454.9 188.3L455.5 189.5L456.1 190.6L456.6 191.8L457.0 193.0L457.5 194.3L457.8 195.5L458.2 196.7L458.5 198.0L458.7 199.3L458.9 200.5L459.1 201.8L459.2 203.1L459.3 204.4L459.4 205.7L459.4 207.0L459.3 208.3L459.3 209.6L459.2 210.9L459.0 212.1L458.8 213.4L458.6 214.7L458.3 216.0L458.0 217.3L457.6 218.5L457.3 219.8L456.8 221.0L456.4 222.3L455.9 223.5L455.3 224.7L454.8 226.0L454.1 227.2L453.5 228.4L452.9 229.6Z" fill="#ff0909"/><path d="M454.3 228.2L455.0 227.7L455.9 226.7L456.8 225.6L457.5 224.4L458.3 223.2L458.9 222.0L459.6 220.7L460.1 219.4L460.7 218.1L461.1 216.8L461.5 215.5L461.9 214.1L462.2 212.7L462.4 211.3L462.6 209.9L462.8 208.5L462.8 207.1L462.9 205.7L462.9 204.3L462.8 202.8L462.7 201.4L462.5 200.0L462.3 198.6L462.1 197.2L461.8 195.8L461.4 194.5L461.0 193.1L460.5 191.8L460.0 190.4L459.5 189.1L458.9 187.8L458.2 186.6L457.5 185.3L456.8 184.1L456.0 183.0L455.1 181.8L454.2 180.7L453.3 179.7L452.3 178.6L451.3 177.6L450.3 176.7L449.2 175.8L448.1 174.9L447.0 174.1L445.8 173.3L444.6 172.6L443.4 171.9L442.2 171.2L440.9 170.6L439.7 170.1L438.4 169.6L437.1 169.2L435.7 168.8L434.4 168.7L435.5 169.5L436.7 170.1L437.9 170.7L439.0 171.4L440.2 172.1L441.3 172.8L442.4 173.5L443.4 174.3L444.5 175.1L445.5 176.0L446.5 176.9L447.4 177.8L448.3 178.7L449.2 179.7L450.1 180.7L450.9 181.7L451.6 182.7L452.4 183.8L453.1 184.9L453.8 186.0L454.4 187.1L455.0 188.3L455.6 189.4L456.2 190.6L456.7 191.8L457.1 193.0L457.6 194.2L457.9 195.5L458.3 196.7L458.6 198.0L458.8 199.2L459.1 200.5L459.2 201.8L459.4 203.1L459.4 204.4L459.5 205.7L459.5 207.0L459.5 208.3L459.4 209.6L459.3 210.9L459.1 212.2L458.9 213.5L458.7 214.8L458.4 216.0L458.1 217.3L457.8 218.6L457.4 219.9L457.0 221.1L456.5 222.4L456.1 223.6L455.5 224.9L455.0 226.1L454.5 227.4Z" fill="#f90000"/><path d="M455.7 226.0L456.4 225.4L457.3 224.3L458.1 223.1L458.8 221.9L459.4 220.7L460.0 219.4L460.5 218.1L461.0 216.8L461.4 215.4L461.7 214.1L462.0 212.7L462.3 211.3L462.5 209.9L462.6 208.5L462.7 207.1L462.8 205.7L462.8 204.3L462.7 202.9L462.6 201.4L462.4 200.0L462.2 198.6L462.0 197.2L461.6 195.9L461.3 194.5L460.9 193.1L460.4 191.8L459.9 190.5L459.4 189.2L458.8 187.9L458.1 186.6L457.4 185.4L456.7 184.2L455.9 183.0L455.0 181.9L454.1 180.8L453.2 179.7L452.2 178.7L451.2 177.7L450.2 176.8L449.1 175.9L448.0 175.0L446.9 174.2L445.7 173.4L444.5 172.7L443.3 172.0L442.1 171.4L440.8 170.9L439.5 170.4L438.2 170.0L437.9 170.1L438.1 170.3L439.2 171.1L440.3 171.8L441.4 172.6L442.5 173.4L443.6 174.2L444.6 175.0L445.6 175.9L446.6 176.8L447.5 177.7L448.4 178.6L449.3 179.6L450.2 180.6L451.0 181.6L451.7 182.7L452.5 183.7L453.2 184.8L453.9 185.9L454.5 187.1L455.1 188.2L455.7 189.4L456.3 190.6L456.8 191.7L457.2 193.0L457.7 194.2L458.1 195.4L458.4 196.7L458.7 197.9L459.0 199.2L459.2 200.5L459.3 201.8L459.5 203.1L459.6 204.4L459.6 205.7L459.6 207.0L459.6 208.3L459.5 209.6L459.4 210.9L459.3 212.2L459.1 213.5L458.9 214.8L458.6 216.1L458.3 217.4L457.9 218.6L457.6 219.9L457.2 221.2L456.7 222.5L456.3 223.7L455.8 225.0Z" fill="#ee0000"/><path d="M456.9 223.9L457.8 223.0L458.5 221.8L459.2 220.6L459.8 219.3L460.3 218.0L460.8 216.7L461.2 215.4L461.6 214.0L461.9 212.7L462.2 211.3L462.4 209.9L462.5 208.5L462.6 207.1L462.6 205.7L462.6 204.3L462.6 202.9L462.5 201.5L462.3 200.1L462.1 198.7L461.8 197.3L461.5 195.9L461.2 194.5L460.8 193.2L460.3 191.8L459.8 190.5L459.3 189.2L458.7 187.9L458.0 186.7L457.3 185.5L456.6 184.3L455.8 183.1L454.9 182.0L454.0 180.9L453.1 179.8L452.1 178.8L451.1 177.8L450.1 176.9L449.0 176.0L447.9 175.2L446.8 174.4L445.6 173.6L444.4 172.9L443.2 172.3L441.9 171.8L441.0 171.6L441.6 172.3L442.6 173.1L443.7 174.0L444.7 174.8L445.7 175.7L446.7 176.6L447.6 177.6L448.5 178.5L449.4 179.5L450.3 180.5L451.1 181.5L451.8 182.6L452.6 183.7L453.3 184.8L454.0 185.9L454.6 187.0L455.2 188.2L455.8 189.3L456.4 190.5L456.9 191.7L457.3 192.9L457.8 194.1L458.2 195.4L458.5 196.6L458.8 197.9L459.1 199.2L459.3 200.5L459.5 201.8L459.6 203.1L459.7 204.4L459.7 205.7L459.7 207.0L459.7 208.3L459.7 209.6L459.5 210.9L459.4 212.2L459.2 213.5L459.0 214.8L458.7 216.1L458.4 217.4L458.1 218.7L457.8 220.0L457.4 221.3L457.0 222.6Z" fill="#e20000"/><path d="M457.8 221.9L458.2 221.7L459.0 220.5L459.6 219.3L460.2 218.0L460.7 216.7L461.1 215.3L461.4 214.0L461.8 212.6L462.0 211.3L462.2 209.9L462.4 208.5L462.5 207.1L462.5 205.7L462.5 204.3L462.5 202.9L462.3 201.5L462.2 200.1L462.0 198.7L461.7 197.3L461.4 195.9L461.1 194.6L460.7 193.2L460.2 191.9L459.7 190.6L459.2 189.3L458.6 188.0L457.9 186.7L457.2 185.5L456.5 184.3L455.7 183.2L454.8 182.1L453.9 181.0L453.0 179.9L452.0 178.9L451.0 178.0L450.0 177.0L448.9 176.1L447.8 175.3L446.6 174.5L445.4 173.8L444.2 173.2L443.7 173.2L443.9 173.6L444.9 174.6L445.9 175.5L446.8 176.5L447.7 177.4L448.7 178.4L449.5 179.4L450.4 180.4L451.2 181.4L452.0 182.5L452.7 183.6L453.4 184.7L454.1 185.8L454.7 187.0L455.3 188.1L455.9 189.3L456.5 190.5L457.0 191.7L457.5 192.9L457.9 194.1L458.3 195.4L458.6 196.6L458.9 197.9L459.2 199.2L459.4 200.5L459.6 201.8L459.7 203.1L459.8 204.4L459.8 205.7L459.9 207.0L459.8 208.3L459.8 209.6L459.7 210.9L459.5 212.2L459.4 213.6L459.2 214.9L458.9 216.2L458.6 217.5L458.3 218.8L458.0 220.1L457.7 221.5Z" fill="#d70000"/><path d="M458.6 219.9L459.3 219.1L459.9 217.9L460.5 216.6L460.9 215.3L461.3 214.0L461.6 212.6L461.9 211.2L462.1 209.9L462.2 208.5L462.3 207.1L462.4 205.7L462.4 204.3L462.3 202.9L462.2 201.5L462.1 200.1L461.9 198.7L461.6 197.3L461.3 196.0L460.9 194.6L460.5 193.2L460.1 191.9L459.6 190.6L459.1 189.3L458.5 188.0L457.8 186.8L457.1 185.6L456.3 184.4L455.5 183.3L454.7 182.1L453.8 181.1L452.9 180.0L451.9 179.0L450.9 178.1L449.8 177.2L448.7 176.3L447.6 175.5L446.4 174.8L445.9 174.8L446.1 175.2L447.0 176.3L447.9 177.2L448.8 178.2L449.7 179.3L450.5 180.3L451.3 181.3L452.1 182.4L452.8 183.5L453.5 184.6L454.2 185.7L454.8 186.9L455.4 188.1L456.0 189.2L456.6 190.4L457.1 191.6L457.6 192.8L458.0 194.1L458.4 195.3L458.7 196.6L459.1 197.9L459.3 199.1L459.5 200.4L459.7 201.7L459.8 203.0L459.9 204.4L460.0 205.7L460.0 207.0L460.0 208.3L459.9 209.6L459.8 211.0L459.7 212.3L459.5 213.6L459.3 214.9L459.1 216.2L458.8 217.5L458.6 218.9Z" fill="#cb0000"/><path d="M459.4 217.8L459.5 217.8L460.2 216.5L460.7 215.2L461.1 213.9L461.4 212.6L461.7 211.2L461.9 209.8L462.1 208.5L462.2 207.1L462.2 205.7L462.2 204.3L462.2 202.9L462.1 201.5L461.9 200.1L461.7 198.7L461.5 197.3L461.2 196.0L460.8 194.6L460.4 193.3L460.0 192.0L459.5 190.7L458.9 189.4L458.4 188.1L457.7 186.9L457.0 185.6L456.2 184.5L455.4 183.3L454.6 182.2L453.7 181.1L452.7 180.1L451.8 179.2L450.7 178.2L449.6 177.4L448.5 176.6L447.9 176.4L448.1 177.0L449.0 178.1L449.8 179.1L450.6 180.2L451.4 181.2L452.2 182.3L452.9 183.4L453.6 184.5L454.3 185.7L455.0 186.8L455.6 188.0L456.1 189.2L456.7 190.4L457.2 191.6L457.7 192.8L458.1 194.0L458.5 195.3L458.9 196.6L459.2 197.8L459.4 199.1L459.7 200.4L459.8 201.7L460.0 203.0L460.1 204.4L460.1 205.7L460.1 207.0L460.1 208.3L460.1 209.6L460.0 211.0L459.9 212.3L459.7 213.6L459.6 215.0L459.4 216.3L459.3 217.7Z" fill="#be0000"/><path d="M460.1 215.3L460.3 215.1L460.8 213.9L461.2 212.5L461.5 211.2L461.7 209.8L461.9 208.4L462.0 207.1L462.1 205.7L462.1 204.3L462.0 202.9L461.9 201.5L461.8 200.1L461.6 198.7L461.3 197.4L461.0 196.0L460.7 194.7L460.3 193.3L459.9 192.0L459.4 190.7L458.8 189.4L458.2 188.2L457.6 186.9L456.9 185.7L456.1 184.5L455.3 183.4L454.5 182.3L453.6 181.3L452.6 180.3L451.6 179.3L450.5 178.4L449.7 178.1L450.0 178.9L450.8 180.0L451.6 181.1L452.3 182.2L453.1 183.3L453.8 184.5L454.4 185.6L455.1 186.8L455.7 187.9L456.3 189.1L456.8 190.3L457.3 191.5L457.8 192.7L458.3 194.0L458.7 195.3L459.0 196.5L459.3 197.8L459.6 199.1L459.8 200.4L460.0 201.7L460.1 203.0L460.2 204.4L460.3 205.7L460.3 207.0L460.3 208.3L460.3 209.7L460.2 211.0L460.1 212.3L460.0 213.7L460.0 215.1Z" fill="#b20000"/><path d="M460.6 212.5L460.7 212.5L461.2 211.1L461.5 209.8L461.7 208.4L461.8 207.1L461.9 205.7L461.9 204.3L461.9 202.9L461.8 201.5L461.6 200.1L461.4 198.8L461.2 197.4L460.9 196.1L460.5 194.7L460.2 193.4L459.7 192.1L459.2 190.8L458.7 189.5L458.1 188.2L457.4 187.0L456.7 185.8L456.0 184.6L455.2 183.5L454.3 182.4L453.4 181.4L452.4 180.4L451.3 179.8L451.8 180.9L452.5 182.1L453.2 183.2L453.9 184.4L454.6 185.5L455.2 186.7L455.8 187.9L456.4 189.0L456.9 190.2L457.5 191.5L458.0 192.7L458.4 193.9L458.8 195.2L459.2 196.5L459.5 197.8L459.7 199.1L460.0 200.4L460.2 201.7L460.3 203.0L460.4 204.3L460.5 205.7L460.5 207.0L460.5 208.3L460.5 209.7L460.5 211.0L460.6 212.4Z" fill="#a50000"/><path d="M461.0 209.2L461.4 208.4L461.6 207.0L461.6 205.7L461.7 204.3L461.7 202.9L461.6 201.5L461.4 200.2L461.2 198.8L461.0 197.4L460.7 196.1L460.4 194.8L460.0 193.4L459.6 192.1L459.1 190.8L458.5 189.5L457.9 188.3L457.3 187.1L456.6 185.9L455.8 184.7L455.0 183.6L454.1 182.6L453.1 181.6L452.8 181.6L452.8 181.8L453.4 183.1L454.1 184.2L454.7 185.4L455.4 186.6L456.0 187.8L456.5 189.0L457.1 190.2L457.6 191.4L458.1 192.6L458.6 193.9L459.0 195.2L459.3 196.4L459.7 197.7L459.9 199.0L460.2 200.4L460.4 201.7L460.5 203.0L460.6 204.3L460.7 205.7L460.8 207.0L460.9 208.4Z" fill="#980000"/><path d="M461.2 204.3L461.3 202.9L461.3 201.6L461.2 200.2L461.0 198.9L460.8 197.5L460.5 196.2L460.2 194.8L459.8 193.5L459.4 192.2L458.9 190.9L458.4 189.6L457.8 188.4L457.1 187.2L456.4 186.0L455.5 184.9L454.6 184.0L455.0 185.2L455.6 186.5L456.2 187.7L456.7 188.9L457.3 190.1L457.8 191.3L458.3 192.6L458.8 193.8L459.2 195.1L459.6 196.4L459.9 197.7L460.2 199.0L460.4 200.3L460.7 201.6L460.9 203.0Z" fill="#8a0000"/><path d="M459.5 194.5L459.4 193.6L459.0 192.3L458.6 191.0L458.1 189.8L457.5 188.5L456.8 187.4L456.5 187.1L456.5 187.5L457.0 188.7L457.6 190.0L458.1 191.2L458.6 192.4L459.2 193.7Z" fill="#810000"/></g>
<circle cx="459.77" cy="196.02" r="1.8" fill="#ffff00" stroke="#111" stroke-width="0.8"/>
<rect x="359.4" y="142.35" width="125.8" height="126.65" fill="none" stroke="#454545" stroke-width="1"/>
<line x1="355.8" y1="157.08" x2="359.4" y2="157.08" stroke="#454545" stroke-width="0.95" />
<text x="352.2" y="161.08" font-size="11.8" text-anchor="end">10</text>
<line x1="355.8" y1="205.68" x2="359.4" y2="205.68" stroke="#454545" stroke-width="0.95" />
<text x="352.2" y="209.68" font-size="11.8" text-anchor="end">0</text>
<line x1="355.8" y1="254.28" x2="359.4" y2="254.28" stroke="#454545" stroke-width="0.95" />
<text x="352.2" y="258.27" font-size="11.8" text-anchor="end">-10</text>
<text transform="translate(330.5 206.88) rotate(-90)" font-size="13.3" text-anchor="middle" textLength="34" lengthAdjust="spacingAndGlyphs">Im(<tspan font-style="italic">&#945;</tspan>)</text>
<line x1="373.7" y1="269" x2="373.7" y2="272.6" stroke="#454545" stroke-width="0.95" />
<text x="373.3" y="284" font-size="11.8" text-anchor="middle">-10</text>
<line x1="422.3" y1="269" x2="422.3" y2="272.6" stroke="#454545" stroke-width="0.95" />
<text x="422.3" y="284" font-size="11.8" text-anchor="middle">0</text>
<line x1="470.9" y1="269" x2="470.9" y2="272.6" stroke="#454545" stroke-width="0.95" />
<text x="470.9" y="284" font-size="11.8" text-anchor="middle">10</text>
<text x="422" y="298.6" font-size="13.3" text-anchor="middle" textLength="32.6" lengthAdjust="spacingAndGlyphs">Re(<tspan font-style="italic">&#945;</tspan>)</text>
<text x="366.7" y="159.65" font-size="13.3" textLength="17.6" lengthAdjust="spacingAndGlyphs"><tspan font-size="14.7" dy="0.3">(</tspan><tspan dy="-0.3">d</tspan><tspan font-size="14.7" dy="0.3">)</tspan></text>
<text x="398.2" y="159.55" font-size="13.3" font-style="italic" textLength="5.4" lengthAdjust="spacingAndGlyphs">&#8467;</text>
<text x="406.1" y="159.55" font-size="13.3" textLength="11.3" lengthAdjust="spacingAndGlyphs">=</text>
<text x="419.4" y="159.55" font-size="13.3" textLength="13.3" lengthAdjust="spacingAndGlyphs">50</text>
</g>
<g id="panel-e">
<g clip-path="url(#ce_)"><path fill-rule="evenodd" d="M516.2 205.7L516.2 207.2L516.3 208.7L516.4 210.3L516.6 211.8L516.9 213.3L517.2 214.8L517.6 216.3L518.0 217.8L518.5 219.2L519.0 220.7L519.6 222.1L520.2 223.5L520.9 224.9L521.6 226.2L522.4 227.5L523.2 228.8L524.0 230.1L524.9 231.3L525.8 232.5L526.8 233.7L527.8 234.8L528.9 235.9L530.0 237.0L531.1 238.0L532.2 239.0L533.4 239.9L534.7 240.8L535.9 241.7L537.2 242.5L538.5 243.2L539.9 243.9L541.2 244.6L542.6 245.2L544.0 245.7L545.4 246.2L546.9 246.7L548.3 247.1L549.8 247.5L551.3 247.8L552.7 248.0L554.2 248.2L555.7 248.4L557.2 248.5L558.7 248.5L560.2 248.5L561.7 248.4L563.2 248.3L564.7 248.2L566.1 247.9L567.6 247.7L569.1 247.4L570.5 247.0L571.9 246.6L573.3 246.1L574.7 245.5L576.1 245.0L577.4 244.3L578.7 243.7L580.0 243.0L581.3 242.2L582.5 241.4L583.7 240.5L584.9 239.6L586.0 238.7L587.1 237.8L588.2 236.8L589.2 235.8L590.3 234.7L591.3 233.7L592.2 232.6L593.2 231.4L594.1 230.3L594.9 229.1L595.7 227.9L596.5 226.6L597.2 225.4L597.9 224.1L598.6 222.8L599.2 221.4L599.7 220.1L600.3 218.7L600.7 217.3L601.1 215.9L601.5 214.5L601.8 213.0L602.1 211.6L602.3 210.1L602.5 208.6L602.6 207.2L602.6 205.7L602.6 204.2L602.6 202.7L602.5 201.2L602.4 199.7L602.2 198.3L601.9 196.8L601.6 195.3L601.3 193.9L600.9 192.5L600.4 191.0L599.9 189.6L599.4 188.2L598.8 186.8L598.2 185.5L597.5 184.2L596.7 182.9L595.9 181.6L595.1 180.3L594.2 179.1L593.3 177.9L592.3 176.8L591.3 175.6L590.3 174.5L589.2 173.5L588.1 172.5L586.9 171.5L585.7 170.6L584.5 169.7L583.2 168.8L581.9 168.0L580.6 167.3L579.3 166.6L577.9 165.9L576.5 165.3L575.1 164.8L573.7 164.3L572.2 163.8L570.7 163.4L569.3 163.0L567.8 162.7L566.3 162.5L564.8 162.3L563.2 162.1L561.7 162.0L560.2 162.0L558.7 162.0L557.2 162.1L555.6 162.2L554.1 162.3L552.6 162.6L551.1 162.8L549.6 163.2L548.1 163.6L546.7 164.0L545.2 164.5L543.8 165.0L542.4 165.6L541.0 166.2L539.6 166.9L538.3 167.7L536.9 168.4L535.6 169.3L534.4 170.1L533.2 171.1L532.0 172.0L530.8 173.0L529.7 174.1L528.6 175.1L527.5 176.3L526.5 177.4L525.5 178.6L524.6 179.8L523.7 181.1L522.9 182.4L522.1 183.7L521.3 185.0L520.6 186.4L520.0 187.8L519.4 189.2L518.8 190.6L518.3 192.1L517.9 193.5L517.5 195.0L517.1 196.5L516.8 198.0L516.6 199.5L516.4 201.1L516.3 202.6L516.2 204.1ZM526.5 205.7L526.5 206.9L526.5 208.0L526.6 209.2L526.8 210.4L526.9 211.5L527.1 212.7L527.4 213.9L527.7 215.0L528.0 216.1L528.3 217.3L528.7 218.4L529.2 219.5L529.6 220.6L530.1 221.7L530.7 222.7L531.3 223.7L531.9 224.7L532.6 225.7L533.3 226.7L534.0 227.6L534.8 228.5L535.6 229.4L536.4 230.3L537.3 231.1L538.2 231.9L539.1 232.7L540.0 233.4L541.0 234.1L542.0 234.8L543.0 235.5L544.0 236.1L545.1 236.7L546.2 237.2L547.3 237.7L548.4 238.2L549.5 238.6L550.6 239.0L551.8 239.3L553.0 239.6L554.2 239.9L555.4 240.1L556.6 240.3L557.8 240.4L559.0 240.5L560.2 240.6L561.4 240.6L562.6 240.6L563.9 240.5L565.1 240.4L566.3 240.3L567.5 240.1L568.7 239.8L569.9 239.5L571.1 239.2L572.3 238.9L573.5 238.5L574.6 238.0L575.8 237.6L576.9 237.1L578.0 236.5L579.1 235.9L580.2 235.3L581.2 234.6L582.3 233.9L583.3 233.2L584.2 232.4L585.2 231.5L586.1 230.6L586.9 229.7L587.7 228.8L588.5 227.8L589.2 226.8L589.9 225.7L590.6 224.7L591.2 223.6L591.8 222.5L592.4 221.4L592.9 220.2L593.3 219.1L593.7 217.9L594.1 216.7L594.4 215.5L594.7 214.3L595.0 213.1L595.2 211.8L595.3 210.6L595.4 209.4L595.5 208.1L595.5 206.9L595.5 205.7L595.5 204.4L595.4 203.2L595.2 202.0L595.0 200.8L594.8 199.6L594.5 198.4L594.2 197.2L593.9 196.0L593.5 194.9L593.0 193.7L592.6 192.6L592.0 191.5L591.5 190.4L590.9 189.4L590.3 188.3L589.6 187.3L588.9 186.3L588.2 185.3L587.5 184.4L586.7 183.5L585.9 182.6L585.0 181.7L584.2 180.9L583.3 180.1L582.3 179.3L581.4 178.6L580.4 177.9L579.4 177.2L578.4 176.6L577.3 176.0L576.3 175.4L575.2 174.9L574.1 174.4L573.0 173.9L571.9 173.5L570.8 173.1L569.6 172.8L568.5 172.5L567.3 172.3L566.1 172.0L564.9 171.9L563.8 171.7L562.6 171.7L561.4 171.6L560.2 171.6L559.0 171.6L557.8 171.7L556.6 171.8L555.5 172.0L554.3 172.2L553.1 172.4L552.0 172.7L550.8 173.0L549.7 173.4L548.6 173.8L547.5 174.2L546.4 174.7L545.3 175.2L544.3 175.8L543.3 176.3L542.3 177.0L541.3 177.6L540.3 178.3L539.4 179.0L538.5 179.8L537.6 180.5L536.7 181.4L535.9 182.2L535.1 183.1L534.3 184.0L533.6 184.9L532.9 185.8L532.2 186.8L531.6 187.8L531.0 188.8L530.4 189.8L529.9 190.9L529.4 192.0L528.9 193.0L528.5 194.1L528.1 195.3L527.8 196.4L527.5 197.5L527.2 198.7L527.0 199.8L526.8 201.0L526.7 202.1L526.5 203.3L526.5 204.5Z" fill="#fffcfc"/><path fill-rule="evenodd" d="M516.5 205.7L516.6 207.2L516.7 208.7L516.8 210.2L517.0 211.7L517.3 213.2L517.6 214.7L517.9 216.2L518.4 217.7L518.8 219.1L519.3 220.5L519.9 221.9L520.5 223.3L521.2 224.7L521.9 226.0L522.7 227.3L523.5 228.6L524.3 229.9L525.2 231.1L526.1 232.3L527.1 233.5L528.1 234.6L529.1 235.7L530.2 236.7L531.3 237.7L532.5 238.7L533.7 239.6L534.9 240.5L536.1 241.3L537.4 242.1L538.7 242.9L540.0 243.6L541.4 244.2L542.8 244.8L544.2 245.4L545.6 245.9L547.0 246.3L548.4 246.7L549.9 247.1L551.3 247.4L552.8 247.6L554.3 247.8L555.8 247.9L557.2 248.0L558.7 248.1L560.2 248.1L561.7 248.0L563.2 247.9L564.6 247.7L566.1 247.5L567.5 247.2L569.0 246.9L570.4 246.5L571.8 246.1L573.2 245.6L574.5 245.1L575.9 244.5L577.2 243.9L578.5 243.2L579.8 242.5L581.0 241.7L582.2 240.9L583.4 240.1L584.5 239.2L585.7 238.3L586.7 237.3L587.8 236.3L588.8 235.3L589.8 234.3L590.8 233.2L591.8 232.2L592.7 231.1L593.6 229.9L594.4 228.8L595.2 227.6L596.0 226.3L596.7 225.1L597.4 223.8L598.1 222.5L598.7 221.2L599.2 219.9L599.7 218.5L600.2 217.1L600.6 215.8L601.0 214.3L601.3 212.9L601.6 211.5L601.8 210.0L602.0 208.6L602.1 207.1L602.1 205.7L602.2 204.2L602.1 202.7L602.0 201.3L601.9 199.8L601.7 198.4L601.5 196.9L601.2 195.5L600.9 194.0L600.5 192.6L600.0 191.2L599.5 189.8L599.0 188.4L598.4 187.0L597.8 185.7L597.1 184.4L596.4 183.1L595.6 181.8L594.8 180.6L593.9 179.4L593.0 178.2L592.0 177.0L591.0 175.9L590.0 174.8L588.9 173.8L587.8 172.8L586.7 171.8L585.5 170.9L584.3 170.0L583.0 169.2L581.7 168.4L580.4 167.6L579.1 166.9L577.7 166.3L576.4 165.7L575.0 165.1L573.5 164.6L572.1 164.2L570.7 163.8L569.2 163.4L567.7 163.1L566.2 162.8L564.7 162.6L563.2 162.5L561.7 162.4L560.2 162.4L558.7 162.4L557.2 162.4L555.7 162.5L554.2 162.7L552.7 162.9L551.2 163.2L549.7 163.5L548.2 163.9L546.8 164.3L545.3 164.8L543.9 165.4L542.5 165.9L541.1 166.6L539.8 167.3L538.4 168.0L537.1 168.8L535.9 169.6L534.6 170.4L533.4 171.3L532.2 172.3L531.0 173.3L529.9 174.3L528.8 175.4L527.8 176.5L526.8 177.6L525.8 178.8L524.9 180.0L524.0 181.3L523.2 182.5L522.4 183.9L521.7 185.2L521.0 186.5L520.3 187.9L519.7 189.3L519.2 190.7L518.7 192.2L518.2 193.6L517.8 195.1L517.5 196.6L517.2 198.1L517.0 199.6L516.8 201.1L516.6 202.6L516.6 204.2ZM526.1 205.7L526.1 206.9L526.2 208.1L526.3 209.2L526.4 210.4L526.6 211.6L526.8 212.8L527.0 213.9L527.3 215.1L527.6 216.3L528.0 217.4L528.4 218.5L528.8 219.6L529.3 220.7L529.8 221.8L530.4 222.9L531.0 223.9L531.6 225.0L532.3 226.0L533.0 226.9L533.7 227.9L534.5 228.8L535.3 229.7L536.2 230.6L537.0 231.4L537.9 232.2L538.9 233.0L539.8 233.8L540.8 234.5L541.8 235.2L542.8 235.8L543.8 236.4L544.9 237.0L546.0 237.6L547.1 238.1L548.2 238.6L549.4 239.0L550.5 239.4L551.7 239.7L552.9 240.1L554.1 240.3L555.3 240.5L556.5 240.7L557.7 240.9L559.0 241.0L560.2 241.0L561.4 241.1L562.7 241.0L563.9 241.0L565.1 240.9L566.4 240.7L567.6 240.5L568.8 240.3L570.0 240.0L571.3 239.7L572.5 239.3L573.6 238.9L574.8 238.5L576.0 238.0L577.1 237.5L578.3 237.0L579.4 236.4L580.5 235.7L581.6 235.1L582.6 234.4L583.6 233.6L584.6 232.8L585.6 232.0L586.5 231.1L587.4 230.1L588.2 229.2L589.0 228.2L589.7 227.1L590.4 226.1L591.1 225.0L591.7 223.9L592.3 222.8L592.9 221.6L593.4 220.4L593.8 219.3L594.2 218.1L594.6 216.9L594.9 215.6L595.2 214.4L595.5 213.2L595.7 211.9L595.8 210.7L595.9 209.4L596.0 208.2L596.0 206.9L596.0 205.7L596.0 204.4L595.8 203.2L595.7 201.9L595.5 200.7L595.3 199.5L595.0 198.3L594.7 197.1L594.3 195.9L593.9 194.7L593.4 193.6L593.0 192.4L592.4 191.3L591.9 190.2L591.3 189.2L590.6 188.1L590.0 187.1L589.3 186.1L588.5 185.1L587.8 184.1L587.0 183.2L586.2 182.3L585.3 181.4L584.4 180.6L583.5 179.8L582.6 179.0L581.6 178.3L580.6 177.6L579.6 176.9L578.6 176.2L577.5 175.6L576.5 175.1L575.4 174.5L574.3 174.0L573.2 173.6L572.0 173.2L570.9 172.8L569.7 172.4L568.6 172.1L567.4 171.9L566.2 171.7L565.0 171.5L563.8 171.4L562.6 171.3L561.4 171.2L560.2 171.2L559.0 171.3L557.8 171.3L556.6 171.5L555.4 171.6L554.2 171.8L553.1 172.1L551.9 172.4L550.7 172.7L549.6 173.0L548.5 173.4L547.4 173.9L546.3 174.4L545.2 174.9L544.1 175.4L543.1 176.0L542.1 176.6L541.1 177.3L540.1 178.0L539.1 178.7L538.2 179.5L537.3 180.3L536.5 181.1L535.6 181.9L534.8 182.8L534.0 183.7L533.3 184.7L532.6 185.6L531.9 186.6L531.3 187.6L530.7 188.6L530.1 189.7L529.5 190.7L529.0 191.8L528.6 192.9L528.2 194.0L527.8 195.1L527.4 196.3L527.1 197.4L526.9 198.6L526.6 199.8L526.4 200.9L526.3 202.1L526.2 203.3L526.1 204.5Z" fill="#fff8f8"/><path fill-rule="evenodd" d="M516.9 205.7L517.0 207.2L517.0 208.7L517.2 210.2L517.4 211.7L517.6 213.2L518.0 214.7L518.3 216.1L518.7 217.6L519.2 219.0L519.7 220.4L520.3 221.8L520.9 223.2L521.6 224.5L522.3 225.8L523.0 227.1L523.8 228.4L524.7 229.6L525.5 230.9L526.4 232.0L527.4 233.2L528.4 234.3L529.4 235.4L530.5 236.4L531.6 237.4L532.8 238.4L533.9 239.3L535.1 240.2L536.4 241.0L537.6 241.8L538.9 242.5L540.2 243.2L541.6 243.8L542.9 244.4L544.3 245.0L545.7 245.5L547.1 245.9L548.6 246.3L550.0 246.6L551.4 246.9L552.9 247.2L554.3 247.3L555.8 247.5L557.3 247.6L558.7 247.6L560.2 247.6L561.7 247.5L563.1 247.4L564.6 247.2L566.0 247.0L567.4 246.7L568.9 246.4L570.3 246.0L571.6 245.6L573.0 245.1L574.3 244.6L575.7 244.0L577.0 243.3L578.2 242.7L579.5 241.9L580.7 241.2L581.9 240.4L583.0 239.5L584.1 238.6L585.2 237.7L586.2 236.7L587.3 235.7L588.3 234.7L589.3 233.7L590.2 232.7L591.2 231.7L592.1 230.6L593.0 229.5L593.8 228.3L594.6 227.2L595.4 226.0L596.1 224.8L596.8 223.5L597.4 222.2L598.0 221.0L598.6 219.6L599.1 218.3L599.6 217.0L600.0 215.6L600.4 214.2L600.7 212.8L601.0 211.4L601.2 210.0L601.4 208.6L601.5 207.1L601.6 205.7L601.6 204.2L601.6 202.8L601.5 201.3L601.4 199.9L601.2 198.4L601.0 197.0L600.7 195.6L600.4 194.2L600.0 192.7L599.6 191.3L599.1 190.0L598.6 188.6L598.0 187.2L597.4 185.9L596.7 184.6L596.0 183.3L595.2 182.1L594.4 180.8L593.5 179.6L592.6 178.5L591.7 177.3L590.7 176.2L589.7 175.1L588.6 174.1L587.5 173.1L586.4 172.1L585.2 171.2L584.0 170.3L582.8 169.5L581.5 168.7L580.2 168.0L578.9 167.3L577.6 166.6L576.2 166.0L574.8 165.5L573.4 165.0L572.0 164.5L570.6 164.1L569.1 163.8L567.6 163.5L566.2 163.2L564.7 163.0L563.2 162.9L561.7 162.8L560.2 162.8L558.7 162.8L557.2 162.8L555.7 162.9L554.2 163.1L552.7 163.3L551.3 163.6L549.8 163.9L548.3 164.3L546.9 164.7L545.5 165.2L544.1 165.7L542.7 166.3L541.3 166.9L540.0 167.6L538.6 168.3L537.3 169.1L536.1 169.9L534.8 170.8L533.6 171.7L532.4 172.6L531.3 173.6L530.2 174.6L529.1 175.7L528.1 176.8L527.1 177.9L526.1 179.1L525.2 180.3L524.3 181.5L523.5 182.8L522.7 184.0L522.0 185.4L521.3 186.7L520.7 188.1L520.1 189.5L519.5 190.9L519.0 192.3L518.6 193.7L518.2 195.2L517.9 196.7L517.6 198.2L517.3 199.7L517.2 201.2L517.0 202.7L516.9 204.2ZM525.7 205.7L525.7 206.9L525.8 208.1L525.9 209.3L526.0 210.5L526.2 211.7L526.4 212.9L526.6 214.0L526.9 215.2L527.3 216.4L527.6 217.5L528.0 218.7L528.5 219.8L528.9 220.9L529.5 222.0L530.0 223.1L530.6 224.2L531.3 225.2L532.0 226.2L532.7 227.2L533.4 228.1L534.2 229.1L535.0 230.0L535.9 230.9L536.8 231.7L537.7 232.5L538.6 233.3L539.6 234.1L540.5 234.8L541.6 235.5L542.6 236.2L543.6 236.8L544.7 237.4L545.8 238.0L546.9 238.5L548.1 239.0L549.2 239.4L550.4 239.8L551.6 240.2L552.8 240.5L554.0 240.8L555.2 241.0L556.5 241.2L557.7 241.4L559.0 241.5L560.2 241.5L561.5 241.5L562.7 241.5L564.0 241.5L565.2 241.4L566.5 241.2L567.7 241.0L569.0 240.8L570.2 240.5L571.4 240.2L572.6 239.9L573.9 239.5L575.1 239.1L576.3 238.6L577.4 238.1L578.6 237.5L579.7 236.9L580.9 236.3L582.0 235.6L583.1 235.0L584.1 234.2L585.2 233.4L586.2 232.6L587.1 231.6L588.0 230.7L588.8 229.7L589.6 228.6L590.4 227.6L591.1 226.5L591.8 225.4L592.4 224.3L593.0 223.1L593.5 221.9L594.0 220.7L594.5 219.5L594.9 218.3L595.2 217.1L595.6 215.8L595.8 214.6L596.1 213.3L596.3 212.0L596.4 210.8L596.5 209.5L596.6 208.2L596.6 206.9L596.6 205.7L596.5 204.4L596.4 203.1L596.2 201.9L596.0 200.6L595.8 199.4L595.5 198.2L595.2 197.0L594.8 195.8L594.4 194.6L593.9 193.4L593.4 192.3L592.9 191.1L592.3 190.0L591.7 188.9L591.0 187.9L590.4 186.8L589.7 185.8L588.9 184.8L588.1 183.8L587.3 182.9L586.5 182.0L585.6 181.1L584.7 180.3L583.8 179.5L582.9 178.7L581.9 177.9L580.9 177.2L579.9 176.5L578.8 175.9L577.7 175.3L576.7 174.7L575.6 174.2L574.5 173.7L573.3 173.2L572.2 172.8L571.0 172.4L569.8 172.1L568.7 171.8L567.5 171.5L566.3 171.3L565.1 171.1L563.8 171.0L562.6 170.9L561.4 170.8L560.2 170.8L559.0 170.9L557.8 171.0L556.6 171.1L555.4 171.2L554.2 171.4L553.0 171.7L551.8 172.0L550.6 172.3L549.5 172.7L548.3 173.1L547.2 173.5L546.1 174.0L545.0 174.5L543.9 175.1L542.9 175.7L541.9 176.3L540.9 177.0L539.9 177.7L538.9 178.4L538.0 179.2L537.1 180.0L536.2 180.8L535.3 181.7L534.5 182.6L533.7 183.5L533.0 184.4L532.3 185.4L531.6 186.4L530.9 187.4L530.3 188.4L529.7 189.5L529.2 190.6L528.7 191.6L528.2 192.8L527.8 193.9L527.4 195.0L527.1 196.2L526.7 197.3L526.5 198.5L526.2 199.7L526.1 200.9L525.9 202.1L525.8 203.3L525.7 204.5Z" fill="#fff3f3"/><path fill-rule="evenodd" d="M517.2 205.7L517.3 207.2L517.3 208.7L517.5 210.2L517.7 211.6L517.9 213.1L518.3 214.6L518.6 216.0L519.0 217.5L519.5 218.9L520.0 220.3L520.6 221.7L521.2 223.0L521.9 224.4L522.6 225.7L523.3 227.0L524.1 228.2L524.9 229.5L525.8 230.7L526.7 231.8L527.6 233.0L528.6 234.1L529.7 235.2L530.7 236.2L531.8 237.2L533.0 238.1L534.1 239.0L535.3 239.9L536.6 240.7L537.8 241.5L539.1 242.2L540.4 242.9L541.7 243.5L543.1 244.1L544.5 244.6L545.8 245.1L547.2 245.5L548.7 245.9L550.1 246.3L551.5 246.5L553.0 246.8L554.4 247.0L555.8 247.1L557.3 247.2L558.7 247.2L560.2 247.2L561.6 247.1L563.1 247.0L564.5 246.8L565.9 246.6L567.4 246.3L568.8 245.9L570.1 245.5L571.5 245.1L572.9 244.6L574.2 244.1L575.5 243.5L576.7 242.8L578.0 242.1L579.2 241.4L580.4 240.6L581.5 239.8L582.6 238.9L583.7 238.0L584.7 237.0L585.6 235.9L586.5 234.9L587.3 233.7L588.2 232.7L589.2 231.8L590.2 230.9L591.2 229.9L592.1 228.8L593.0 227.8L593.8 226.7L594.6 225.5L595.3 224.3L596.0 223.2L596.7 221.9L597.3 220.7L597.9 219.4L598.5 218.1L599.0 216.8L599.4 215.4L599.8 214.1L600.1 212.7L600.4 211.3L600.6 209.9L600.8 208.5L601.0 207.1L601.1 205.7L601.1 204.2L601.1 202.8L601.0 201.4L600.9 200.0L600.8 198.5L600.5 197.1L600.3 195.7L600.0 194.3L599.6 192.9L599.2 191.5L598.7 190.1L598.2 188.8L597.6 187.4L597.0 186.1L596.4 184.8L595.7 183.5L594.9 182.3L594.1 181.0L593.3 179.9L592.4 178.7L591.4 177.6L590.5 176.5L589.4 175.4L588.4 174.4L587.3 173.4L586.2 172.4L585.0 171.5L583.8 170.6L582.6 169.8L581.4 169.0L580.1 168.3L578.8 167.6L577.4 166.9L576.1 166.4L574.7 165.8L573.3 165.3L571.9 164.9L570.5 164.5L569.0 164.1L567.6 163.8L566.1 163.6L564.6 163.4L563.2 163.2L561.7 163.1L560.2 163.1L558.7 163.1L557.2 163.1L555.7 163.3L554.3 163.4L552.8 163.6L551.3 163.9L549.9 164.2L548.4 164.6L547.0 165.0L545.6 165.5L544.2 166.0L542.8 166.6L541.4 167.2L540.1 167.9L538.8 168.6L537.5 169.3L536.2 170.1L535.0 171.0L533.8 171.9L532.6 172.8L531.5 173.8L530.4 174.8L529.3 175.9L528.3 177.0L527.3 178.1L526.4 179.2L525.5 180.4L524.6 181.7L523.8 182.9L523.0 184.2L522.3 185.5L521.6 186.8L520.9 188.2L520.4 189.6L519.8 191.0L519.3 192.4L518.9 193.8L518.5 195.3L518.2 196.7L517.9 198.2L517.6 199.7L517.5 201.2L517.3 202.7L517.3 204.2ZM525.4 205.7L525.4 206.9L525.5 208.1L525.6 209.3L525.7 210.5L525.9 211.7L526.1 212.9L526.3 214.1L526.6 215.3L527.0 216.5L527.3 217.6L527.7 218.8L528.2 219.9L528.7 221.1L529.2 222.2L529.8 223.3L530.4 224.3L531.0 225.4L531.7 226.4L532.4 227.4L533.2 228.3L534.0 229.3L534.8 230.2L535.7 231.1L536.5 232.0L537.4 232.8L538.4 233.6L539.4 234.4L540.4 235.1L541.4 235.8L542.4 236.5L543.5 237.1L544.6 237.7L545.7 238.3L546.8 238.8L548.0 239.3L549.1 239.8L550.3 240.2L551.5 240.5L552.7 240.9L553.9 241.2L555.2 241.4L556.4 241.6L557.7 241.8L558.9 241.9L560.2 241.9L561.5 242.0L562.7 242.0L564.0 241.9L565.3 241.8L566.5 241.7L567.8 241.5L569.1 241.3L570.3 241.0L571.6 240.7L572.8 240.4L574.1 240.0L575.3 239.6L576.5 239.1L577.7 238.6L578.9 238.1L580.1 237.5L581.3 236.9L582.4 236.3L583.6 235.7L584.8 235.0L586.0 234.3L587.1 233.6L588.1 232.6L589.0 231.6L589.7 230.5L590.5 229.3L591.2 228.2L591.9 227.1L592.6 225.9L593.2 224.7L593.7 223.5L594.3 222.3L594.7 221.0L595.2 219.8L595.5 218.5L595.9 217.3L596.2 216.0L596.5 214.7L596.7 213.4L596.9 212.1L597.0 210.8L597.1 209.6L597.1 208.3L597.1 207.0L597.1 205.7L597.0 204.4L596.9 203.1L596.7 201.8L596.5 200.6L596.2 199.3L595.9 198.1L595.6 196.9L595.2 195.6L594.8 194.4L594.3 193.3L593.8 192.1L593.2 191.0L592.6 189.9L592.0 188.8L591.4 187.7L590.7 186.6L590.0 185.6L589.2 184.6L588.4 183.6L587.6 182.7L586.8 181.8L585.9 180.9L585.0 180.0L584.0 179.2L583.1 178.4L582.1 177.7L581.1 176.9L580.0 176.3L579.0 175.6L577.9 175.0L576.8 174.4L575.7 173.9L574.6 173.4L573.4 172.9L572.3 172.5L571.1 172.1L569.9 171.7L568.7 171.4L567.5 171.2L566.3 171.0L565.1 170.8L563.9 170.7L562.7 170.6L561.4 170.5L560.2 170.5L559.0 170.6L557.7 170.6L556.5 170.8L555.3 170.9L554.1 171.1L552.9 171.4L551.7 171.7L550.5 172.0L549.4 172.4L548.2 172.8L547.1 173.2L546.0 173.7L544.9 174.3L543.8 174.8L542.7 175.4L541.7 176.1L540.7 176.7L539.7 177.4L538.7 178.2L537.8 179.0L536.9 179.8L536.0 180.6L535.1 181.5L534.3 182.4L533.5 183.3L532.8 184.2L532.0 185.2L531.3 186.2L530.7 187.2L530.1 188.3L529.5 189.3L528.9 190.4L528.4 191.5L527.9 192.6L527.5 193.8L527.1 194.9L526.8 196.1L526.5 197.3L526.2 198.4L526.0 199.6L525.8 200.8L525.6 202.0L525.5 203.2L525.4 204.5Z" fill="#ffecec"/><path d="M597.0 218.2L597.5 217.8L598.1 216.5L598.6 215.3L599.1 213.9L599.5 212.6L599.8 211.2L600.1 209.9L600.3 208.5L600.4 207.1L600.6 205.7L600.6 204.3L600.6 202.8L600.6 201.4L600.5 200.0L600.3 198.6L600.1 197.2L599.9 195.8L599.6 194.4L599.2 193.0L598.8 191.6L598.4 190.2L597.9 188.9L597.3 187.6L596.7 186.2L596.1 185.0L595.4 183.7L594.6 182.4L593.8 181.2L593.0 180.0L592.1 178.9L591.2 177.8L590.2 176.7L589.2 175.6L588.2 174.6L587.1 173.6L586.0 172.6L584.9 171.7L583.7 170.9L582.5 170.0L581.2 169.3L580.0 168.5L578.7 167.8L577.3 167.2L576.0 166.6L574.6 166.1L573.2 165.6L571.8 165.1L570.4 164.7L569.0 164.4L567.5 164.1L566.1 163.8L564.6 163.6L563.2 163.5L561.7 163.4L560.2 163.3L558.7 163.3L557.2 163.4L555.8 163.5L554.3 163.7L552.8 163.9L551.4 164.2L549.9 164.5L548.5 164.8L547.1 165.3L545.7 165.7L544.3 166.2L542.9 166.8L541.5 167.4L540.2 168.1L538.9 168.8L537.6 169.6L536.4 170.4L535.2 171.2L534.0 172.1L532.8 173.0L531.7 174.0L530.6 175.0L529.5 176.0L528.5 177.1L527.5 178.2L526.6 179.4L525.7 180.6L524.8 181.8L524.0 183.0L523.2 184.3L522.5 185.6L521.8 186.9L521.2 188.3L520.6 189.7L520.0 191.1L519.6 192.5L519.1 193.9L518.7 195.3L518.4 196.8L518.1 198.3L517.9 199.7L517.7 201.2L517.6 202.7L517.5 204.2L517.5 205.7L517.5 207.2L517.6 208.7L517.7 210.1L517.9 211.6L518.2 213.1L518.5 214.5L518.9 216.0L519.3 217.4L519.7 218.8L520.2 220.2L520.8 221.6L521.4 222.9L522.1 224.3L522.8 225.6L523.5 226.8L524.3 228.1L525.1 229.3L526.0 230.5L526.9 231.7L527.9 232.8L528.8 233.9L529.9 235.0L530.9 236.0L532.0 237.0L533.1 237.9L534.3 238.8L535.5 239.7L536.7 240.5L538.0 241.3L539.2 242.0L540.5 242.6L541.9 243.3L543.2 243.8L544.6 244.4L546.0 244.8L547.3 245.2L548.7 245.6L550.2 245.9L551.6 246.2L553.0 246.4L554.4 246.6L555.9 246.7L557.3 246.8L558.8 246.8L560.2 246.8L561.6 246.7L563.1 246.6L564.5 246.4L565.9 246.2L567.3 245.9L568.7 245.5L570.0 245.1L571.4 244.7L572.7 244.2L574.0 243.6L575.3 243.0L576.5 242.3L577.7 241.6L578.9 240.8L580.0 239.9L581.0 238.9L581.1 238.5L580.6 238.4L579.3 238.8L578.0 239.2L576.8 239.7L575.5 240.1L574.3 240.5L573.0 240.8L571.7 241.2L570.5 241.4L569.2 241.7L567.9 241.9L566.6 242.1L565.3 242.2L564.0 242.3L562.8 242.3L561.5 242.3L560.2 242.3L558.9 242.2L557.7 242.1L556.4 241.9L555.1 241.7L553.9 241.5L552.6 241.2L551.4 240.9L550.2 240.5L549.0 240.1L547.9 239.6L546.7 239.1L545.6 238.6L544.4 238.0L543.3 237.4L542.3 236.7L541.2 236.0L540.2 235.3L539.2 234.6L538.2 233.8L537.3 233.0L536.4 232.2L535.5 231.3L534.6 230.4L533.8 229.5L533.0 228.5L532.2 227.5L531.5 226.5L530.8 225.5L530.1 224.5L529.5 223.4L528.9 222.3L528.4 221.2L527.9 220.0L527.5 218.9L527.1 217.7L526.7 216.6L526.4 215.4L526.1 214.2L525.8 213.0L525.6 211.8L525.5 210.6L525.3 209.3L525.2 208.1L525.2 206.9L525.2 205.7L525.2 204.5L525.3 203.2L525.4 202.0L525.5 200.8L525.7 199.6L525.9 198.4L526.2 197.2L526.5 196.0L526.9 194.9L527.3 193.7L527.7 192.6L528.2 191.4L528.7 190.3L529.3 189.2L529.8 188.2L530.5 187.1L531.1 186.1L531.8 185.1L532.6 184.1L533.3 183.1L534.1 182.2L535.0 181.3L535.8 180.4L536.7 179.6L537.6 178.8L538.6 178.0L539.5 177.2L540.5 176.5L541.6 175.8L542.6 175.2L543.7 174.6L544.8 174.0L545.9 173.5L547.0 173.0L548.1 172.6L549.3 172.1L550.5 171.8L551.7 171.4L552.9 171.1L554.1 170.9L555.3 170.7L556.5 170.5L557.7 170.4L559.0 170.3L560.2 170.3L561.4 170.3L562.7 170.3L563.9 170.4L565.1 170.5L566.4 170.7L567.6 170.9L568.8 171.2L570.0 171.5L571.2 171.8L572.4 172.2L573.5 172.6L574.7 173.1L575.8 173.6L577.0 174.2L578.1 174.8L579.1 175.4L580.2 176.0L581.2 176.7L582.3 177.4L583.3 178.2L584.2 179.0L585.2 179.8L586.1 180.7L587.0 181.6L587.8 182.5L588.7 183.4L589.5 184.4L590.2 185.4L591.0 186.5L591.7 187.5L592.3 188.6L593.0 189.7L593.6 190.8L594.1 192.0L594.6 193.1L595.1 194.3L595.6 195.5L596.0 196.8L596.3 198.0L596.6 199.2L596.9 200.5L597.2 201.8L597.3 203.1L597.5 204.4L597.6 205.7L597.7 207.0L597.7 208.3L597.7 209.6L597.6 210.9L597.5 212.3L597.4 213.6L597.2 214.9L597.0 216.2L596.9 217.6Z" fill="#ffe3e3"/><path d="M598.8 209.9L599.0 209.8L599.5 208.4L599.8 207.1L599.9 205.7L600.1 204.3L600.1 202.9L600.1 201.5L600.0 200.1L599.9 198.7L599.7 197.3L599.5 195.9L599.2 194.5L598.9 193.1L598.5 191.7L598.1 190.4L597.6 189.0L597.1 187.7L596.5 186.4L595.8 185.1L595.1 183.8L594.4 182.6L593.6 181.4L592.8 180.2L591.9 179.1L591.0 177.9L590.1 176.8L589.1 175.8L588.0 174.8L587.0 173.8L585.9 172.8L584.7 171.9L583.5 171.1L582.3 170.2L581.1 169.5L579.8 168.7L578.5 168.1L577.2 167.4L575.9 166.8L574.5 166.3L573.2 165.8L571.8 165.4L570.4 165.0L568.9 164.6L567.5 164.3L566.0 164.1L564.6 163.9L563.1 163.7L561.7 163.6L560.2 163.6L558.7 163.6L557.3 163.6L555.8 163.7L554.3 163.9L552.9 164.1L551.4 164.4L550.0 164.7L548.6 165.1L547.1 165.5L545.7 165.9L544.4 166.5L543.0 167.0L541.6 167.6L540.3 168.3L539.0 169.0L537.7 169.7L536.5 170.5L535.3 171.4L534.1 172.3L532.9 173.2L531.8 174.1L530.7 175.1L529.7 176.2L528.6 177.3L527.7 178.4L526.7 179.5L525.8 180.7L525.0 181.9L524.2 183.2L523.4 184.4L522.7 185.7L522.0 187.0L521.4 188.4L520.8 189.7L520.2 191.1L519.8 192.5L519.3 194.0L518.9 195.4L518.6 196.8L518.3 198.3L518.1 199.8L517.9 201.2L517.8 202.7L517.7 204.2L517.7 205.7L517.7 207.2L517.8 208.6L517.9 210.1L518.1 211.6L518.4 213.0L518.7 214.5L519.1 215.9L519.5 217.4L519.9 218.8L520.5 220.1L521.0 221.5L521.6 222.8L522.3 224.2L523.0 225.5L523.7 226.7L524.5 228.0L525.3 229.2L526.2 230.4L527.1 231.5L528.0 232.7L529.0 233.8L530.0 234.8L531.1 235.8L532.2 236.8L533.3 237.7L534.5 238.6L535.6 239.5L536.9 240.3L538.1 241.0L539.4 241.7L540.7 242.4L542.0 243.0L543.3 243.6L544.7 244.1L546.0 244.6L547.4 245.0L548.8 245.3L550.2 245.7L551.6 245.9L553.1 246.1L554.5 246.3L555.9 246.4L557.3 246.5L558.8 246.5L560.2 246.5L561.6 246.4L563.0 246.2L564.4 246.0L565.8 245.8L567.2 245.5L568.6 245.1L569.9 244.7L571.2 244.2L572.5 243.6L573.8 243.0L575.0 242.3L576.1 241.3L576.1 241.2L576.0 241.1L574.5 241.2L573.2 241.4L571.9 241.7L570.6 241.9L569.3 242.1L568.0 242.3L566.7 242.5L565.4 242.6L564.1 242.7L562.8 242.7L561.5 242.7L560.2 242.6L558.9 242.6L557.6 242.4L556.4 242.3L555.1 242.0L553.8 241.8L552.6 241.5L551.4 241.1L550.1 240.8L548.9 240.3L547.8 239.9L546.6 239.3L545.5 238.8L544.3 238.2L543.2 237.6L542.1 236.9L541.1 236.3L540.1 235.5L539.0 234.8L538.1 234.0L537.1 233.2L536.2 232.3L535.3 231.5L534.4 230.6L533.6 229.6L532.8 228.7L532.0 227.7L531.3 226.7L530.6 225.6L529.9 224.6L529.3 223.5L528.7 222.4L528.2 221.3L527.7 220.1L527.3 219.0L526.9 217.8L526.5 216.6L526.2 215.4L525.9 214.2L525.6 213.0L525.4 211.8L525.3 210.6L525.1 209.4L525.0 208.1L525.0 206.9L525.0 205.7L525.0 204.4L525.0 203.2L525.2 202.0L525.3 200.8L525.5 199.6L525.7 198.3L526.0 197.2L526.3 196.0L526.7 194.8L527.1 193.6L527.5 192.5L528.0 191.3L528.5 190.2L529.1 189.1L529.7 188.0L530.3 187.0L531.0 186.0L531.7 184.9L532.4 184.0L533.2 183.0L534.0 182.1L534.8 181.1L535.7 180.3L536.6 179.4L537.5 178.6L538.4 177.8L539.4 177.1L540.4 176.3L541.4 175.7L542.5 175.0L543.6 174.4L544.7 173.8L545.8 173.3L546.9 172.8L548.1 172.3L549.2 171.9L550.4 171.5L551.6 171.2L552.8 170.9L554.0 170.7L555.2 170.4L556.5 170.3L557.7 170.1L559.0 170.1L560.2 170.0L561.4 170.0L562.7 170.1L563.9 170.2L565.2 170.3L566.4 170.5L567.6 170.7L568.9 170.9L570.1 171.3L571.3 171.6L572.5 172.0L573.6 172.4L574.8 172.9L575.9 173.4L577.1 174.0L578.2 174.5L579.3 175.2L580.3 175.8L581.4 176.5L582.4 177.2L583.4 178.0L584.4 178.8L585.4 179.6L586.3 180.5L587.2 181.4L588.1 182.3L588.9 183.3L589.7 184.2L590.5 185.3L591.2 186.3L591.9 187.4L592.6 188.5L593.2 189.6L593.8 190.7L594.4 191.8L595.0 193.0L595.5 194.2L595.9 195.4L596.3 196.7L596.7 197.9L597.1 199.2L597.4 200.5L597.6 201.7L597.9 203.0L598.1 204.4L598.2 205.7L598.3 207.0L598.5 208.4L598.7 209.7Z" fill="#ffdada"/><path d="M599.0 203.4L599.3 202.9L599.5 201.5L599.5 200.2L599.4 198.8L599.3 197.4L599.1 196.0L598.8 194.6L598.5 193.2L598.2 191.9L597.8 190.5L597.3 189.2L596.8 187.8L596.2 186.5L595.6 185.3L594.9 184.0L594.2 182.8L593.4 181.6L592.6 180.4L591.7 179.2L590.8 178.1L589.9 177.0L588.9 176.0L587.9 174.9L586.8 174.0L585.7 173.0L584.6 172.1L583.4 171.2L582.2 170.4L581.0 169.7L579.7 168.9L578.5 168.2L577.1 167.6L575.8 167.0L574.5 166.5L573.1 166.0L571.7 165.6L570.3 165.2L568.9 164.8L567.5 164.5L566.0 164.3L564.6 164.1L563.1 163.9L561.7 163.8L560.2 163.8L558.7 163.8L557.3 163.8L555.8 163.9L554.4 164.1L552.9 164.3L551.5 164.6L550.0 164.9L548.6 165.2L547.2 165.7L545.8 166.1L544.4 166.6L543.1 167.2L541.7 167.8L540.4 168.5L539.1 169.2L537.8 169.9L536.6 170.7L535.4 171.5L534.2 172.4L533.1 173.3L531.9 174.3L530.9 175.3L529.8 176.3L528.8 177.4L527.8 178.5L526.9 179.6L526.0 180.8L525.1 182.0L524.3 183.3L523.6 184.5L522.8 185.8L522.2 187.1L521.5 188.5L521.0 189.8L520.4 191.2L519.9 192.6L519.5 194.0L519.1 195.4L518.8 196.9L518.5 198.3L518.3 199.8L518.1 201.2L518.0 202.7L517.9 204.2L517.9 205.7L517.9 207.2L518.0 208.6L518.1 210.1L518.3 211.6L518.6 213.0L518.9 214.5L519.2 215.9L519.7 217.3L520.1 218.7L520.6 220.1L521.2 221.4L521.8 222.8L522.5 224.1L523.2 225.4L523.9 226.6L524.7 227.9L525.5 229.1L526.4 230.3L527.3 231.4L528.2 232.5L529.2 233.6L530.2 234.7L531.2 235.7L532.3 236.6L533.4 237.6L534.6 238.4L535.8 239.3L537.0 240.1L538.2 240.8L539.5 241.5L540.8 242.2L542.1 242.8L543.4 243.4L544.8 243.9L546.1 244.3L547.5 244.7L548.9 245.1L550.3 245.4L551.7 245.6L553.1 245.9L554.5 246.0L555.9 246.1L557.4 246.2L558.8 246.2L560.2 246.1L561.6 246.0L563.0 245.8L564.4 245.6L565.8 245.3L567.1 245.0L568.5 244.6L569.8 244.1L571.0 243.5L571.7 242.8L570.8 242.6L569.4 242.7L568.1 242.8L566.8 242.9L565.4 243.0L564.1 243.1L562.8 243.1L561.5 243.1L560.2 243.0L558.9 242.9L557.6 242.7L556.3 242.6L555.0 242.3L553.8 242.1L552.5 241.8L551.3 241.4L550.1 241.0L548.9 240.6L547.7 240.1L546.5 239.6L545.4 239.0L544.2 238.4L543.1 237.8L542.0 237.1L541.0 236.5L539.9 235.7L538.9 235.0L537.9 234.2L537.0 233.4L536.0 232.5L535.1 231.6L534.3 230.7L533.4 229.8L532.6 228.8L531.9 227.8L531.1 226.8L530.4 225.8L529.8 224.7L529.1 223.6L528.6 222.5L528.0 221.4L527.5 220.2L527.1 219.0L526.7 217.9L526.3 216.7L526.0 215.5L525.7 214.3L525.4 213.1L525.2 211.8L525.1 210.6L524.9 209.4L524.8 208.1L524.8 206.9L524.8 205.7L524.8 204.4L524.9 203.2L525.0 202.0L525.1 200.7L525.3 199.5L525.6 198.3L525.8 197.1L526.1 195.9L526.5 194.7L526.9 193.6L527.3 192.4L527.8 191.3L528.3 190.1L528.9 189.0L529.5 188.0L530.1 186.9L530.8 185.8L531.5 184.8L532.2 183.8L533.0 182.9L533.8 181.9L534.7 181.0L535.5 180.1L536.4 179.3L537.4 178.5L538.3 177.7L539.3 176.9L540.3 176.2L541.3 175.5L542.4 174.8L543.5 174.2L544.6 173.7L545.7 173.1L546.8 172.6L548.0 172.2L549.2 171.7L550.4 171.4L551.6 171.0L552.8 170.7L554.0 170.5L555.2 170.2L556.5 170.1L557.7 169.9L558.9 169.9L560.2 169.8L561.5 169.8L562.7 169.9L564.0 170.0L565.2 170.1L566.4 170.3L567.7 170.5L568.9 170.7L570.1 171.0L571.3 171.4L572.5 171.8L573.7 172.2L574.9 172.7L576.0 173.2L577.2 173.8L578.3 174.4L579.4 175.0L580.5 175.6L581.5 176.3L582.6 177.1L583.6 177.8L584.6 178.6L585.5 179.4L586.5 180.3L587.4 181.2L588.2 182.1L589.1 183.1L589.9 184.1L590.7 185.1L591.4 186.2L592.2 187.2L592.9 188.3L593.5 189.4L594.1 190.6L594.7 191.7L595.3 192.9L595.8 194.1L596.3 195.3L596.8 196.6L597.2 197.8L597.6 199.1L597.9 200.4L598.3 201.7L598.7 203.0Z" fill="#ffcfcf"/><path d="M598.4 198.4L598.6 197.5L598.6 196.1L598.4 194.7L598.1 193.3L597.8 192.0L597.4 190.6L597.0 189.3L596.5 188.0L595.9 186.7L595.3 185.4L594.7 184.1L594.0 182.9L593.2 181.7L592.4 180.5L591.5 179.4L590.6 178.3L589.7 177.2L588.7 176.1L587.7 175.1L586.7 174.1L585.6 173.2L584.5 172.3L583.3 171.4L582.1 170.6L580.9 169.8L579.6 169.1L578.4 168.4L577.1 167.8L575.7 167.2L574.4 166.7L573.0 166.2L571.7 165.7L570.3 165.3L568.8 165.0L567.4 164.7L566.0 164.5L564.6 164.3L563.1 164.1L561.7 164.0L560.2 164.0L558.7 164.0L557.3 164.0L555.8 164.1L554.4 164.3L552.9 164.5L551.5 164.7L550.1 165.1L548.7 165.4L547.3 165.8L545.9 166.3L544.5 166.8L543.1 167.4L541.8 168.0L540.5 168.6L539.2 169.3L537.9 170.1L536.7 170.8L535.5 171.7L534.3 172.5L533.2 173.5L532.1 174.4L531.0 175.4L529.9 176.4L528.9 177.5L527.9 178.6L527.0 179.7L526.1 180.9L525.3 182.1L524.5 183.3L523.7 184.6L523.0 185.9L522.3 187.2L521.7 188.5L521.1 189.9L520.6 191.3L520.1 192.6L519.7 194.1L519.3 195.5L519.0 196.9L518.7 198.4L518.4 199.8L518.3 201.3L518.1 202.7L518.1 204.2L518.0 205.7L518.1 207.1L518.2 208.6L518.3 210.1L518.5 211.5L518.8 213.0L519.1 214.4L519.4 215.8L519.8 217.3L520.3 218.6L520.8 220.0L521.4 221.4L522.0 222.7L522.6 224.0L523.3 225.3L524.1 226.5L524.8 227.8L525.7 229.0L526.5 230.1L527.4 231.3L528.3 232.4L529.3 233.5L530.3 234.5L531.4 235.5L532.5 236.5L533.6 237.4L534.7 238.3L535.9 239.1L537.1 239.9L538.3 240.7L539.6 241.4L540.9 242.0L542.2 242.6L543.5 243.1L544.9 243.6L546.2 244.1L547.6 244.5L549.0 244.8L550.4 245.1L551.8 245.4L553.2 245.6L554.6 245.7L556.0 245.8L557.4 245.8L558.8 245.8L560.2 245.7L561.6 245.6L563.0 245.4L564.3 245.1L565.7 244.8L567.0 244.2L567.3 243.9L566.9 243.7L565.5 243.6L564.2 243.6L562.8 243.5L561.5 243.5L560.2 243.4L558.9 243.2L557.6 243.1L556.3 242.9L555.0 242.6L553.7 242.4L552.5 242.0L551.2 241.7L550.0 241.3L548.8 240.8L547.6 240.3L546.4 239.8L545.3 239.2L544.1 238.6L543.0 238.0L541.9 237.3L540.9 236.6L539.8 235.9L538.8 235.1L537.8 234.3L536.8 233.5L535.9 232.6L535.0 231.8L534.1 230.8L533.3 229.9L532.5 228.9L531.7 227.9L531.0 226.9L530.3 225.9L529.6 224.8L529.0 223.7L528.4 222.6L527.9 221.4L527.4 220.3L526.9 219.1L526.5 217.9L526.2 216.7L525.8 215.5L525.5 214.3L525.3 213.1L525.1 211.9L524.9 210.6L524.8 209.4L524.7 208.2L524.6 206.9L524.6 205.7L524.6 204.4L524.7 203.2L524.8 202.0L525.0 200.7L525.2 199.5L525.4 198.3L525.7 197.1L526.0 195.9L526.3 194.7L526.8 193.5L527.2 192.3L527.7 191.2L528.2 190.1L528.8 189.0L529.4 187.9L530.0 186.8L530.7 185.8L531.4 184.7L532.1 183.7L532.9 182.8L533.7 181.8L534.5 180.9L535.4 180.0L536.3 179.1L537.2 178.3L538.2 177.5L539.2 176.8L540.2 176.0L541.3 175.4L542.3 174.7L543.4 174.1L544.5 173.5L545.6 173.0L546.8 172.5L547.9 172.0L549.1 171.6L550.3 171.2L551.5 170.8L552.7 170.5L554.0 170.3L555.2 170.1L556.4 169.9L557.7 169.8L558.9 169.7L560.2 169.6L561.5 169.6L562.7 169.7L564.0 169.8L565.2 169.9L566.5 170.1L567.7 170.3L569.0 170.6L570.2 170.9L571.4 171.2L572.6 171.6L573.8 172.0L575.0 172.5L576.1 173.0L577.3 173.6L578.4 174.2L579.5 174.8L580.6 175.5L581.6 176.2L582.7 176.9L583.7 177.6L584.7 178.4L585.7 179.3L586.6 180.2L587.5 181.1L588.4 182.0L589.3 182.9L590.1 183.9L590.9 185.0L591.7 186.0L592.4 187.1L593.1 188.2L593.8 189.3L594.4 190.4L595.1 191.6L595.7 192.8L596.2 194.0L596.8 195.2L597.3 196.4L597.8 197.7Z" fill="#ffc3c3"/><path d="M597.4 194.2L597.5 193.6L597.4 192.2L597.0 190.8L596.7 189.4L596.2 188.1L595.7 186.8L595.1 185.5L594.4 184.3L593.7 183.1L593.0 181.9L592.2 180.7L591.4 179.5L590.5 178.4L589.5 177.3L588.6 176.3L587.6 175.3L586.5 174.3L585.5 173.4L584.3 172.4L583.2 171.6L582.0 170.8L580.8 170.0L579.6 169.3L578.3 168.6L577.0 168.0L575.7 167.4L574.3 166.9L573.0 166.4L571.6 165.9L570.2 165.5L568.8 165.2L567.4 164.9L566.0 164.6L564.5 164.4L563.1 164.3L561.6 164.2L560.2 164.1L558.7 164.1L557.3 164.2L555.9 164.3L554.4 164.4L553.0 164.7L551.5 164.9L550.1 165.2L548.7 165.6L547.3 166.0L545.9 166.4L544.6 166.9L543.2 167.5L541.9 168.1L540.6 168.8L539.3 169.4L538.0 170.2L536.8 171.0L535.6 171.8L534.4 172.7L533.3 173.6L532.2 174.5L531.1 175.5L530.0 176.5L529.0 177.6L528.1 178.7L527.1 179.8L526.2 181.0L525.4 182.2L524.6 183.4L523.8 184.7L523.1 186.0L522.5 187.3L521.8 188.6L521.3 189.9L520.7 191.3L520.2 192.7L519.8 194.1L519.4 195.5L519.1 196.9L518.8 198.4L518.6 199.8L518.4 201.3L518.3 202.7L518.2 204.2L518.2 205.7L518.2 207.1L518.3 208.6L518.5 210.1L518.7 211.5L518.9 213.0L519.2 214.4L519.6 215.8L520.0 217.2L520.4 218.6L521.0 220.0L521.5 221.3L522.1 222.6L522.8 223.9L523.5 225.2L524.2 226.4L525.0 227.7L525.8 228.9L526.7 230.0L527.6 231.2L528.5 232.3L529.5 233.4L530.5 234.4L531.5 235.4L532.6 236.3L533.7 237.3L534.8 238.1L536.0 239.0L537.2 239.7L538.4 240.5L539.7 241.2L541.0 241.8L542.3 242.4L543.6 242.9L544.9 243.4L546.3 243.9L547.7 244.2L549.0 244.6L550.4 244.8L551.8 245.1L553.2 245.3L554.6 245.4L556.0 245.5L557.4 245.5L558.8 245.4L560.2 245.3L561.6 245.0L562.9 244.5L561.5 244.0L560.2 243.8L558.9 243.7L557.6 243.5L556.3 243.2L555.0 243.0L553.7 242.7L552.4 242.3L551.2 242.0L549.9 241.5L548.7 241.1L547.5 240.6L546.3 240.0L545.2 239.4L544.0 238.8L542.9 238.2L541.8 237.5L540.7 236.8L539.7 236.1L538.7 235.3L537.7 234.5L536.7 233.7L535.8 232.8L534.9 231.9L534.0 231.0L533.2 230.0L532.3 229.0L531.6 228.0L530.8 227.0L530.1 226.0L529.5 224.9L528.8 223.8L528.3 222.7L527.7 221.5L527.2 220.4L526.8 219.2L526.4 218.0L526.0 216.8L525.7 215.6L525.4 214.4L525.1 213.1L524.9 211.9L524.7 210.7L524.6 209.4L524.5 208.2L524.5 206.9L524.4 205.7L524.5 204.4L524.5 203.2L524.6 201.9L524.8 200.7L525.0 199.5L525.2 198.2L525.5 197.0L525.8 195.8L526.2 194.6L526.6 193.4L527.1 192.3L527.5 191.1L528.1 190.0L528.6 188.9L529.2 187.8L529.9 186.7L530.5 185.7L531.2 184.6L532.0 183.6L532.8 182.7L533.6 181.7L534.4 180.8L535.3 179.9L536.2 179.0L537.1 178.2L538.1 177.4L539.1 176.6L540.1 175.9L541.2 175.2L542.2 174.6L543.3 173.9L544.4 173.4L545.6 172.8L546.7 172.3L547.9 171.8L549.1 171.4L550.3 171.0L551.5 170.7L552.7 170.4L553.9 170.1L555.2 169.9L556.4 169.7L557.7 169.6L558.9 169.5L560.2 169.5L561.5 169.5L562.7 169.5L564.0 169.6L565.3 169.7L566.5 169.9L567.8 170.1L569.0 170.4L570.2 170.7L571.5 171.0L572.7 171.4L573.9 171.9L575.0 172.3L576.2 172.9L577.4 173.4L578.5 174.0L579.6 174.6L580.7 175.3L581.8 176.0L582.8 176.7L583.9 177.5L584.9 178.3L585.8 179.1L586.8 180.0L587.7 180.9L588.6 181.8L589.5 182.8L590.3 183.8L591.1 184.8L591.9 185.9L592.7 186.9L593.4 188.0L594.1 189.1L594.8 190.3L595.4 191.4L596.1 192.6L596.8 193.8Z" fill="#ffb7b7"/><path d="M596.2 190.9L596.2 189.7L595.8 188.3L595.3 187.0L594.8 185.7L594.2 184.4L593.5 183.2L592.8 182.0L592.0 180.8L591.2 179.7L590.3 178.6L589.4 177.5L588.4 176.4L587.4 175.4L586.4 174.5L585.3 173.5L584.2 172.6L583.1 171.7L581.9 170.9L580.7 170.2L579.5 169.4L578.2 168.8L576.9 168.1L575.6 167.6L574.3 167.0L572.9 166.5L571.6 166.1L570.2 165.7L568.8 165.3L567.4 165.0L565.9 164.8L564.5 164.6L563.1 164.4L561.6 164.3L560.2 164.3L558.8 164.3L557.3 164.3L555.9 164.4L554.4 164.6L553.0 164.8L551.6 165.1L550.1 165.4L548.7 165.7L547.4 166.1L546.0 166.6L544.6 167.1L543.3 167.6L541.9 168.2L540.6 168.9L539.4 169.6L538.1 170.3L536.9 171.1L535.7 171.9L534.5 172.8L533.4 173.7L532.3 174.6L531.2 175.6L530.1 176.7L529.1 177.7L528.2 178.8L527.2 179.9L526.4 181.1L525.5 182.3L524.7 183.5L524.0 184.8L523.2 186.0L522.6 187.3L522.0 188.6L521.4 190.0L520.9 191.4L520.4 192.7L520.0 194.1L519.6 195.5L519.2 197.0L519.0 198.4L518.7 199.8L518.6 201.3L518.4 202.8L518.4 204.2L518.3 205.7L518.4 207.1L518.5 208.6L518.6 210.0L518.8 211.5L519.1 212.9L519.4 214.4L519.7 215.8L520.1 217.2L520.6 218.5L521.1 219.9L521.7 221.2L522.3 222.6L522.9 223.9L523.6 225.1L524.4 226.4L525.1 227.6L525.9 228.8L526.8 229.9L527.7 231.1L528.6 232.2L529.6 233.2L530.6 234.3L531.6 235.3L532.7 236.2L533.8 237.1L535.0 238.0L536.1 238.8L537.3 239.6L538.6 240.3L539.8 241.0L541.1 241.6L542.4 242.2L543.7 242.7L545.0 243.2L546.4 243.6L547.8 244.0L549.1 244.3L550.5 244.6L551.9 244.8L553.3 244.9L554.7 245.0L556.1 245.0L557.5 244.9L558.7 244.5L557.5 244.0L556.2 243.7L554.9 243.4L553.6 243.0L552.3 242.6L551.1 242.2L549.8 241.8L548.6 241.3L547.4 240.8L546.2 240.2L545.1 239.7L543.9 239.0L542.8 238.4L541.7 237.7L540.6 237.0L539.6 236.2L538.6 235.4L537.6 234.6L536.6 233.8L535.7 232.9L534.8 232.0L533.9 231.1L533.0 230.1L532.2 229.2L531.4 228.1L530.7 227.1L530.0 226.1L529.3 225.0L528.7 223.9L528.1 222.7L527.6 221.6L527.1 220.4L526.6 219.2L526.2 218.0L525.9 216.8L525.5 215.6L525.2 214.4L525.0 213.2L524.8 211.9L524.6 210.7L524.5 209.4L524.4 208.2L524.3 206.9L524.3 205.7L524.3 204.4L524.4 203.2L524.5 201.9L524.7 200.7L524.9 199.4L525.1 198.2L525.4 197.0L525.7 195.8L526.1 194.6L526.5 193.4L526.9 192.2L527.4 191.1L527.9 189.9L528.5 188.8L529.1 187.7L529.7 186.6L530.4 185.6L531.1 184.6L531.9 183.5L532.7 182.6L533.5 181.6L534.3 180.7L535.2 179.8L536.1 178.9L537.1 178.1L538.0 177.3L539.0 176.5L540.0 175.8L541.1 175.1L542.2 174.4L543.3 173.8L544.4 173.2L545.5 172.7L546.7 172.2L547.8 171.7L549.0 171.3L550.2 170.9L551.4 170.5L552.7 170.2L553.9 170.0L555.2 169.7L556.4 169.6L557.7 169.4L558.9 169.3L560.2 169.3L561.5 169.3L562.7 169.3L564.0 169.4L565.3 169.6L566.5 169.7L567.8 169.9L569.0 170.2L570.3 170.5L571.5 170.9L572.7 171.3L573.9 171.7L575.1 172.2L576.3 172.7L577.4 173.3L578.6 173.8L579.7 174.5L580.8 175.1L581.9 175.8L582.9 176.6L584.0 177.3L585.0 178.1L586.0 179.0L587.0 179.8L587.9 180.7L588.8 181.7L589.7 182.6L590.5 183.6L591.4 184.7L592.2 185.7L593.0 186.8L593.7 187.9L594.5 189.0L595.3 190.1Z" fill="#ffa9a9"/><path d="M594.8 187.9L594.8 187.3L594.4 185.9L593.9 184.6L593.2 183.4L592.5 182.2L591.8 181.0L591.0 179.9L590.1 178.7L589.2 177.7L588.3 176.6L587.3 175.6L586.3 174.6L585.2 173.7L584.1 172.8L583.0 171.9L581.8 171.1L580.6 170.3L579.4 169.6L578.1 168.9L576.8 168.3L575.5 167.7L574.2 167.2L572.9 166.7L571.5 166.3L570.1 165.9L568.7 165.5L567.3 165.2L565.9 165.0L564.5 164.8L563.1 164.6L561.6 164.5L560.2 164.5L558.8 164.5L557.3 164.5L555.9 164.6L554.4 164.8L553.0 165.0L551.6 165.2L550.2 165.5L548.8 165.9L547.4 166.3L546.0 166.7L544.7 167.2L543.3 167.8L542.0 168.4L540.7 169.0L539.4 169.7L538.2 170.4L537.0 171.2L535.8 172.0L534.6 172.9L533.5 173.8L532.4 174.7L531.3 175.7L530.2 176.7L529.2 177.8L528.3 178.9L527.4 180.0L526.5 181.2L525.6 182.4L524.8 183.6L524.1 184.8L523.4 186.1L522.7 187.4L522.1 188.7L521.5 190.0L521.0 191.4L520.5 192.8L520.1 194.2L519.7 195.6L519.4 197.0L519.1 198.4L518.9 199.9L518.7 201.3L518.6 202.8L518.5 204.2L518.5 205.7L518.5 207.1L518.6 208.6L518.7 210.0L518.9 211.5L519.2 212.9L519.5 214.3L519.9 215.7L520.3 217.1L520.7 218.5L521.2 219.9L521.8 221.2L522.4 222.5L523.1 223.8L523.8 225.0L524.5 226.3L525.3 227.5L526.1 228.7L526.9 229.8L527.8 231.0L528.7 232.1L529.7 233.1L530.7 234.2L531.7 235.1L532.8 236.1L533.9 237.0L535.1 237.8L536.2 238.7L537.4 239.4L538.7 240.2L539.9 240.8L541.2 241.4L542.5 242.0L543.8 242.5L545.1 243.0L546.5 243.4L547.8 243.7L549.2 244.0L550.6 244.2L552.0 244.4L553.4 244.4L554.6 244.1L553.5 243.5L552.3 243.1L551.0 242.6L549.8 242.1L548.5 241.6L547.3 241.0L546.1 240.5L545.0 239.9L543.8 239.2L542.7 238.6L541.6 237.9L540.5 237.1L539.5 236.4L538.5 235.6L537.5 234.8L536.5 233.9L535.5 233.1L534.6 232.1L533.8 231.2L532.9 230.2L532.1 229.3L531.3 228.2L530.6 227.2L529.9 226.1L529.2 225.1L528.6 223.9L528.0 222.8L527.4 221.7L527.0 220.5L526.5 219.3L526.1 218.1L525.7 216.9L525.4 215.7L525.1 214.4L524.8 213.2L524.6 211.9L524.5 210.7L524.3 209.4L524.2 208.2L524.2 206.9L524.2 205.7L524.2 204.4L524.3 203.2L524.4 201.9L524.5 200.7L524.7 199.4L525.0 198.2L525.2 197.0L525.6 195.7L525.9 194.5L526.3 193.4L526.8 192.2L527.3 191.0L527.8 189.9L528.4 188.8L529.0 187.6L529.6 186.6L530.3 185.5L531.0 184.5L531.8 183.5L532.6 182.5L533.4 181.5L534.2 180.6L535.1 179.7L536.0 178.8L537.0 178.0L537.9 177.2L538.9 176.4L540.0 175.7L541.0 175.0L542.1 174.3L543.2 173.7L544.3 173.1L545.4 172.5L546.6 172.0L547.8 171.6L549.0 171.1L550.2 170.7L551.4 170.4L552.6 170.1L553.9 169.8L555.1 169.6L556.4 169.4L557.7 169.3L558.9 169.2L560.2 169.1L561.5 169.1L562.8 169.2L564.0 169.3L565.3 169.4L566.6 169.6L567.8 169.8L569.1 170.0L570.3 170.4L571.6 170.7L572.8 171.1L574.0 171.5L575.2 172.0L576.4 172.5L577.5 173.1L578.7 173.7L579.8 174.3L580.9 175.0L582.0 175.7L583.1 176.4L584.1 177.2L585.1 178.0L586.1 178.8L587.1 179.7L588.1 180.6L589.0 181.5L589.9 182.5L590.8 183.5L591.6 184.5L592.5 185.5L593.3 186.6L594.2 187.6Z" fill="#ff9a9a"/><path d="M593.2 185.1L593.2 185.0L592.9 183.6L592.2 182.4L591.5 181.2L590.7 180.0L589.9 178.9L589.0 177.8L588.1 176.8L587.1 175.8L586.1 174.8L585.1 173.8L584.0 172.9L582.9 172.1L581.7 171.2L580.5 170.5L579.3 169.8L578.0 169.1L576.8 168.5L575.5 167.9L574.2 167.3L572.8 166.9L571.5 166.4L570.1 166.0L568.7 165.7L567.3 165.4L565.9 165.1L564.5 164.9L563.1 164.8L561.6 164.7L560.2 164.6L558.8 164.6L557.3 164.7L555.9 164.7L554.5 164.9L553.0 165.1L551.6 165.3L550.2 165.6L548.8 166.0L547.4 166.4L546.1 166.9L544.7 167.4L543.4 167.9L542.1 168.5L540.8 169.1L539.5 169.8L538.3 170.6L537.0 171.3L535.8 172.1L534.7 173.0L533.5 173.9L532.4 174.8L531.4 175.8L530.3 176.8L529.3 177.9L528.4 179.0L527.5 180.1L526.6 181.2L525.7 182.4L524.9 183.6L524.2 184.9L523.5 186.2L522.8 187.4L522.2 188.8L521.6 190.1L521.1 191.4L520.6 192.8L520.2 194.2L519.8 195.6L519.5 197.0L519.2 198.4L519.0 199.9L518.8 201.3L518.7 202.8L518.6 204.2L518.6 205.7L518.6 207.1L518.7 208.6L518.9 210.0L519.1 211.5L519.3 212.9L519.6 214.3L520.0 215.7L520.4 217.1L520.8 218.5L521.4 219.8L521.9 221.1L522.5 222.4L523.2 223.7L523.9 225.0L524.6 226.2L525.4 227.4L526.2 228.6L527.1 229.8L527.9 230.9L528.9 232.0L529.8 233.0L530.8 234.0L531.9 235.0L532.9 236.0L534.0 236.8L535.2 237.7L536.3 238.5L537.5 239.3L538.8 240.0L540.0 240.6L541.3 241.3L542.6 241.8L543.9 242.3L545.2 242.7L546.6 243.1L548.0 243.4L549.3 243.6L550.7 243.6L551.0 243.4L550.8 243.2L549.6 242.5L548.4 241.9L547.2 241.3L546.0 240.7L544.9 240.1L543.7 239.4L542.6 238.8L541.5 238.0L540.4 237.3L539.4 236.5L538.3 235.8L537.3 234.9L536.4 234.1L535.4 233.2L534.5 232.3L533.6 231.3L532.8 230.4L532.0 229.4L531.2 228.3L530.4 227.3L529.7 226.2L529.1 225.1L528.4 224.0L527.8 222.9L527.3 221.7L526.8 220.5L526.4 219.3L526.0 218.1L525.6 216.9L525.3 215.7L525.0 214.5L524.7 213.2L524.5 212.0L524.3 210.7L524.2 209.5L524.1 208.2L524.1 206.9L524.0 205.7L524.1 204.4L524.1 203.2L524.2 201.9L524.4 200.6L524.6 199.4L524.8 198.2L525.1 196.9L525.4 195.7L525.8 194.5L526.2 193.3L526.7 192.1L527.2 191.0L527.7 189.8L528.3 188.7L528.9 187.6L529.5 186.5L530.2 185.4L530.9 184.4L531.7 183.4L532.5 182.4L533.3 181.4L534.1 180.5L535.0 179.6L535.9 178.7L536.9 177.9L537.9 177.1L538.9 176.3L539.9 175.6L540.9 174.9L542.0 174.2L543.1 173.6L544.2 173.0L545.4 172.4L546.6 171.9L547.7 171.4L548.9 171.0L550.1 170.6L551.4 170.3L552.6 169.9L553.9 169.7L555.1 169.4L556.4 169.3L557.6 169.1L558.9 169.0L560.2 169.0L561.5 169.0L562.8 169.0L564.0 169.1L565.3 169.2L566.6 169.4L567.9 169.6L569.1 169.9L570.4 170.2L571.6 170.5L572.8 170.9L574.1 171.4L575.3 171.9L576.4 172.4L577.6 172.9L578.8 173.5L579.9 174.2L581.0 174.8L582.1 175.5L583.2 176.2L584.3 177.0L585.3 177.8L586.3 178.6L587.3 179.5L588.3 180.4L589.2 181.3L590.2 182.3L591.1 183.2L592.0 184.2L593.1 185.1Z" fill="#ff8b8b"/><path d="M591.3 182.4L591.1 181.5L590.5 180.3L589.7 179.1L588.8 178.0L587.9 177.0L587.0 175.9L586.0 175.0L584.9 174.0L583.9 173.1L582.8 172.2L581.6 171.4L580.4 170.6L579.2 169.9L578.0 169.2L576.7 168.6L575.4 168.0L574.1 167.5L572.8 167.0L571.4 166.6L570.0 166.2L568.7 165.8L567.3 165.5L565.9 165.3L564.5 165.1L563.1 164.9L561.6 164.8L560.2 164.8L558.8 164.7L557.3 164.8L555.9 164.9L554.5 165.0L553.1 165.2L551.7 165.5L550.3 165.8L548.9 166.1L547.5 166.5L546.1 167.0L544.8 167.5L543.4 168.0L542.1 168.6L540.8 169.2L539.6 169.9L538.3 170.7L537.1 171.4L535.9 172.2L534.8 173.1L533.6 174.0L532.5 174.9L531.5 175.9L530.4 176.9L529.4 178.0L528.5 179.1L527.6 180.2L526.7 181.3L525.8 182.5L525.0 183.7L524.3 184.9L523.6 186.2L522.9 187.5L522.3 188.8L521.7 190.1L521.2 191.5L520.7 192.9L520.3 194.2L519.9 195.6L519.6 197.0L519.3 198.5L519.1 199.9L518.9 201.3L518.8 202.8L518.7 204.2L518.7 205.7L518.8 207.1L518.8 208.6L519.0 210.0L519.2 211.4L519.4 212.9L519.8 214.3L520.1 215.7L520.5 217.1L521.0 218.4L521.5 219.8L522.1 221.1L522.7 222.4L523.3 223.7L524.0 224.9L524.8 226.1L525.5 227.3L526.3 228.5L527.2 229.7L528.1 230.8L529.0 231.9L530.0 232.9L530.9 233.9L532.0 234.9L533.1 235.8L534.2 236.7L535.3 237.6L536.5 238.4L537.7 239.1L538.9 239.8L540.1 240.5L541.4 241.0L542.7 241.6L544.0 242.0L545.4 242.4L546.7 242.7L548.0 242.6L547.1 241.7L545.9 241.0L544.8 240.4L543.6 239.7L542.5 239.0L541.4 238.2L540.3 237.5L539.3 236.7L538.2 235.9L537.2 235.1L536.3 234.2L535.3 233.3L534.4 232.4L533.5 231.4L532.7 230.5L531.8 229.5L531.1 228.4L530.3 227.4L529.6 226.3L528.9 225.2L528.3 224.1L527.7 222.9L527.2 221.8L526.7 220.6L526.2 219.4L525.8 218.2L525.5 217.0L525.1 215.7L524.8 214.5L524.6 213.2L524.4 212.0L524.2 210.7L524.1 209.5L524.0 208.2L523.9 206.9L523.9 205.7L523.9 204.4L524.0 203.1L524.1 201.9L524.3 200.6L524.5 199.4L524.7 198.1L525.0 196.9L525.3 195.7L525.7 194.5L526.1 193.3L526.6 192.1L527.0 190.9L527.6 189.8L528.1 188.6L528.8 187.5L529.4 186.4L530.1 185.4L530.8 184.3L531.6 183.3L532.4 182.3L533.2 181.3L534.0 180.4L534.9 179.5L535.8 178.6L536.8 177.8L537.8 177.0L538.8 176.2L539.8 175.5L540.9 174.7L542.0 174.1L543.1 173.4L544.2 172.8L545.3 172.3L546.5 171.8L547.7 171.3L548.9 170.9L550.1 170.5L551.3 170.1L552.6 169.8L553.8 169.5L555.1 169.3L556.4 169.1L557.6 169.0L558.9 168.9L560.2 168.8L561.5 168.8L562.8 168.9L564.1 169.0L565.3 169.1L566.6 169.3L567.9 169.5L569.2 169.7L570.4 170.0L571.7 170.4L572.9 170.8L574.1 171.2L575.3 171.7L576.5 172.2L577.7 172.8L578.9 173.4L580.0 174.0L581.1 174.7L582.2 175.3L583.3 176.1L584.4 176.8L585.5 177.6L586.5 178.4L587.5 179.3L588.5 180.2L589.5 181.1L590.5 182.0Z" fill="#ff7b7b"/><path d="M589.3 179.9L589.2 179.5L588.5 178.3L587.7 177.2L586.8 176.2L585.8 175.1L584.8 174.2L583.7 173.3L582.6 172.4L581.5 171.6L580.3 170.8L579.1 170.1L577.9 169.4L576.6 168.8L575.3 168.2L574.0 167.7L572.7 167.2L571.4 166.7L570.0 166.3L568.6 166.0L567.3 165.7L565.9 165.4L564.5 165.2L563.0 165.1L561.6 165.0L560.2 164.9L558.8 164.9L557.4 164.9L555.9 165.0L554.5 165.2L553.1 165.4L551.7 165.6L550.3 165.9L548.9 166.3L547.5 166.7L546.2 167.1L544.8 167.6L543.5 168.1L542.2 168.7L540.9 169.4L539.6 170.0L538.4 170.8L537.2 171.5L536.0 172.3L534.8 173.2L533.7 174.1L532.6 175.0L531.5 176.0L530.5 177.0L529.5 178.1L528.6 179.1L527.7 180.2L526.8 181.4L525.9 182.6L525.2 183.8L524.4 185.0L523.7 186.3L523.0 187.6L522.4 188.9L521.9 190.2L521.3 191.5L520.9 192.9L520.4 194.3L520.1 195.7L519.7 197.1L519.5 198.5L519.2 199.9L519.1 201.4L518.9 202.8L518.9 204.2L518.8 205.7L518.9 207.1L519.0 208.6L519.1 210.0L519.3 211.4L519.6 212.8L519.9 214.2L520.2 215.6L520.6 217.0L521.1 218.4L521.6 219.7L522.2 221.0L522.8 222.3L523.5 223.6L524.2 224.8L524.9 226.1L525.7 227.3L526.5 228.4L527.3 229.6L528.2 230.7L529.1 231.8L530.1 232.8L531.1 233.8L532.1 234.8L533.2 235.7L534.3 236.6L535.4 237.4L536.6 238.2L537.8 238.9L539.0 239.6L540.2 240.2L541.5 240.8L542.8 241.3L544.2 241.7L545.6 241.7L544.6 240.7L543.5 239.9L542.4 239.2L541.3 238.5L540.2 237.7L539.1 236.9L538.1 236.1L537.1 235.2L536.1 234.4L535.2 233.4L534.3 232.5L533.4 231.6L532.5 230.6L531.7 229.6L530.9 228.5L530.2 227.5L529.5 226.4L528.8 225.3L528.2 224.2L527.6 223.0L527.1 221.8L526.6 220.7L526.1 219.4L525.7 218.2L525.3 217.0L525.0 215.8L524.7 214.5L524.5 213.3L524.3 212.0L524.1 210.8L524.0 209.5L523.9 208.2L523.8 206.9L523.8 205.7L523.8 204.4L523.9 203.1L524.0 201.9L524.2 200.6L524.4 199.4L524.6 198.1L524.9 196.9L525.2 195.6L525.6 194.4L526.0 193.2L526.4 192.0L526.9 190.9L527.5 189.7L528.0 188.6L528.7 187.5L529.3 186.4L530.0 185.3L530.7 184.3L531.5 183.2L532.3 182.2L533.1 181.3L533.9 180.3L534.8 179.4L535.8 178.5L536.7 177.7L537.7 176.9L538.7 176.1L539.7 175.3L540.8 174.6L541.9 174.0L543.0 173.3L544.1 172.7L545.3 172.2L546.5 171.7L547.6 171.2L548.8 170.7L550.1 170.3L551.3 170.0L552.5 169.7L553.8 169.4L555.1 169.2L556.3 169.0L557.6 168.8L558.9 168.7L560.2 168.7L561.5 168.7L562.8 168.7L564.1 168.8L565.4 168.9L566.7 169.1L567.9 169.3L569.2 169.6L570.5 169.9L571.7 170.2L573.0 170.6L574.2 171.1L575.4 171.5L576.6 172.0L577.8 172.6L578.9 173.2L580.1 173.8L581.2 174.5L582.4 175.2L583.5 175.9L584.6 176.6L585.7 177.4L586.7 178.2L587.8 179.0L588.9 179.8Z" fill="#ff6a6a"/><path d="M587.1 177.6L586.5 176.5L585.6 175.4L584.6 174.4L583.6 173.5L582.5 172.6L581.4 171.8L580.2 171.0L579.0 170.3L577.8 169.6L576.5 169.0L575.3 168.4L574.0 167.8L572.7 167.3L571.3 166.9L570.0 166.5L568.6 166.1L567.2 165.8L565.8 165.6L564.4 165.4L563.0 165.2L561.6 165.1L560.2 165.0L558.8 165.0L557.4 165.1L555.9 165.2L554.5 165.3L553.1 165.5L551.7 165.8L550.3 166.0L548.9 166.4L547.6 166.8L546.2 167.2L544.9 167.7L543.5 168.3L542.2 168.8L541.0 169.5L539.7 170.2L538.5 170.9L537.2 171.6L536.1 172.4L534.9 173.3L533.8 174.2L532.7 175.1L531.6 176.1L530.6 177.1L529.6 178.1L528.7 179.2L527.7 180.3L526.9 181.5L526.0 182.6L525.3 183.8L524.5 185.1L523.8 186.3L523.1 187.6L522.5 188.9L522.0 190.2L521.4 191.6L521.0 192.9L520.5 194.3L520.2 195.7L519.8 197.1L519.6 198.5L519.4 199.9L519.2 201.4L519.1 202.8L519.0 204.2L519.0 205.7L519.0 207.1L519.1 208.6L519.2 210.0L519.4 211.4L519.7 212.8L520.0 214.2L520.3 215.6L520.8 217.0L521.2 218.3L521.7 219.7L522.3 221.0L522.9 222.3L523.6 223.5L524.3 224.8L525.0 226.0L525.8 227.2L526.6 228.3L527.4 229.5L528.3 230.6L529.2 231.7L530.2 232.7L531.2 233.7L532.2 234.6L533.3 235.5L534.4 236.4L535.5 237.2L536.7 238.0L537.9 238.7L539.1 239.4L540.4 240.0L541.7 240.5L543.1 240.8L543.3 240.7L543.2 240.4L542.2 239.5L541.1 238.7L540.1 237.9L539.0 237.1L538.0 236.2L537.0 235.4L536.0 234.5L535.1 233.6L534.2 232.6L533.3 231.7L532.4 230.7L531.6 229.7L530.8 228.6L530.1 227.6L529.3 226.5L528.7 225.4L528.0 224.2L527.5 223.1L526.9 221.9L526.4 220.7L526.0 219.5L525.6 218.3L525.2 217.0L524.9 215.8L524.6 214.6L524.3 213.3L524.1 212.0L524.0 210.8L523.8 209.5L523.7 208.2L523.7 206.9L523.7 205.7L523.7 204.4L523.8 203.1L523.9 201.9L524.0 200.6L524.2 199.3L524.5 198.1L524.8 196.8L525.1 195.6L525.5 194.4L525.9 193.2L526.3 192.0L526.8 190.8L527.4 189.7L527.9 188.5L528.6 187.4L529.2 186.3L529.9 185.2L530.6 184.2L531.4 183.2L532.2 182.2L533.0 181.2L533.9 180.2L534.8 179.3L535.7 178.4L536.6 177.6L537.6 176.8L538.6 176.0L539.7 175.2L540.7 174.5L541.8 173.9L542.9 173.2L544.1 172.6L545.2 172.1L546.4 171.5L547.6 171.1L548.8 170.6L550.0 170.2L551.3 169.9L552.5 169.5L553.8 169.3L555.0 169.0L556.3 168.8L557.6 168.7L558.9 168.6L560.2 168.5L561.5 168.5L562.8 168.6L564.1 168.6L565.4 168.8L566.7 168.9L568.0 169.1L569.2 169.4L570.5 169.7L571.8 170.1L573.0 170.4L574.3 170.9L575.5 171.4L576.7 171.9L577.9 172.4L579.1 173.0L580.2 173.6L581.4 174.3L582.5 175.0L583.6 175.7L584.8 176.4L585.9 177.1Z" fill="#ff5858"/><path d="M584.8 175.6L584.4 174.7L583.4 173.7L582.4 172.8L581.3 172.0L580.1 171.2L578.9 170.5L577.7 169.8L576.5 169.1L575.2 168.6L573.9 168.0L572.6 167.5L571.3 167.1L569.9 166.7L568.6 166.3L567.2 166.0L565.8 165.7L564.4 165.5L563.0 165.4L561.6 165.3L560.2 165.2L558.8 165.2L557.4 165.2L556.0 165.3L554.5 165.5L553.1 165.6L551.7 165.9L550.4 166.2L549.0 166.5L547.6 166.9L546.3 167.3L544.9 167.8L543.6 168.4L542.3 169.0L541.0 169.6L539.8 170.3L538.5 171.0L537.3 171.7L536.1 172.5L535.0 173.4L533.9 174.3L532.8 175.2L531.7 176.2L530.7 177.2L529.7 178.2L528.8 179.3L527.8 180.4L527.0 181.5L526.1 182.7L525.3 183.9L524.6 185.1L523.9 186.4L523.2 187.7L522.6 188.9L522.1 190.3L521.6 191.6L521.1 193.0L520.7 194.3L520.3 195.7L520.0 197.1L519.7 198.5L519.5 199.9L519.3 201.4L519.2 202.8L519.1 204.2L519.1 205.7L519.1 207.1L519.2 208.5L519.3 210.0L519.5 211.4L519.8 212.8L520.1 214.2L520.5 215.6L520.9 217.0L521.3 218.3L521.9 219.6L522.4 220.9L523.0 222.2L523.7 223.5L524.4 224.7L525.1 225.9L525.9 227.1L526.7 228.3L527.6 229.4L528.5 230.5L529.4 231.5L530.3 232.6L531.3 233.6L532.4 234.5L533.4 235.4L534.5 236.3L535.7 237.1L536.9 237.8L538.1 238.5L539.3 239.1L540.6 239.6L541.0 239.5L540.9 239.1L539.9 238.2L538.8 237.3L537.8 236.5L536.8 235.6L535.9 234.7L534.9 233.7L534.0 232.8L533.1 231.8L532.3 230.8L531.5 229.8L530.7 228.7L529.9 227.7L529.2 226.6L528.5 225.5L527.9 224.3L527.3 223.2L526.8 222.0L526.3 220.8L525.9 219.5L525.5 218.3L525.1 217.1L524.8 215.8L524.5 214.6L524.2 213.3L524.0 212.1L523.9 210.8L523.7 209.5L523.6 208.2L523.6 207.0L523.6 205.7L523.6 204.4L523.7 203.1L523.8 201.8L523.9 200.6L524.1 199.3L524.4 198.1L524.7 196.8L525.0 195.6L525.4 194.4L525.8 193.1L526.2 192.0L526.7 190.8L527.3 189.6L527.8 188.5L528.5 187.3L529.1 186.2L529.8 185.2L530.5 184.1L531.3 183.1L532.1 182.1L532.9 181.1L533.8 180.2L534.7 179.2L535.6 178.4L536.6 177.5L537.5 176.7L538.6 175.9L539.6 175.1L540.7 174.4L541.8 173.7L542.9 173.1L544.0 172.5L545.2 171.9L546.4 171.4L547.6 170.9L548.8 170.5L550.0 170.1L551.2 169.7L552.5 169.4L553.8 169.1L555.0 168.9L556.3 168.7L557.6 168.6L558.9 168.4L560.2 168.4L561.5 168.4L562.8 168.4L564.1 168.5L565.4 168.6L566.7 168.8L568.0 169.0L569.3 169.2L570.6 169.5L571.8 169.9L573.1 170.3L574.3 170.7L575.6 171.2L576.8 171.7L578.0 172.2L579.2 172.8L580.4 173.4L581.5 174.1L582.7 174.7L583.9 175.3Z" fill="#ff4545"/><path d="M582.5 173.8L582.1 173.2L581.1 172.3L580.0 171.4L578.8 170.7L577.6 170.0L576.4 169.4L575.1 168.8L573.8 168.2L572.5 167.7L571.2 167.3L569.9 166.9L568.5 166.5L567.2 166.2L565.8 165.9L564.4 165.7L563.0 165.5L561.6 165.4L560.2 165.4L558.8 165.3L557.4 165.4L556.0 165.5L554.6 165.6L553.2 165.8L551.8 166.0L550.4 166.3L549.0 166.6L547.6 167.0L546.3 167.5L545.0 168.0L543.6 168.5L542.3 169.1L541.1 169.7L539.8 170.4L538.6 171.1L537.4 171.8L536.2 172.6L535.1 173.5L533.9 174.4L532.8 175.3L531.8 176.3L530.8 177.3L529.8 178.3L528.8 179.4L527.9 180.5L527.1 181.6L526.2 182.8L525.4 184.0L524.7 185.2L524.0 186.4L523.3 187.7L522.7 189.0L522.2 190.3L521.7 191.6L521.2 193.0L520.8 194.4L520.4 195.7L520.1 197.1L519.8 198.6L519.6 200.0L519.4 201.4L519.3 202.8L519.2 204.2L519.2 205.7L519.2 207.1L519.3 208.5L519.5 210.0L519.7 211.4L519.9 212.8L520.2 214.2L520.6 215.6L521.0 216.9L521.5 218.3L522.0 219.6L522.6 220.9L523.2 222.2L523.8 223.4L524.5 224.6L525.3 225.8L526.1 227.0L526.9 228.2L527.7 229.3L528.6 230.4L529.5 231.4L530.5 232.4L531.5 233.4L532.5 234.3L533.6 235.2L534.7 236.1L535.9 236.8L537.1 237.5L538.4 238.0L538.6 238.0L538.6 237.8L537.6 236.7L536.7 235.8L535.7 234.9L534.8 233.9L533.9 232.9L533.0 232.0L532.1 230.9L531.3 229.9L530.5 228.9L529.8 227.8L529.1 226.7L528.4 225.5L527.8 224.4L527.2 223.2L526.7 222.0L526.2 220.8L525.7 219.6L525.3 218.4L525.0 217.1L524.7 215.9L524.4 214.6L524.1 213.3L523.9 212.1L523.7 210.8L523.6 209.5L523.5 208.2L523.5 207.0L523.4 205.7L523.5 204.4L523.5 203.1L523.7 201.8L523.8 200.6L524.0 199.3L524.3 198.0L524.6 196.8L524.9 195.5L525.3 194.3L525.7 193.1L526.1 191.9L526.6 190.7L527.2 189.6L527.7 188.4L528.4 187.3L529.0 186.2L529.7 185.1L530.4 184.0L531.2 183.0L532.0 182.0L532.8 181.0L533.7 180.1L534.6 179.2L535.5 178.3L536.5 177.4L537.5 176.6L538.5 175.8L539.5 175.0L540.6 174.3L541.7 173.6L542.8 173.0L544.0 172.4L545.1 171.8L546.3 171.3L547.5 170.8L548.7 170.4L550.0 170.0L551.2 169.6L552.5 169.3L553.7 169.0L555.0 168.7L556.3 168.6L557.6 168.4L558.9 168.3L560.2 168.2L561.5 168.2L562.8 168.2L564.1 168.3L565.4 168.4L566.7 168.6L568.0 168.8L569.3 169.0L570.6 169.3L571.9 169.7L573.2 170.1L574.4 170.5L575.7 171.0L576.9 171.5L578.1 172.0L579.3 172.6L580.5 173.1L581.8 173.7Z" fill="#ff3232"/><path d="M579.5 171.9L578.6 171.0L577.5 170.3L576.2 169.6L575.0 169.0L573.7 168.5L572.5 167.9L571.2 167.5L569.8 167.1L568.5 166.7L567.1 166.4L565.8 166.1L564.4 165.9L563.0 165.7L561.6 165.6L560.2 165.5L558.8 165.5L557.4 165.5L556.0 165.6L554.6 165.7L553.2 165.9L551.8 166.2L550.4 166.4L549.0 166.8L547.7 167.2L546.3 167.6L545.0 168.1L543.7 168.6L542.4 169.2L541.1 169.8L539.9 170.5L538.6 171.2L537.4 171.9L536.3 172.7L535.1 173.6L534.0 174.5L532.9 175.4L531.9 176.3L530.9 177.3L529.9 178.4L528.9 179.4L528.0 180.5L527.2 181.7L526.3 182.8L525.5 184.0L524.8 185.2L524.1 186.5L523.4 187.7L522.8 189.0L522.3 190.4L521.8 191.7L521.3 193.0L520.9 194.4L520.5 195.8L520.2 197.2L519.9 198.6L519.7 200.0L519.5 201.4L519.4 202.8L519.3 204.2L519.3 205.7L519.3 207.1L519.4 208.5L519.6 209.9L519.8 211.4L520.0 212.8L520.3 214.1L520.7 215.5L521.1 216.9L521.6 218.2L522.1 219.5L522.7 220.8L523.3 222.1L524.0 223.3L524.7 224.6L525.4 225.8L526.2 226.9L527.0 228.1L527.9 229.2L528.7 230.2L529.7 231.3L530.6 232.3L531.6 233.3L532.7 234.2L533.8 235.0L534.9 235.8L536.2 236.3L535.5 235.1L534.6 234.1L533.7 233.1L532.8 232.1L532.0 231.1L531.2 230.0L530.4 229.0L529.6 227.9L528.9 226.8L528.3 225.6L527.6 224.5L527.1 223.3L526.5 222.1L526.1 220.9L525.6 219.6L525.2 218.4L524.9 217.2L524.5 215.9L524.2 214.6L524.0 213.4L523.8 212.1L523.6 210.8L523.5 209.5L523.4 208.2L523.4 207.0L523.3 205.7L523.4 204.4L523.4 203.1L523.6 201.8L523.7 200.5L523.9 199.3L524.2 198.0L524.5 196.8L524.8 195.5L525.2 194.3L525.6 193.1L526.0 191.9L526.5 190.7L527.1 189.5L527.6 188.4L528.3 187.2L528.9 186.1L529.6 185.0L530.3 184.0L531.1 182.9L531.9 181.9L532.7 180.9L533.6 180.0L534.5 179.1L535.4 178.2L536.4 177.3L537.4 176.5L538.4 175.7L539.5 174.9L540.5 174.2L541.6 173.5L542.8 172.9L543.9 172.3L545.1 171.7L546.3 171.2L547.5 170.7L548.7 170.2L549.9 169.8L551.2 169.5L552.4 169.1L553.7 168.8L555.0 168.6L556.3 168.4L557.6 168.2L558.9 168.1L560.2 168.1L561.5 168.1L562.8 168.1L564.1 168.1L565.5 168.2L566.8 168.4L568.1 168.6L569.4 168.8L570.7 169.1L572.0 169.5L573.2 169.8L574.5 170.2L575.8 170.7L577.0 171.2L578.3 171.6Z" fill="#ff1e1e"/><path d="M575.1 169.7L574.8 169.5L573.6 168.8L572.4 168.3L571.1 167.8L569.8 167.3L568.4 166.9L567.1 166.6L565.7 166.3L564.4 166.1L563.0 165.9L561.6 165.8L560.2 165.7L558.8 165.7L557.4 165.7L556.0 165.8L554.6 165.9L553.2 166.1L551.8 166.3L550.5 166.6L549.1 166.9L547.7 167.3L546.4 167.7L545.1 168.2L543.7 168.7L542.5 169.3L541.2 169.9L539.9 170.6L538.7 171.3L537.5 172.0L536.3 172.8L535.2 173.7L534.1 174.6L533.0 175.5L532.0 176.4L530.9 177.4L530.0 178.4L529.0 179.5L528.1 180.6L527.2 181.7L526.4 182.9L525.6 184.1L524.9 185.3L524.2 186.5L523.5 187.8L522.9 189.1L522.4 190.4L521.9 191.7L521.4 193.1L521.0 194.4L520.6 195.8L520.3 197.2L520.0 198.6L519.8 200.0L519.6 201.4L519.5 202.8L519.4 204.3L519.4 205.7L519.4 207.1L519.5 208.5L519.7 209.9L519.9 211.3L520.1 212.7L520.5 214.1L520.8 215.5L521.2 216.8L521.7 218.2L522.2 219.5L522.8 220.8L523.4 222.0L524.1 223.3L524.8 224.5L525.6 225.7L526.4 226.8L527.2 228.0L528.0 229.0L528.9 230.1L529.9 231.1L530.8 232.1L531.9 233.0L533.0 233.9L533.8 234.2L533.4 233.4L532.6 232.3L531.8 231.3L531.0 230.2L530.2 229.1L529.5 228.0L528.8 226.9L528.1 225.7L527.5 224.6L526.9 223.4L526.4 222.2L525.9 220.9L525.5 219.7L525.1 218.4L524.7 217.2L524.4 215.9L524.1 214.7L523.9 213.4L523.7 212.1L523.5 210.8L523.4 209.5L523.3 208.3L523.2 207.0L523.2 205.7L523.3 204.4L523.3 203.1L523.4 201.8L523.6 200.5L523.8 199.3L524.1 198.0L524.3 196.7L524.7 195.5L525.1 194.3L525.5 193.0L525.9 191.8L526.4 190.6L527.0 189.5L527.5 188.3L528.2 187.2L528.8 186.1L529.5 185.0L530.2 183.9L531.0 182.9L531.8 181.9L532.7 180.9L533.5 179.9L534.4 179.0L535.4 178.1L536.3 177.2L537.3 176.4L538.3 175.6L539.4 174.8L540.5 174.1L541.6 173.4L542.7 172.8L543.9 172.2L545.0 171.6L546.2 171.1L547.4 170.6L548.6 170.1L549.9 169.7L551.1 169.3L552.4 169.0L553.7 168.7L555.0 168.5L556.3 168.2L557.6 168.1L558.9 168.0L560.2 167.9L561.5 167.9L562.8 167.9L564.2 167.9L565.5 168.0L566.8 168.2L568.1 168.4L569.4 168.6L570.8 168.8L572.1 169.1L573.4 169.5L574.7 169.8Z" fill="#ff0909"/><path d="M570.0 168.0L569.6 167.8L568.4 167.3L567.0 166.9L565.7 166.6L564.3 166.3L563.0 166.1L561.6 166.0L560.2 165.9L558.8 165.9L557.4 165.9L556.0 165.9L554.6 166.1L553.2 166.2L551.9 166.5L550.5 166.7L549.1 167.1L547.8 167.4L546.4 167.9L545.1 168.3L543.8 168.8L542.5 169.4L541.2 170.0L540.0 170.7L538.8 171.4L537.6 172.1L536.4 172.9L535.3 173.8L534.2 174.6L533.1 175.6L532.0 176.5L531.0 177.5L530.0 178.5L529.1 179.6L528.2 180.7L527.3 181.8L526.5 183.0L525.7 184.1L525.0 185.3L524.3 186.6L523.6 187.8L523.0 189.1L522.5 190.4L522.0 191.8L521.5 193.1L521.1 194.5L520.7 195.8L520.4 197.2L520.1 198.6L519.9 200.0L519.7 201.4L519.6 202.8L519.5 204.3L519.5 205.7L519.6 207.1L519.6 208.5L519.8 209.9L520.0 211.3L520.3 212.7L520.6 214.1L520.9 215.5L521.4 216.8L521.8 218.1L522.4 219.4L522.9 220.7L523.6 222.0L524.3 223.2L525.0 224.4L525.7 225.6L526.5 226.7L527.4 227.8L528.2 228.9L529.2 229.9L530.1 230.9L531.2 231.8L531.4 231.8L531.4 231.6L530.7 230.4L530.0 229.3L529.3 228.2L528.6 227.0L527.9 225.8L527.3 224.7L526.8 223.5L526.2 222.2L525.8 221.0L525.4 219.8L525.0 218.5L524.6 217.2L524.3 216.0L524.0 214.7L523.8 213.4L523.6 212.1L523.4 210.8L523.3 209.6L523.2 208.3L523.1 207.0L523.1 205.7L523.1 204.4L523.2 203.1L523.3 201.8L523.5 200.5L523.7 199.2L523.9 198.0L524.2 196.7L524.6 195.5L524.9 194.2L525.4 193.0L525.8 191.8L526.3 190.6L526.9 189.4L527.4 188.3L528.1 187.1L528.7 186.0L529.4 184.9L530.2 183.8L530.9 182.8L531.7 181.8L532.6 180.8L533.4 179.8L534.3 178.9L535.3 178.0L536.3 177.1L537.2 176.3L538.3 175.5L539.3 174.7L540.4 174.0L541.5 173.3L542.6 172.7L543.8 172.0L545.0 171.5L546.2 170.9L547.4 170.4L548.6 170.0L549.8 169.6L551.1 169.2L552.4 168.8L553.7 168.5L554.9 168.3L556.2 168.1L557.6 167.9L558.9 167.8L560.2 167.7L561.5 167.7L562.9 167.7L564.2 167.7L565.5 167.8L566.9 167.9L568.2 168.0L569.6 168.1Z" fill="#f90000"/><path d="M565.5 167.2L564.3 166.7L562.9 166.4L561.6 166.2L560.2 166.1L558.8 166.1L557.4 166.1L556.0 166.1L554.7 166.2L553.3 166.4L551.9 166.6L550.5 166.9L549.2 167.2L547.8 167.6L546.5 168.0L545.2 168.5L543.9 169.0L542.6 169.5L541.3 170.2L540.1 170.8L538.9 171.5L537.7 172.3L536.5 173.0L535.4 173.9L534.2 174.7L533.2 175.7L532.1 176.6L531.1 177.6L530.1 178.6L529.2 179.7L528.3 180.7L527.4 181.9L526.6 183.0L525.8 184.2L525.1 185.4L524.4 186.6L523.7 187.9L523.1 189.2L522.6 190.5L522.1 191.8L521.6 193.1L521.2 194.5L520.8 195.9L520.5 197.2L520.2 198.6L520.0 200.0L519.8 201.4L519.7 202.8L519.7 204.3L519.6 205.7L519.7 207.1L519.8 208.5L519.9 209.9L520.1 211.3L520.4 212.7L520.7 214.1L521.1 215.4L521.5 216.8L522.0 218.1L522.5 219.4L523.1 220.7L523.7 221.9L524.4 223.1L525.2 224.3L526.0 225.4L526.8 226.6L527.7 227.6L528.6 228.6L528.8 228.7L528.8 228.5L528.3 227.2L527.7 226.0L527.1 224.8L526.6 223.6L526.1 222.3L525.6 221.1L525.2 219.8L524.8 218.5L524.5 217.3L524.2 216.0L523.9 214.7L523.6 213.4L523.4 212.2L523.3 210.9L523.2 209.6L523.1 208.3L523.0 207.0L523.0 205.7L523.0 204.4L523.1 203.1L523.2 201.8L523.4 200.5L523.6 199.2L523.8 197.9L524.1 196.7L524.5 195.4L524.8 194.2L525.3 193.0L525.7 191.7L526.2 190.5L526.8 189.4L527.3 188.2L528.0 187.1L528.6 185.9L529.3 184.9L530.1 183.8L530.8 182.7L531.6 181.7L532.5 180.7L533.4 179.7L534.3 178.8L535.2 177.9L536.2 177.0L537.2 176.2L538.2 175.4L539.3 174.6L540.3 173.9L541.4 173.2L542.6 172.5L543.7 171.9L544.9 171.3L546.1 170.8L547.3 170.3L548.6 169.8L549.8 169.4L551.1 169.0L552.3 168.7L553.6 168.4L554.9 168.1L556.2 167.9L557.5 167.7L558.9 167.6L560.2 167.5L561.5 167.4L562.9 167.4L564.2 167.3Z" fill="#ee0000"/><path d="M561.2 166.8L560.2 166.5L558.8 166.4L557.4 166.3L556.1 166.4L554.7 166.5L553.3 166.6L551.9 166.8L550.6 167.1L549.2 167.4L547.9 167.7L546.5 168.1L545.2 168.6L543.9 169.1L542.6 169.7L541.4 170.3L540.1 170.9L538.9 171.6L537.7 172.4L536.6 173.2L535.4 174.0L534.3 174.8L533.3 175.7L532.2 176.7L531.2 177.7L530.2 178.7L529.3 179.7L528.4 180.8L527.5 181.9L526.7 183.1L525.9 184.3L525.2 185.5L524.5 186.7L523.9 187.9L523.2 189.2L522.7 190.5L522.2 191.8L521.7 193.2L521.3 194.5L520.9 195.9L520.6 197.3L520.3 198.6L520.1 200.0L520.0 201.4L519.8 202.9L519.8 204.3L519.8 205.7L519.8 207.1L519.9 208.5L520.0 209.9L520.2 211.3L520.5 212.7L520.8 214.0L521.2 215.4L521.6 216.7L522.1 218.1L522.6 219.3L523.2 220.6L523.9 221.8L524.6 223.0L525.4 224.2L526.3 225.3L526.9 225.7L526.8 225.0L526.3 223.7L525.9 222.4L525.5 221.1L525.1 219.9L524.7 218.6L524.4 217.3L524.0 216.0L523.8 214.8L523.5 213.5L523.3 212.2L523.2 210.9L523.0 209.6L523.0 208.3L522.9 207.0L522.9 205.7L522.9 204.4L523.0 203.1L523.1 201.8L523.3 200.5L523.5 199.2L523.7 197.9L524.0 196.7L524.4 195.4L524.7 194.2L525.2 192.9L525.6 191.7L526.1 190.5L526.7 189.3L527.2 188.2L527.9 187.0L528.5 185.9L529.2 184.8L530.0 183.7L530.7 182.7L531.5 181.6L532.4 180.6L533.3 179.7L534.2 178.7L535.1 177.8L536.1 176.9L537.1 176.1L538.1 175.3L539.2 174.5L540.3 173.8L541.4 173.1L542.5 172.4L543.7 171.8L544.8 171.2L546.0 170.6L547.3 170.1L548.5 169.7L549.8 169.2L551.0 168.8L552.3 168.5L553.6 168.2L554.9 167.9L556.2 167.6L557.5 167.4L558.9 167.3L560.2 167.1Z" fill="#e20000"/><path d="M557.0 166.9L556.1 166.7L554.7 166.8L553.4 166.9L552.0 167.0L550.6 167.3L549.3 167.6L547.9 167.9L546.6 168.3L545.3 168.8L544.0 169.3L542.7 169.8L541.5 170.4L540.2 171.1L539.0 171.8L537.8 172.5L536.7 173.3L535.5 174.1L534.4 174.9L533.3 175.8L532.3 176.8L531.3 177.8L530.3 178.8L529.4 179.8L528.5 180.9L527.6 182.0L526.8 183.1L526.0 184.3L525.3 185.5L524.6 186.7L524.0 188.0L523.4 189.3L522.8 190.6L522.3 191.9L521.8 193.2L521.4 194.6L521.0 195.9L520.7 197.3L520.5 198.7L520.2 200.1L520.1 201.5L520.0 202.9L519.9 204.3L519.9 205.7L519.9 207.1L520.0 208.5L520.1 209.9L520.4 211.3L520.6 212.7L520.9 214.0L521.3 215.4L521.8 216.7L522.2 218.0L522.8 219.3L523.4 220.5L524.1 221.7L524.9 222.9L525.7 223.5L525.6 222.6L525.2 221.2L524.9 219.9L524.5 218.7L524.2 217.4L523.9 216.1L523.6 214.8L523.4 213.5L523.2 212.2L523.0 210.9L522.9 209.6L522.8 208.3L522.8 207.0L522.8 205.7L522.8 204.4L522.9 203.1L523.0 201.8L523.2 200.5L523.4 199.2L523.6 197.9L523.9 196.6L524.2 195.4L524.6 194.1L525.0 192.9L525.5 191.7L526.0 190.5L526.6 189.3L527.1 188.1L527.8 186.9L528.4 185.8L529.1 184.7L529.9 183.6L530.6 182.6L531.4 181.6L532.3 180.5L533.2 179.6L534.1 178.6L535.0 177.7L536.0 176.8L537.0 176.0L538.0 175.2L539.1 174.4L540.2 173.7L541.3 172.9L542.4 172.3L543.6 171.6L544.8 171.0L546.0 170.5L547.2 170.0L548.4 169.5L549.7 169.0L551.0 168.6L552.2 168.3L553.5 167.9L554.8 167.6L556.2 167.3Z" fill="#d70000"/><path d="M552.9 167.5L552.1 167.4L550.7 167.6L549.3 167.8L548.0 168.1L546.7 168.5L545.4 168.9L544.1 169.4L542.8 170.0L541.5 170.6L540.3 171.2L539.1 171.9L537.9 172.6L536.7 173.4L535.6 174.2L534.5 175.1L533.4 176.0L532.4 176.9L531.4 177.9L530.4 178.9L529.5 179.9L528.6 181.0L527.7 182.1L526.9 183.2L526.1 184.4L525.4 185.6L524.7 186.8L524.1 188.1L523.5 189.3L522.9 190.6L522.4 191.9L521.9 193.2L521.5 194.6L521.2 195.9L520.8 197.3L520.6 198.7L520.4 200.1L520.2 201.5L520.1 202.9L520.0 204.3L520.0 205.7L520.0 207.1L520.1 208.5L520.3 209.9L520.5 211.3L520.8 212.6L521.1 214.0L521.5 215.3L521.9 216.7L522.4 218.0L523.0 219.2L523.7 220.4L524.5 221.6L524.8 221.7L524.9 221.4L524.6 220.0L524.3 218.7L524.0 217.4L523.7 216.1L523.5 214.8L523.2 213.5L523.1 212.2L522.9 210.9L522.8 209.6L522.7 208.3L522.7 207.0L522.7 205.7L522.7 204.4L522.8 203.1L522.9 201.8L523.0 200.5L523.2 199.2L523.5 197.9L523.8 196.6L524.1 195.3L524.5 194.1L524.9 192.8L525.4 191.6L525.9 190.4L526.4 189.2L527.0 188.0L527.7 186.9L528.3 185.8L529.0 184.6L529.8 183.6L530.5 182.5L531.3 181.5L532.2 180.5L533.1 179.5L534.0 178.5L534.9 177.6L535.9 176.7L536.9 175.9L538.0 175.1L539.0 174.3L540.1 173.5L541.2 172.8L542.4 172.1L543.5 171.5L544.7 170.9L545.9 170.3L547.1 169.8L548.4 169.3L549.6 168.8L550.9 168.3L552.2 167.9Z" fill="#cb0000"/><path d="M548.8 168.5L548.1 168.5L546.8 168.8L545.5 169.2L544.2 169.7L542.9 170.2L541.6 170.7L540.4 171.4L539.2 172.0L538.0 172.8L536.8 173.5L535.7 174.3L534.6 175.2L533.5 176.1L532.5 177.0L531.5 178.0L530.5 179.0L529.6 180.0L528.7 181.1L527.8 182.2L527.0 183.3L526.2 184.5L525.5 185.6L524.8 186.9L524.2 188.1L523.6 189.4L523.0 190.7L522.5 192.0L522.1 193.3L521.6 194.6L521.3 196.0L521.0 197.3L520.7 198.7L520.5 200.1L520.3 201.5L520.2 202.9L520.1 204.3L520.1 205.7L520.2 207.1L520.2 208.5L520.4 209.9L520.6 211.2L520.9 212.6L521.2 214.0L521.6 215.3L522.1 216.6L522.6 217.9L523.3 219.1L524.1 220.0L524.1 218.8L523.8 217.5L523.6 216.2L523.3 214.9L523.1 213.6L522.9 212.2L522.8 210.9L522.7 209.6L522.6 208.3L522.5 207.0L522.5 205.7L522.6 204.4L522.6 203.0L522.8 201.7L522.9 200.4L523.1 199.1L523.4 197.8L523.7 196.6L524.0 195.3L524.4 194.0L524.8 192.8L525.3 191.6L525.8 190.3L526.3 189.2L526.9 188.0L527.5 186.8L528.2 185.7L528.9 184.6L529.7 183.5L530.4 182.4L531.2 181.4L532.1 180.4L533.0 179.4L533.9 178.4L534.8 177.5L535.8 176.6L536.8 175.7L537.9 174.9L538.9 174.1L540.0 173.4L541.1 172.6L542.3 171.9L543.4 171.3L544.6 170.7L545.8 170.1L547.0 169.5L548.3 168.9Z" fill="#be0000"/><path d="M544.3 170.2L543.0 170.5L541.8 171.0L540.5 171.6L539.3 172.2L538.1 172.9L537.0 173.7L535.8 174.5L534.7 175.3L533.7 176.2L532.6 177.1L531.6 178.1L530.6 179.1L529.7 180.1L528.8 181.2L528.0 182.2L527.1 183.4L526.4 184.5L525.6 185.7L525.0 186.9L524.3 188.2L523.7 189.4L523.2 190.7L522.6 192.0L522.2 193.3L521.8 194.7L521.4 196.0L521.1 197.4L520.8 198.7L520.6 200.1L520.4 201.5L520.3 202.9L520.3 204.3L520.3 205.7L520.3 207.1L520.4 208.5L520.5 209.8L520.8 211.2L521.1 212.6L521.4 213.9L521.8 215.2L522.3 216.5L522.9 217.8L523.4 218.3L523.5 217.6L523.3 216.2L523.1 214.9L522.9 213.6L522.8 212.3L522.6 211.0L522.5 209.6L522.4 208.3L522.4 207.0L522.4 205.7L522.4 204.4L522.5 203.0L522.6 201.7L522.8 200.4L523.0 199.1L523.2 197.8L523.5 196.5L523.9 195.3L524.3 194.0L524.7 192.7L525.1 191.5L525.7 190.3L526.2 189.1L526.8 187.9L527.4 186.7L528.1 185.6L528.8 184.5L529.5 183.4L530.3 182.3L531.1 181.3L532.0 180.3L532.8 179.3L533.8 178.3L534.7 177.4L535.7 176.5L536.7 175.6L537.7 174.8L538.8 173.9L539.9 173.2L541.0 172.4L542.1 171.7L543.3 171.0Z" fill="#b20000"/><path d="M539.6 172.7L539.6 172.7L538.3 173.2L537.1 173.9L536.0 174.7L534.9 175.5L533.8 176.4L532.8 177.3L531.8 178.2L530.8 179.2L529.8 180.2L528.9 181.3L528.1 182.3L527.3 183.5L526.5 184.6L525.8 185.8L525.1 187.0L524.4 188.2L523.8 189.5L523.3 190.8L522.8 192.1L522.3 193.4L521.9 194.7L521.6 196.0L521.2 197.4L521.0 198.8L520.8 200.1L520.6 201.5L520.5 202.9L520.4 204.3L520.4 205.7L520.4 207.1L520.5 208.4L520.7 209.8L521.0 211.2L521.3 212.5L521.6 213.9L522.1 215.2L522.8 216.3L522.8 215.0L522.7 213.6L522.6 212.3L522.4 211.0L522.4 209.7L522.3 208.3L522.2 207.0L522.2 205.7L522.3 204.4L522.3 203.0L522.5 201.7L522.6 200.4L522.8 199.1L523.1 197.8L523.4 196.5L523.7 195.2L524.1 194.0L524.5 192.7L525.0 191.5L525.5 190.2L526.1 189.0L526.7 187.8L527.3 186.7L528.0 185.5L528.7 184.4L529.4 183.3L530.2 182.2L531.0 181.2L531.8 180.1L532.7 179.1L533.6 178.2L534.6 177.2L535.5 176.3L536.5 175.4L537.6 174.5L538.6 173.7L539.6 172.7Z" fill="#a50000"/><path d="M534.8 176.3L534.1 176.6L533.0 177.5L532.0 178.4L531.0 179.4L530.0 180.4L529.1 181.4L528.3 182.5L527.4 183.6L526.7 184.7L525.9 185.9L525.2 187.1L524.6 188.3L524.0 189.6L523.5 190.8L522.9 192.1L522.5 193.4L522.1 194.7L521.7 196.1L521.4 197.4L521.1 198.8L520.9 200.2L520.8 201.5L520.7 202.9L520.6 204.3L520.6 205.7L520.6 207.1L520.7 208.4L520.9 209.8L521.2 211.2L521.5 212.5L522.1 213.8L522.2 213.8L522.2 213.7L522.3 212.4L522.2 211.0L522.2 209.7L522.1 208.3L522.1 207.0L522.1 205.7L522.1 204.3L522.2 203.0L522.3 201.7L522.5 200.4L522.7 199.1L522.9 197.8L523.2 196.5L523.6 195.2L524.0 193.9L524.4 192.6L524.8 191.4L525.4 190.2L525.9 188.9L526.5 187.8L527.1 186.6L527.8 185.4L528.5 184.3L529.2 183.2L530.0 182.1L530.8 181.0L531.6 180.0L532.5 178.9L533.4 177.9L534.3 176.9Z" fill="#980000"/><path d="M530.2 180.9L529.4 181.6L528.5 182.6L527.7 183.7L526.9 184.9L526.1 186.0L525.5 187.2L524.8 188.4L524.2 189.7L523.7 190.9L523.1 192.2L522.7 193.5L522.3 194.8L521.9 196.1L521.6 197.5L521.3 198.8L521.1 200.2L521.0 201.6L520.9 202.9L520.8 204.3L520.8 205.7L520.9 207.0L521.0 208.4L521.2 209.8L521.6 211.1L521.7 211.1L521.8 211.1L521.9 209.7L521.9 208.4L521.8 207.0L521.8 205.7L521.9 204.3L522.0 203.0L522.1 201.7L522.3 200.3L522.5 199.0L522.7 197.7L523.0 196.4L523.4 195.1L523.8 193.8L524.2 192.6L524.6 191.3L525.2 190.1L525.7 188.8L526.3 187.6L526.9 186.5L527.6 185.3L528.3 184.1L529.0 183.0L529.7 181.9Z" fill="#8a0000"/><path d="M524.6 190.1L524.0 191.1L523.5 192.3L523.0 193.6L522.6 194.9L522.2 196.2L521.9 197.5L521.6 198.9L521.4 200.2L521.3 201.6L521.2 202.9L521.2 204.3L521.3 205.6L521.5 204.3L521.6 203.0L521.8 201.6L521.9 200.3L522.2 199.0L522.4 197.6L522.7 196.3L523.1 195.0L523.4 193.7L523.8 192.4L524.3 191.2Z" fill="#810000"/></g>
<circle cx="534.29" cy="176.71" r="1.8" fill="#ffff00" stroke="#111" stroke-width="0.8"/>
<rect x="497" y="142.35" width="126.4" height="126.65" fill="none" stroke="#454545" stroke-width="1"/>
<line x1="511.6" y1="269" x2="511.6" y2="272.6" stroke="#454545" stroke-width="0.95" />
<text x="511.2" y="284" font-size="11.8" text-anchor="middle">-10</text>
<line x1="560.2" y1="269" x2="560.2" y2="272.6" stroke="#454545" stroke-width="0.95" />
<text x="560.2" y="284" font-size="11.8" text-anchor="middle">0</text>
<line x1="608.8" y1="269" x2="608.8" y2="272.6" stroke="#454545" stroke-width="0.95" />
<text x="608.8" y="284" font-size="11.8" text-anchor="middle">10</text>
<text x="559.9" y="298.6" font-size="13.3" text-anchor="middle" textLength="32.6" lengthAdjust="spacingAndGlyphs">Re(<tspan font-style="italic">&#945;</tspan>)</text>
<text x="504.3" y="159.65" font-size="13.3" textLength="16.1" lengthAdjust="spacingAndGlyphs"><tspan font-size="14.7" dy="0.3">(</tspan><tspan dy="-0.3">e</tspan><tspan font-size="14.7" dy="0.3">)</tspan></text>
<text x="535.8" y="159.55" font-size="13.3" font-style="italic" textLength="5.4" lengthAdjust="spacingAndGlyphs">&#8467;</text>
<text x="543.7" y="159.55" font-size="13.3" textLength="11.3" lengthAdjust="spacingAndGlyphs">=</text>
<text x="557" y="159.55" font-size="13.3" textLength="13.3" lengthAdjust="spacingAndGlyphs">95</text>
</g>
<g>
<rect x="635.5" y="3.85" width="8.2" height="126.2" fill="url(#cb)" stroke="#454545" stroke-width="1"/>
<line x1="643.7" y1="3.85" x2="647.3" y2="3.85" stroke="#454545" stroke-width="0.95" />
<text x="649.6" y="7.85" font-size="11.8">1</text>
<line x1="643.7" y1="66.95" x2="647.3" y2="66.95" stroke="#454545" stroke-width="0.95" />
<text x="649.6" y="70.95" font-size="11.8">0.5</text>
<line x1="643.7" y1="130.05" x2="647.3" y2="130.05" stroke="#454545" stroke-width="0.95" />
<text x="649.6" y="134.05" font-size="11.8">0</text>
<g transform="translate(680.4 88.35) rotate(-90)" font-size="13.3"><text x="-0.6" y="0" font-style="italic" textLength="13.4" lengthAdjust="spacingAndGlyphs">W</text><text x="1.6" y="-6.6" font-size="13" textLength="9" lengthAdjust="spacingAndGlyphs">~</text><text x="14.2" y="0.2" font-size="14.7">(</text><text x="19.6" y="0" font-style="italic" textLength="7.6" lengthAdjust="spacingAndGlyphs">&#945;</text><text x="27.6" y="0">,</text><text x="29.7" y="0" font-style="italic" textLength="7.6" lengthAdjust="spacingAndGlyphs">&#945;</text><text x="36.9" y="-3.8" font-size="10.5">*</text><text x="41.8" y="0.2" font-size="14.7">)</text></g>
</g>
<g>
<rect x="635.5" y="142.35" width="8.2" height="126.65" fill="url(#cb)" stroke="#454545" stroke-width="1"/>
<line x1="643.7" y1="142.35" x2="647.3" y2="142.35" stroke="#454545" stroke-width="0.95" />
<text x="649.6" y="146.35" font-size="11.8">1</text>
<line x1="643.7" y1="205.68" x2="647.3" y2="205.68" stroke="#454545" stroke-width="0.95" />
<text x="649.6" y="209.68" font-size="11.8">0.5</text>
<line x1="643.7" y1="269" x2="647.3" y2="269" stroke="#454545" stroke-width="0.95" />
<text x="649.6" y="273" font-size="11.8">0</text>
<g transform="translate(680.4 227.08) rotate(-90)" font-size="13.3"><text x="-0.6" y="0" font-style="italic" textLength="13.4" lengthAdjust="spacingAndGlyphs">W</text><text x="1.6" y="-6.6" font-size="13" textLength="9" lengthAdjust="spacingAndGlyphs">~</text><text x="14.2" y="0.2" font-size="14.7">(</text><text x="19.6" y="0" font-style="italic" textLength="7.6" lengthAdjust="spacingAndGlyphs">&#945;</text><text x="27.6" y="0">,</text><text x="29.7" y="0" font-style="italic" textLength="7.6" lengthAdjust="spacingAndGlyphs">&#945;</text><text x="36.9" y="-3.8" font-size="10.5">*</text><text x="41.8" y="0.2" font-size="14.7">)</text></g>
</g>
</svg></body></html>
